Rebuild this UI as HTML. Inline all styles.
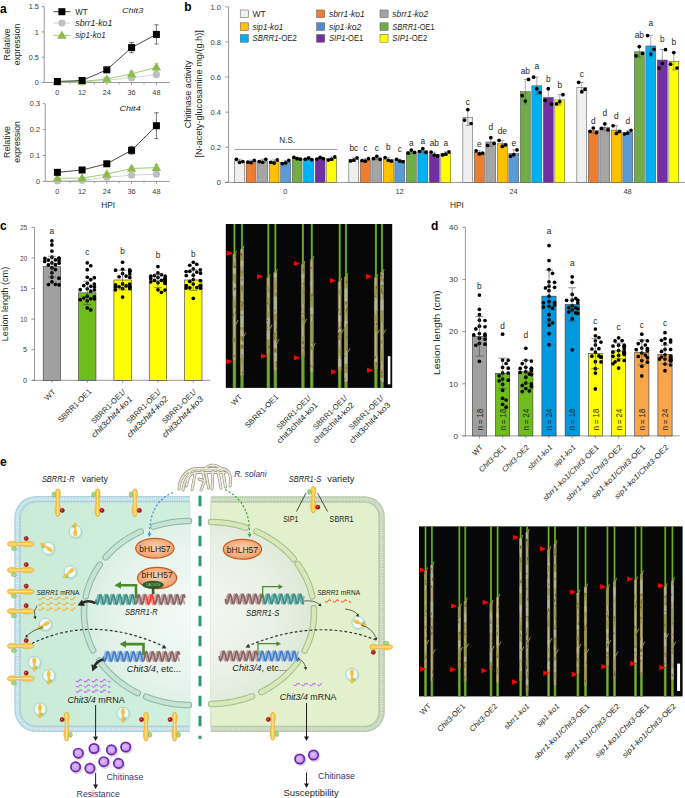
<!DOCTYPE html>
<html><head><meta charset="utf-8"><title>Figure</title>
<style>html,body{margin:0;padding:0;background:#fff;width:685px;height:798px;overflow:hidden;font-family:"Liberation Sans",sans-serif;}svg{display:block;}</style>
</head><body>
<svg width="685" height="798" viewBox="0 0 685 798" font-family='"Liberation Sans", sans-serif'>
<rect x="0.00" y="0.00" width="685.00" height="798.00" fill="#ffffff" stroke="none" stroke-width="0.5"/>
<defs><linearGradient id="gculm" x1="0" y1="0" x2="1" y2="0"><stop offset="0" stop-color="#3e7512"/><stop offset="0.45" stop-color="#79b536"/><stop offset="1" stop-color="#44801a"/></linearGradient><linearGradient id="gsheath" x1="0" y1="0" x2="1" y2="0"><stop offset="0" stop-color="#686230"/><stop offset="0.45" stop-color="#c2bc96"/><stop offset="1" stop-color="#6e6632"/></linearGradient><linearGradient id="gsheathg" x1="0" y1="0" x2="1" y2="0"><stop offset="0" stop-color="#44761a"/><stop offset="0.45" stop-color="#86b23e"/><stop offset="1" stop-color="#4c7e1c"/></linearGradient></defs>
<text x="0.00" y="12.50" font-size="12" text-anchor="start" fill="#000" font-weight="bold">a</text>
<g>
<line x1="44.20" y1="6.60" x2="44.20" y2="82.50" stroke="#6e6e6e" stroke-width="0.7"/>
<line x1="41.70" y1="82.50" x2="44.20" y2="82.50" stroke="#6e6e6e" stroke-width="0.7"/>
<text x="38.90" y="85.10" font-size="7.3" text-anchor="end" fill="#3a3a3a">0</text>
<line x1="41.70" y1="57.20" x2="44.20" y2="57.20" stroke="#6e6e6e" stroke-width="0.7"/>
<text x="38.90" y="59.80" font-size="7.3" text-anchor="end" fill="#3a3a3a">0.5</text>
<line x1="41.70" y1="31.90" x2="44.20" y2="31.90" stroke="#6e6e6e" stroke-width="0.7"/>
<text x="38.90" y="34.50" font-size="7.3" text-anchor="end" fill="#3a3a3a">1</text>
<line x1="41.70" y1="6.60" x2="44.20" y2="6.60" stroke="#6e6e6e" stroke-width="0.7"/>
<text x="38.90" y="9.20" font-size="7.3" text-anchor="end" fill="#3a3a3a">1.5</text>
<line x1="44.20" y1="82.50" x2="169.60" y2="82.50" stroke="#6e6e6e" stroke-width="0.7"/>
<line x1="57.40" y1="82.50" x2="57.40" y2="85.00" stroke="#6e6e6e" stroke-width="0.7"/>
<text x="57.40" y="95.10" font-size="7.3" text-anchor="middle" fill="#3a3a3a">0</text>
<line x1="82.10" y1="82.50" x2="82.10" y2="85.00" stroke="#6e6e6e" stroke-width="0.7"/>
<text x="82.10" y="95.10" font-size="7.3" text-anchor="middle" fill="#3a3a3a">12</text>
<line x1="106.80" y1="82.50" x2="106.80" y2="85.00" stroke="#6e6e6e" stroke-width="0.7"/>
<text x="106.80" y="95.10" font-size="7.3" text-anchor="middle" fill="#3a3a3a">24</text>
<line x1="131.60" y1="82.50" x2="131.60" y2="85.00" stroke="#6e6e6e" stroke-width="0.7"/>
<text x="131.60" y="95.10" font-size="7.3" text-anchor="middle" fill="#3a3a3a">36</text>
<line x1="156.40" y1="82.50" x2="156.40" y2="85.00" stroke="#6e6e6e" stroke-width="0.7"/>
<text x="156.40" y="95.10" font-size="7.3" text-anchor="middle" fill="#3a3a3a">48</text>
<line x1="69.80" y1="82.50" x2="69.80" y2="84.30" stroke="#6e6e6e" stroke-width="0.6"/>
<line x1="94.40" y1="82.50" x2="94.40" y2="84.30" stroke="#6e6e6e" stroke-width="0.6"/>
<line x1="119.20" y1="82.50" x2="119.20" y2="84.30" stroke="#6e6e6e" stroke-width="0.6"/>
<line x1="144.00" y1="82.50" x2="144.00" y2="84.30" stroke="#6e6e6e" stroke-width="0.6"/>
<text x="122.00" y="12.80" font-size="8.0" text-anchor="start" fill="#231f20" textLength="21.2" lengthAdjust="spacingAndGlyphs" font-style="italic">Chit3</text>
<path d="M57.40 82.25 L82.10 81.99 L106.80 79.97 L131.60 77.95 L156.40 74.40" fill="none" stroke="#c8c8c8" stroke-width="0.8"/>
<line x1="106.80" y1="78.96" x2="106.80" y2="80.98" stroke="#c8c8c8" stroke-width="0.6"/>
<line x1="104.60" y1="78.96" x2="109.00" y2="78.96" stroke="#c8c8c8" stroke-width="0.6"/>
<line x1="104.60" y1="80.98" x2="109.00" y2="80.98" stroke="#c8c8c8" stroke-width="0.6"/>
<line x1="131.60" y1="76.43" x2="131.60" y2="79.46" stroke="#c8c8c8" stroke-width="0.6"/>
<line x1="129.40" y1="76.43" x2="133.80" y2="76.43" stroke="#c8c8c8" stroke-width="0.6"/>
<line x1="129.40" y1="79.46" x2="133.80" y2="79.46" stroke="#c8c8c8" stroke-width="0.6"/>
<line x1="156.40" y1="72.89" x2="156.40" y2="75.92" stroke="#c8c8c8" stroke-width="0.6"/>
<line x1="154.20" y1="72.89" x2="158.60" y2="72.89" stroke="#c8c8c8" stroke-width="0.6"/>
<line x1="154.20" y1="75.92" x2="158.60" y2="75.92" stroke="#c8c8c8" stroke-width="0.6"/>
<circle cx="57.40" cy="82.25" r="3.60" fill="#c0c0c0" stroke="none" stroke-width="0.5"/>
<circle cx="82.10" cy="81.99" r="3.60" fill="#c0c0c0" stroke="none" stroke-width="0.5"/>
<circle cx="106.80" cy="79.97" r="3.60" fill="#c0c0c0" stroke="none" stroke-width="0.5"/>
<circle cx="131.60" cy="77.95" r="3.60" fill="#c0c0c0" stroke="none" stroke-width="0.5"/>
<circle cx="156.40" cy="74.40" r="3.60" fill="#c0c0c0" stroke="none" stroke-width="0.5"/>
<path d="M57.40 81.99 L82.10 81.49 L106.80 78.96 L131.60 73.90 L156.40 67.32" fill="none" stroke="#8cbb4c" stroke-width="0.8"/>
<line x1="106.80" y1="77.95" x2="106.80" y2="79.97" stroke="#8cbb4c" stroke-width="0.6"/>
<line x1="104.60" y1="77.95" x2="109.00" y2="77.95" stroke="#8cbb4c" stroke-width="0.6"/>
<line x1="104.60" y1="79.97" x2="109.00" y2="79.97" stroke="#8cbb4c" stroke-width="0.6"/>
<line x1="131.60" y1="71.87" x2="131.60" y2="75.92" stroke="#8cbb4c" stroke-width="0.6"/>
<line x1="129.40" y1="71.87" x2="133.80" y2="71.87" stroke="#8cbb4c" stroke-width="0.6"/>
<line x1="129.40" y1="75.92" x2="133.80" y2="75.92" stroke="#8cbb4c" stroke-width="0.6"/>
<line x1="156.40" y1="63.78" x2="156.40" y2="70.86" stroke="#8cbb4c" stroke-width="0.6"/>
<line x1="154.20" y1="63.78" x2="158.60" y2="63.78" stroke="#8cbb4c" stroke-width="0.6"/>
<line x1="154.20" y1="70.86" x2="158.60" y2="70.86" stroke="#8cbb4c" stroke-width="0.6"/>
<path d="M57.40 77.19 L62.10 85.29 L52.70 85.29 Z" fill="#8cbb4c" stroke="none" stroke-width="0"/>
<path d="M82.10 76.69 L86.80 84.79 L77.40 84.79 Z" fill="#8cbb4c" stroke="none" stroke-width="0"/>
<path d="M106.80 74.16 L111.50 82.26 L102.10 82.26 Z" fill="#8cbb4c" stroke="none" stroke-width="0"/>
<path d="M131.60 69.10 L136.30 77.20 L126.90 77.20 Z" fill="#8cbb4c" stroke="none" stroke-width="0"/>
<path d="M156.40 62.52 L161.10 70.62 L151.70 70.62 Z" fill="#8cbb4c" stroke="none" stroke-width="0"/>
<path d="M57.40 81.49 L82.10 80.48 L106.80 69.85 L131.60 47.59 L156.40 34.43" fill="none" stroke="#1a1a1a" stroke-width="0.8"/>
<line x1="106.80" y1="68.84" x2="106.80" y2="70.86" stroke="#1a1a1a" stroke-width="0.6"/>
<line x1="104.60" y1="68.84" x2="109.00" y2="68.84" stroke="#1a1a1a" stroke-width="0.6"/>
<line x1="104.60" y1="70.86" x2="109.00" y2="70.86" stroke="#1a1a1a" stroke-width="0.6"/>
<line x1="131.60" y1="42.53" x2="131.60" y2="52.65" stroke="#1a1a1a" stroke-width="0.6"/>
<line x1="129.40" y1="42.53" x2="133.80" y2="42.53" stroke="#1a1a1a" stroke-width="0.6"/>
<line x1="129.40" y1="52.65" x2="133.80" y2="52.65" stroke="#1a1a1a" stroke-width="0.6"/>
<line x1="156.40" y1="24.82" x2="156.40" y2="44.04" stroke="#1a1a1a" stroke-width="0.6"/>
<line x1="154.20" y1="24.82" x2="158.60" y2="24.82" stroke="#1a1a1a" stroke-width="0.6"/>
<line x1="154.20" y1="44.04" x2="158.60" y2="44.04" stroke="#1a1a1a" stroke-width="0.6"/>
<rect x="53.90" y="77.99" width="7.00" height="7.00" fill="#000" stroke="none" stroke-width="0.5"/>
<rect x="78.60" y="76.98" width="7.00" height="7.00" fill="#000" stroke="none" stroke-width="0.5"/>
<rect x="103.30" y="66.35" width="7.00" height="7.00" fill="#000" stroke="none" stroke-width="0.5"/>
<rect x="128.10" y="44.09" width="7.00" height="7.00" fill="#000" stroke="none" stroke-width="0.5"/>
<rect x="152.90" y="30.93" width="7.00" height="7.00" fill="#000" stroke="none" stroke-width="0.5"/>
<line x1="45.30" y1="103.70" x2="45.30" y2="181.40" stroke="#6e6e6e" stroke-width="0.7"/>
<line x1="42.80" y1="181.40" x2="45.30" y2="181.40" stroke="#6e6e6e" stroke-width="0.7"/>
<text x="40.00" y="184.00" font-size="7.3" text-anchor="end" fill="#3a3a3a">0</text>
<line x1="42.80" y1="155.50" x2="45.30" y2="155.50" stroke="#6e6e6e" stroke-width="0.7"/>
<text x="40.00" y="158.10" font-size="7.3" text-anchor="end" fill="#3a3a3a">0.1</text>
<line x1="42.80" y1="129.60" x2="45.30" y2="129.60" stroke="#6e6e6e" stroke-width="0.7"/>
<text x="40.00" y="132.20" font-size="7.3" text-anchor="end" fill="#3a3a3a">0.2</text>
<line x1="42.80" y1="103.70" x2="45.30" y2="103.70" stroke="#6e6e6e" stroke-width="0.7"/>
<text x="40.00" y="106.30" font-size="7.3" text-anchor="end" fill="#3a3a3a">0.3</text>
<line x1="45.30" y1="181.40" x2="169.60" y2="181.40" stroke="#6e6e6e" stroke-width="0.7"/>
<line x1="57.40" y1="181.40" x2="57.40" y2="183.90" stroke="#6e6e6e" stroke-width="0.7"/>
<text x="57.40" y="194.00" font-size="7.3" text-anchor="middle" fill="#3a3a3a">0</text>
<line x1="82.10" y1="181.40" x2="82.10" y2="183.90" stroke="#6e6e6e" stroke-width="0.7"/>
<text x="82.10" y="194.00" font-size="7.3" text-anchor="middle" fill="#3a3a3a">12</text>
<line x1="106.80" y1="181.40" x2="106.80" y2="183.90" stroke="#6e6e6e" stroke-width="0.7"/>
<text x="106.80" y="194.00" font-size="7.3" text-anchor="middle" fill="#3a3a3a">24</text>
<line x1="131.60" y1="181.40" x2="131.60" y2="183.90" stroke="#6e6e6e" stroke-width="0.7"/>
<text x="131.60" y="194.00" font-size="7.3" text-anchor="middle" fill="#3a3a3a">36</text>
<line x1="156.40" y1="181.40" x2="156.40" y2="183.90" stroke="#6e6e6e" stroke-width="0.7"/>
<text x="156.40" y="194.00" font-size="7.3" text-anchor="middle" fill="#3a3a3a">48</text>
<line x1="69.80" y1="181.40" x2="69.80" y2="183.20" stroke="#6e6e6e" stroke-width="0.6"/>
<line x1="94.40" y1="181.40" x2="94.40" y2="183.20" stroke="#6e6e6e" stroke-width="0.6"/>
<line x1="119.20" y1="181.40" x2="119.20" y2="183.20" stroke="#6e6e6e" stroke-width="0.6"/>
<line x1="144.00" y1="181.40" x2="144.00" y2="183.20" stroke="#6e6e6e" stroke-width="0.6"/>
<text x="119.50" y="111.20" font-size="8.0" text-anchor="start" fill="#231f20" textLength="21.2" lengthAdjust="spacingAndGlyphs" font-style="italic">Chit4</text>
<path d="M57.40 180.88 L82.10 180.36 L106.80 177.26 L131.60 175.18 L156.40 174.15" fill="none" stroke="#c8c8c8" stroke-width="0.8"/>
<line x1="106.80" y1="176.48" x2="106.80" y2="178.03" stroke="#c8c8c8" stroke-width="0.6"/>
<line x1="104.60" y1="176.48" x2="109.00" y2="176.48" stroke="#c8c8c8" stroke-width="0.6"/>
<line x1="104.60" y1="178.03" x2="109.00" y2="178.03" stroke="#c8c8c8" stroke-width="0.6"/>
<line x1="131.60" y1="174.15" x2="131.60" y2="176.22" stroke="#c8c8c8" stroke-width="0.6"/>
<line x1="129.40" y1="174.15" x2="133.80" y2="174.15" stroke="#c8c8c8" stroke-width="0.6"/>
<line x1="129.40" y1="176.22" x2="133.80" y2="176.22" stroke="#c8c8c8" stroke-width="0.6"/>
<line x1="156.40" y1="172.85" x2="156.40" y2="175.44" stroke="#c8c8c8" stroke-width="0.6"/>
<line x1="154.20" y1="172.85" x2="158.60" y2="172.85" stroke="#c8c8c8" stroke-width="0.6"/>
<line x1="154.20" y1="175.44" x2="158.60" y2="175.44" stroke="#c8c8c8" stroke-width="0.6"/>
<circle cx="57.40" cy="180.88" r="3.60" fill="#c0c0c0" stroke="none" stroke-width="0.5"/>
<circle cx="82.10" cy="180.36" r="3.60" fill="#c0c0c0" stroke="none" stroke-width="0.5"/>
<circle cx="106.80" cy="177.26" r="3.60" fill="#c0c0c0" stroke="none" stroke-width="0.5"/>
<circle cx="131.60" cy="175.18" r="3.60" fill="#c0c0c0" stroke="none" stroke-width="0.5"/>
<circle cx="156.40" cy="174.15" r="3.60" fill="#c0c0c0" stroke="none" stroke-width="0.5"/>
<path d="M57.40 178.29 L82.10 178.03 L106.80 174.15 L131.60 168.45 L156.40 167.67" fill="none" stroke="#8cbb4c" stroke-width="0.8"/>
<line x1="106.80" y1="173.11" x2="106.80" y2="175.18" stroke="#8cbb4c" stroke-width="0.6"/>
<line x1="104.60" y1="173.11" x2="109.00" y2="173.11" stroke="#8cbb4c" stroke-width="0.6"/>
<line x1="104.60" y1="175.18" x2="109.00" y2="175.18" stroke="#8cbb4c" stroke-width="0.6"/>
<line x1="131.60" y1="166.38" x2="131.60" y2="170.52" stroke="#8cbb4c" stroke-width="0.6"/>
<line x1="129.40" y1="166.38" x2="133.80" y2="166.38" stroke="#8cbb4c" stroke-width="0.6"/>
<line x1="129.40" y1="170.52" x2="133.80" y2="170.52" stroke="#8cbb4c" stroke-width="0.6"/>
<line x1="156.40" y1="164.56" x2="156.40" y2="170.78" stroke="#8cbb4c" stroke-width="0.6"/>
<line x1="154.20" y1="164.56" x2="158.60" y2="164.56" stroke="#8cbb4c" stroke-width="0.6"/>
<line x1="154.20" y1="170.78" x2="158.60" y2="170.78" stroke="#8cbb4c" stroke-width="0.6"/>
<path d="M57.40 173.49 L62.10 181.59 L52.70 181.59 Z" fill="#8cbb4c" stroke="none" stroke-width="0"/>
<path d="M82.10 173.23 L86.80 181.33 L77.40 181.33 Z" fill="#8cbb4c" stroke="none" stroke-width="0"/>
<path d="M106.80 169.35 L111.50 177.45 L102.10 177.45 Z" fill="#8cbb4c" stroke="none" stroke-width="0"/>
<path d="M131.60 163.65 L136.30 171.75 L126.90 171.75 Z" fill="#8cbb4c" stroke="none" stroke-width="0"/>
<path d="M156.40 162.87 L161.10 170.97 L151.70 170.97 Z" fill="#8cbb4c" stroke="none" stroke-width="0"/>
<path d="M57.40 172.34 L82.10 170.00 L106.80 163.79 L131.60 150.32 L156.40 125.72" fill="none" stroke="#1a1a1a" stroke-width="0.8"/>
<line x1="106.80" y1="162.75" x2="106.80" y2="164.82" stroke="#1a1a1a" stroke-width="0.6"/>
<line x1="104.60" y1="162.75" x2="109.00" y2="162.75" stroke="#1a1a1a" stroke-width="0.6"/>
<line x1="104.60" y1="164.82" x2="109.00" y2="164.82" stroke="#1a1a1a" stroke-width="0.6"/>
<line x1="131.60" y1="146.44" x2="131.60" y2="154.20" stroke="#1a1a1a" stroke-width="0.6"/>
<line x1="129.40" y1="146.44" x2="133.80" y2="146.44" stroke="#1a1a1a" stroke-width="0.6"/>
<line x1="129.40" y1="154.20" x2="133.80" y2="154.20" stroke="#1a1a1a" stroke-width="0.6"/>
<line x1="156.40" y1="112.77" x2="156.40" y2="138.66" stroke="#1a1a1a" stroke-width="0.6"/>
<line x1="154.20" y1="112.77" x2="158.60" y2="112.77" stroke="#1a1a1a" stroke-width="0.6"/>
<line x1="154.20" y1="138.66" x2="158.60" y2="138.66" stroke="#1a1a1a" stroke-width="0.6"/>
<rect x="53.90" y="168.84" width="7.00" height="7.00" fill="#000" stroke="none" stroke-width="0.5"/>
<rect x="78.60" y="166.50" width="7.00" height="7.00" fill="#000" stroke="none" stroke-width="0.5"/>
<rect x="103.30" y="160.29" width="7.00" height="7.00" fill="#000" stroke="none" stroke-width="0.5"/>
<rect x="128.10" y="146.82" width="7.00" height="7.00" fill="#000" stroke="none" stroke-width="0.5"/>
<rect x="152.90" y="122.22" width="7.00" height="7.00" fill="#000" stroke="none" stroke-width="0.5"/>
<text x="9.90" y="44.50" font-size="8.7" text-anchor="middle" fill="#231f20" textLength="32.1" lengthAdjust="spacingAndGlyphs" transform="rotate(-90 9.9 44.5)">Relative</text>
<text x="19.70" y="44.50" font-size="8.7" text-anchor="middle" fill="#231f20" textLength="41.6" lengthAdjust="spacingAndGlyphs" transform="rotate(-90 19.7 44.5)">expression</text>
<text x="9.90" y="142.00" font-size="8.7" text-anchor="middle" fill="#231f20" textLength="32.1" lengthAdjust="spacingAndGlyphs" transform="rotate(-90 9.9 142)">Relative</text>
<text x="19.70" y="142.00" font-size="8.7" text-anchor="middle" fill="#231f20" textLength="41.6" lengthAdjust="spacingAndGlyphs" transform="rotate(-90 19.7 142)">expression</text>
<text x="108.10" y="207.60" font-size="8.2" text-anchor="middle" fill="#231f20" textLength="13.8" lengthAdjust="spacingAndGlyphs">HPI</text>
<line x1="53.40" y1="11.70" x2="70.40" y2="11.70" stroke="#1a1a1a" stroke-width="0.8"/>
<rect x="58.40" y="8.20" width="7.00" height="7.00" fill="#000" stroke="none" stroke-width="0.5"/>
<text x="75.30" y="14.70" font-size="8.3" text-anchor="start" fill="#231f20" textLength="12.4" lengthAdjust="spacingAndGlyphs">WT</text>
<line x1="53.40" y1="23.00" x2="70.40" y2="23.00" stroke="#c8c8c8" stroke-width="0.8"/>
<circle cx="61.90" cy="23.00" r="3.60" fill="#c0c0c0" stroke="none" stroke-width="0.5"/>
<text x="75.30" y="26.00" font-size="8.3" text-anchor="start" fill="#231f20" textLength="37.1" lengthAdjust="spacingAndGlyphs" font-style="italic">sbrr1-ko1</text>
<line x1="53.40" y1="35.40" x2="70.40" y2="35.40" stroke="#8cbb4c" stroke-width="0.8"/>
<path d="M61.90 30.60 L66.60 38.70 L57.20 38.70 Z" fill="#8cbb4c" stroke="none" stroke-width="0"/>
<text x="75.30" y="38.40" font-size="8.3" text-anchor="start" fill="#231f20" textLength="30.4" lengthAdjust="spacingAndGlyphs" font-style="italic">sip1-ko1</text>
</g>
<text x="184.30" y="10.50" font-size="12" text-anchor="start" fill="#000" font-weight="bold">b</text>
<line x1="228.60" y1="6.80" x2="228.60" y2="182.40" stroke="#6e6e6e" stroke-width="0.7"/>
<line x1="225.30" y1="182.40" x2="228.60" y2="182.40" stroke="#6e6e6e" stroke-width="0.7"/>
<text x="221.00" y="185.10" font-size="7.5" text-anchor="end" fill="#3a3a3a">0</text>
<line x1="225.30" y1="147.28" x2="228.60" y2="147.28" stroke="#6e6e6e" stroke-width="0.7"/>
<text x="221.00" y="149.98" font-size="7.5" text-anchor="end" fill="#3a3a3a">0.2</text>
<line x1="225.30" y1="112.16" x2="228.60" y2="112.16" stroke="#6e6e6e" stroke-width="0.7"/>
<text x="221.00" y="114.86" font-size="7.5" text-anchor="end" fill="#3a3a3a">0.4</text>
<line x1="225.30" y1="77.04" x2="228.60" y2="77.04" stroke="#6e6e6e" stroke-width="0.7"/>
<text x="221.00" y="79.74" font-size="7.5" text-anchor="end" fill="#3a3a3a">0.6</text>
<line x1="225.30" y1="41.92" x2="228.60" y2="41.92" stroke="#6e6e6e" stroke-width="0.7"/>
<text x="221.00" y="44.62" font-size="7.5" text-anchor="end" fill="#3a3a3a">0.8</text>
<line x1="225.30" y1="6.80" x2="228.60" y2="6.80" stroke="#6e6e6e" stroke-width="0.7"/>
<text x="221.00" y="9.50" font-size="7.5" text-anchor="end" fill="#3a3a3a">1.0</text>
<line x1="225.30" y1="182.40" x2="685.00" y2="182.40" stroke="#6e6e6e" stroke-width="0.7"/>
<text x="191.20" y="94.40" font-size="8.8" text-anchor="middle" fill="#231f20" textLength="67.7" lengthAdjust="spacingAndGlyphs" transform="rotate(-90 191.2 94.4)">Chitinase activity</text>
<text x="201.90" y="93.90" font-size="8.8" text-anchor="middle" fill="#231f20" textLength="127.4" lengthAdjust="spacingAndGlyphs" transform="rotate(-90 201.9 93.9)">[N-acety-glucosamine mg/(g.h)]</text>
<rect x="234.65" y="160.98" width="9.90" height="21.42" fill="#efefef" stroke="#4a4a4a" stroke-width="0.5"/>
<line x1="239.60" y1="159.22" x2="239.60" y2="162.73" stroke="#555" stroke-width="0.5"/>
<line x1="237.60" y1="159.22" x2="241.60" y2="159.22" stroke="#555" stroke-width="0.5"/>
<line x1="237.60" y1="162.73" x2="241.60" y2="162.73" stroke="#555" stroke-width="0.5"/>
<circle cx="236.40" cy="159.24" r="1.85" fill="#000" stroke="none" stroke-width="0.5"/>
<circle cx="239.60" cy="162.33" r="1.85" fill="#000" stroke="none" stroke-width="0.5"/>
<circle cx="242.80" cy="161.56" r="1.85" fill="#000" stroke="none" stroke-width="0.5"/>
<rect x="246.15" y="161.68" width="9.90" height="20.72" fill="#ed7d31" stroke="#4a4a4a" stroke-width="0.5"/>
<line x1="251.10" y1="160.27" x2="251.10" y2="163.08" stroke="#555" stroke-width="0.5"/>
<line x1="249.10" y1="160.27" x2="253.10" y2="160.27" stroke="#555" stroke-width="0.5"/>
<line x1="249.10" y1="163.08" x2="253.10" y2="163.08" stroke="#555" stroke-width="0.5"/>
<circle cx="247.90" cy="162.14" r="1.85" fill="#000" stroke="none" stroke-width="0.5"/>
<circle cx="251.10" cy="162.76" r="1.85" fill="#000" stroke="none" stroke-width="0.5"/>
<circle cx="254.30" cy="160.29" r="1.85" fill="#000" stroke="none" stroke-width="0.5"/>
<rect x="257.65" y="160.98" width="9.90" height="21.42" fill="#a5a5a5" stroke="#4a4a4a" stroke-width="0.5"/>
<line x1="262.60" y1="159.22" x2="262.60" y2="162.73" stroke="#555" stroke-width="0.5"/>
<line x1="260.60" y1="159.22" x2="264.60" y2="159.22" stroke="#555" stroke-width="0.5"/>
<line x1="260.60" y1="162.73" x2="264.60" y2="162.73" stroke="#555" stroke-width="0.5"/>
<circle cx="259.40" cy="161.56" r="1.85" fill="#000" stroke="none" stroke-width="0.5"/>
<circle cx="262.60" cy="162.33" r="1.85" fill="#000" stroke="none" stroke-width="0.5"/>
<circle cx="265.80" cy="159.24" r="1.85" fill="#000" stroke="none" stroke-width="0.5"/>
<rect x="269.15" y="161.68" width="9.90" height="20.72" fill="#ffc000" stroke="#4a4a4a" stroke-width="0.5"/>
<line x1="274.10" y1="159.92" x2="274.10" y2="163.44" stroke="#555" stroke-width="0.5"/>
<line x1="272.10" y1="159.92" x2="276.10" y2="159.92" stroke="#555" stroke-width="0.5"/>
<line x1="272.10" y1="163.44" x2="276.10" y2="163.44" stroke="#555" stroke-width="0.5"/>
<circle cx="270.90" cy="162.26" r="1.85" fill="#000" stroke="none" stroke-width="0.5"/>
<circle cx="274.10" cy="163.03" r="1.85" fill="#000" stroke="none" stroke-width="0.5"/>
<circle cx="277.30" cy="159.94" r="1.85" fill="#000" stroke="none" stroke-width="0.5"/>
<rect x="280.65" y="162.21" width="9.90" height="20.19" fill="#5b9bd5" stroke="#4a4a4a" stroke-width="0.5"/>
<line x1="285.60" y1="160.45" x2="285.60" y2="163.96" stroke="#555" stroke-width="0.5"/>
<line x1="283.60" y1="160.45" x2="287.60" y2="160.45" stroke="#555" stroke-width="0.5"/>
<line x1="283.60" y1="163.96" x2="287.60" y2="163.96" stroke="#555" stroke-width="0.5"/>
<circle cx="282.40" cy="163.56" r="1.85" fill="#000" stroke="none" stroke-width="0.5"/>
<circle cx="285.60" cy="162.79" r="1.85" fill="#000" stroke="none" stroke-width="0.5"/>
<circle cx="288.80" cy="160.47" r="1.85" fill="#000" stroke="none" stroke-width="0.5"/>
<rect x="292.15" y="158.34" width="9.90" height="24.06" fill="#70ad47" stroke="#4a4a4a" stroke-width="0.5"/>
<line x1="297.10" y1="157.29" x2="297.10" y2="159.40" stroke="#555" stroke-width="0.5"/>
<line x1="295.10" y1="157.29" x2="299.10" y2="157.29" stroke="#555" stroke-width="0.5"/>
<line x1="295.10" y1="159.40" x2="299.10" y2="159.40" stroke="#555" stroke-width="0.5"/>
<circle cx="293.90" cy="157.30" r="1.85" fill="#000" stroke="none" stroke-width="0.5"/>
<circle cx="297.10" cy="158.69" r="1.85" fill="#000" stroke="none" stroke-width="0.5"/>
<circle cx="300.30" cy="159.15" r="1.85" fill="#000" stroke="none" stroke-width="0.5"/>
<rect x="303.65" y="158.87" width="9.90" height="23.53" fill="#00b0f0" stroke="#4a4a4a" stroke-width="0.5"/>
<line x1="308.60" y1="157.82" x2="308.60" y2="159.92" stroke="#555" stroke-width="0.5"/>
<line x1="306.60" y1="157.82" x2="310.60" y2="157.82" stroke="#555" stroke-width="0.5"/>
<line x1="306.60" y1="159.92" x2="310.60" y2="159.92" stroke="#555" stroke-width="0.5"/>
<circle cx="305.40" cy="159.22" r="1.85" fill="#000" stroke="none" stroke-width="0.5"/>
<circle cx="308.60" cy="157.83" r="1.85" fill="#000" stroke="none" stroke-width="0.5"/>
<circle cx="311.80" cy="159.68" r="1.85" fill="#000" stroke="none" stroke-width="0.5"/>
<rect x="315.15" y="158.34" width="9.90" height="24.06" fill="#7030a0" stroke="#4a4a4a" stroke-width="0.5"/>
<line x1="320.10" y1="157.46" x2="320.10" y2="159.22" stroke="#555" stroke-width="0.5"/>
<line x1="318.10" y1="157.46" x2="322.10" y2="157.46" stroke="#555" stroke-width="0.5"/>
<line x1="318.10" y1="159.22" x2="322.10" y2="159.22" stroke="#555" stroke-width="0.5"/>
<circle cx="316.90" cy="159.02" r="1.85" fill="#000" stroke="none" stroke-width="0.5"/>
<circle cx="320.10" cy="157.47" r="1.85" fill="#000" stroke="none" stroke-width="0.5"/>
<circle cx="323.30" cy="158.63" r="1.85" fill="#000" stroke="none" stroke-width="0.5"/>
<rect x="326.65" y="158.69" width="9.90" height="23.71" fill="#ffff00" stroke="#4a4a4a" stroke-width="0.5"/>
<line x1="331.60" y1="156.94" x2="331.60" y2="160.45" stroke="#555" stroke-width="0.5"/>
<line x1="329.60" y1="156.94" x2="333.60" y2="156.94" stroke="#555" stroke-width="0.5"/>
<line x1="329.60" y1="160.45" x2="333.60" y2="160.45" stroke="#555" stroke-width="0.5"/>
<circle cx="328.40" cy="160.05" r="1.85" fill="#000" stroke="none" stroke-width="0.5"/>
<circle cx="331.60" cy="159.27" r="1.85" fill="#000" stroke="none" stroke-width="0.5"/>
<circle cx="334.80" cy="156.96" r="1.85" fill="#000" stroke="none" stroke-width="0.5"/>
<text x="285.40" y="194.40" font-size="7.5" text-anchor="middle" fill="#3a3a3a">0</text>
<rect x="348.85" y="159.57" width="9.90" height="22.83" fill="#efefef" stroke="#4a4a4a" stroke-width="0.5"/>
<line x1="353.80" y1="157.82" x2="353.80" y2="161.33" stroke="#555" stroke-width="0.5"/>
<line x1="351.80" y1="157.82" x2="355.80" y2="157.82" stroke="#555" stroke-width="0.5"/>
<line x1="351.80" y1="161.33" x2="355.80" y2="161.33" stroke="#555" stroke-width="0.5"/>
<circle cx="350.60" cy="160.92" r="1.85" fill="#000" stroke="none" stroke-width="0.5"/>
<circle cx="353.80" cy="160.15" r="1.85" fill="#000" stroke="none" stroke-width="0.5"/>
<circle cx="357.00" cy="157.83" r="1.85" fill="#000" stroke="none" stroke-width="0.5"/>
<text x="353.80" y="151.20" font-size="8.3" text-anchor="middle" fill="#231f20">bc</text>
<rect x="360.35" y="160.10" width="9.90" height="22.30" fill="#ed7d31" stroke="#4a4a4a" stroke-width="0.5"/>
<line x1="365.30" y1="158.69" x2="365.30" y2="161.50" stroke="#555" stroke-width="0.5"/>
<line x1="363.30" y1="158.69" x2="367.30" y2="158.69" stroke="#555" stroke-width="0.5"/>
<line x1="363.30" y1="161.50" x2="367.30" y2="161.50" stroke="#555" stroke-width="0.5"/>
<circle cx="362.10" cy="160.56" r="1.85" fill="#000" stroke="none" stroke-width="0.5"/>
<circle cx="365.30" cy="161.18" r="1.85" fill="#000" stroke="none" stroke-width="0.5"/>
<circle cx="368.50" cy="158.71" r="1.85" fill="#000" stroke="none" stroke-width="0.5"/>
<text x="365.30" y="151.20" font-size="8.3" text-anchor="middle" fill="#231f20">c</text>
<rect x="371.85" y="157.99" width="9.90" height="24.41" fill="#a5a5a5" stroke="#4a4a4a" stroke-width="0.5"/>
<line x1="376.80" y1="156.24" x2="376.80" y2="159.75" stroke="#555" stroke-width="0.5"/>
<line x1="374.80" y1="156.24" x2="378.80" y2="156.24" stroke="#555" stroke-width="0.5"/>
<line x1="374.80" y1="159.75" x2="378.80" y2="159.75" stroke="#555" stroke-width="0.5"/>
<circle cx="373.60" cy="158.57" r="1.85" fill="#000" stroke="none" stroke-width="0.5"/>
<circle cx="376.80" cy="156.25" r="1.85" fill="#000" stroke="none" stroke-width="0.5"/>
<circle cx="380.00" cy="159.34" r="1.85" fill="#000" stroke="none" stroke-width="0.5"/>
<text x="376.80" y="151.20" font-size="8.3" text-anchor="middle" fill="#231f20">c</text>
<rect x="383.35" y="159.57" width="9.90" height="22.83" fill="#ffc000" stroke="#4a4a4a" stroke-width="0.5"/>
<line x1="388.30" y1="157.46" x2="388.30" y2="161.68" stroke="#555" stroke-width="0.5"/>
<line x1="386.30" y1="157.46" x2="390.30" y2="157.46" stroke="#555" stroke-width="0.5"/>
<line x1="386.30" y1="161.68" x2="390.30" y2="161.68" stroke="#555" stroke-width="0.5"/>
<circle cx="385.10" cy="157.49" r="1.85" fill="#000" stroke="none" stroke-width="0.5"/>
<circle cx="388.30" cy="160.27" r="1.85" fill="#000" stroke="none" stroke-width="0.5"/>
<circle cx="391.50" cy="161.19" r="1.85" fill="#000" stroke="none" stroke-width="0.5"/>
<text x="388.30" y="149.50" font-size="8.3" text-anchor="middle" fill="#231f20">b</text>
<rect x="394.85" y="160.63" width="9.90" height="21.77" fill="#5b9bd5" stroke="#4a4a4a" stroke-width="0.5"/>
<line x1="399.80" y1="159.22" x2="399.80" y2="162.03" stroke="#555" stroke-width="0.5"/>
<line x1="397.80" y1="159.22" x2="401.80" y2="159.22" stroke="#555" stroke-width="0.5"/>
<line x1="397.80" y1="162.03" x2="401.80" y2="162.03" stroke="#555" stroke-width="0.5"/>
<circle cx="396.60" cy="159.23" r="1.85" fill="#000" stroke="none" stroke-width="0.5"/>
<circle cx="399.80" cy="161.09" r="1.85" fill="#000" stroke="none" stroke-width="0.5"/>
<circle cx="403.00" cy="161.71" r="1.85" fill="#000" stroke="none" stroke-width="0.5"/>
<text x="399.80" y="152.00" font-size="8.3" text-anchor="middle" fill="#231f20">c</text>
<rect x="406.35" y="151.85" width="9.90" height="30.55" fill="#70ad47" stroke="#4a4a4a" stroke-width="0.5"/>
<line x1="411.30" y1="150.09" x2="411.30" y2="153.60" stroke="#555" stroke-width="0.5"/>
<line x1="409.30" y1="150.09" x2="413.30" y2="150.09" stroke="#555" stroke-width="0.5"/>
<line x1="409.30" y1="153.60" x2="413.30" y2="153.60" stroke="#555" stroke-width="0.5"/>
<circle cx="408.10" cy="153.20" r="1.85" fill="#000" stroke="none" stroke-width="0.5"/>
<circle cx="411.30" cy="150.11" r="1.85" fill="#000" stroke="none" stroke-width="0.5"/>
<circle cx="414.50" cy="152.43" r="1.85" fill="#000" stroke="none" stroke-width="0.5"/>
<text x="411.30" y="146.00" font-size="8.3" text-anchor="middle" fill="#231f20">a</text>
<rect x="417.85" y="150.79" width="9.90" height="31.61" fill="#00b0f0" stroke="#4a4a4a" stroke-width="0.5"/>
<line x1="422.80" y1="148.68" x2="422.80" y2="152.90" stroke="#555" stroke-width="0.5"/>
<line x1="420.80" y1="148.68" x2="424.80" y2="148.68" stroke="#555" stroke-width="0.5"/>
<line x1="420.80" y1="152.90" x2="424.80" y2="152.90" stroke="#555" stroke-width="0.5"/>
<circle cx="419.60" cy="151.49" r="1.85" fill="#000" stroke="none" stroke-width="0.5"/>
<circle cx="422.80" cy="148.71" r="1.85" fill="#000" stroke="none" stroke-width="0.5"/>
<circle cx="426.00" cy="152.41" r="1.85" fill="#000" stroke="none" stroke-width="0.5"/>
<text x="422.80" y="143.50" font-size="8.3" text-anchor="middle" fill="#231f20">a</text>
<rect x="429.35" y="154.30" width="9.90" height="28.10" fill="#7030a0" stroke="#4a4a4a" stroke-width="0.5"/>
<line x1="434.30" y1="152.20" x2="434.30" y2="156.41" stroke="#555" stroke-width="0.5"/>
<line x1="432.30" y1="152.20" x2="436.30" y2="152.20" stroke="#555" stroke-width="0.5"/>
<line x1="432.30" y1="156.41" x2="436.30" y2="156.41" stroke="#555" stroke-width="0.5"/>
<circle cx="431.10" cy="152.22" r="1.85" fill="#000" stroke="none" stroke-width="0.5"/>
<circle cx="434.30" cy="155.00" r="1.85" fill="#000" stroke="none" stroke-width="0.5"/>
<circle cx="437.50" cy="155.93" r="1.85" fill="#000" stroke="none" stroke-width="0.5"/>
<text x="434.30" y="146.00" font-size="8.3" text-anchor="middle" fill="#231f20">ab</text>
<rect x="440.85" y="153.60" width="9.90" height="28.80" fill="#ffff00" stroke="#4a4a4a" stroke-width="0.5"/>
<line x1="445.80" y1="151.85" x2="445.80" y2="155.36" stroke="#555" stroke-width="0.5"/>
<line x1="443.80" y1="151.85" x2="447.80" y2="151.85" stroke="#555" stroke-width="0.5"/>
<line x1="443.80" y1="155.36" x2="447.80" y2="155.36" stroke="#555" stroke-width="0.5"/>
<circle cx="442.60" cy="154.95" r="1.85" fill="#000" stroke="none" stroke-width="0.5"/>
<circle cx="445.80" cy="154.18" r="1.85" fill="#000" stroke="none" stroke-width="0.5"/>
<circle cx="449.00" cy="151.86" r="1.85" fill="#000" stroke="none" stroke-width="0.5"/>
<text x="445.80" y="146.00" font-size="8.3" text-anchor="middle" fill="#231f20">a</text>
<text x="399.60" y="194.40" font-size="7.5" text-anchor="middle" fill="#3a3a3a">12</text>
<rect x="462.85" y="117.43" width="9.90" height="64.97" fill="#efefef" stroke="#4a4a4a" stroke-width="0.5"/>
<line x1="467.80" y1="109.53" x2="467.80" y2="125.33" stroke="#555" stroke-width="0.5"/>
<line x1="465.80" y1="109.53" x2="469.80" y2="109.53" stroke="#555" stroke-width="0.5"/>
<line x1="465.80" y1="125.33" x2="469.80" y2="125.33" stroke="#555" stroke-width="0.5"/>
<circle cx="464.60" cy="120.04" r="1.85" fill="#000" stroke="none" stroke-width="0.5"/>
<circle cx="467.80" cy="109.61" r="1.85" fill="#000" stroke="none" stroke-width="0.5"/>
<circle cx="471.00" cy="123.51" r="1.85" fill="#000" stroke="none" stroke-width="0.5"/>
<text x="467.80" y="104.70" font-size="8.3" text-anchor="middle" fill="#231f20">c</text>
<rect x="474.35" y="152.55" width="9.90" height="29.85" fill="#ed7d31" stroke="#4a4a4a" stroke-width="0.5"/>
<line x1="479.30" y1="150.79" x2="479.30" y2="154.30" stroke="#555" stroke-width="0.5"/>
<line x1="477.30" y1="150.79" x2="481.30" y2="150.79" stroke="#555" stroke-width="0.5"/>
<line x1="477.30" y1="154.30" x2="481.30" y2="154.30" stroke="#555" stroke-width="0.5"/>
<circle cx="476.10" cy="150.81" r="1.85" fill="#000" stroke="none" stroke-width="0.5"/>
<circle cx="479.30" cy="153.90" r="1.85" fill="#000" stroke="none" stroke-width="0.5"/>
<circle cx="482.50" cy="153.13" r="1.85" fill="#000" stroke="none" stroke-width="0.5"/>
<text x="479.30" y="146.60" font-size="8.3" text-anchor="middle" fill="#231f20">e</text>
<rect x="485.85" y="142.01" width="9.90" height="40.39" fill="#a5a5a5" stroke="#4a4a4a" stroke-width="0.5"/>
<line x1="490.80" y1="137.62" x2="490.80" y2="146.40" stroke="#555" stroke-width="0.5"/>
<line x1="488.80" y1="137.62" x2="492.80" y2="137.62" stroke="#555" stroke-width="0.5"/>
<line x1="488.80" y1="146.40" x2="492.80" y2="146.40" stroke="#555" stroke-width="0.5"/>
<circle cx="487.60" cy="145.39" r="1.85" fill="#000" stroke="none" stroke-width="0.5"/>
<circle cx="490.80" cy="137.67" r="1.85" fill="#000" stroke="none" stroke-width="0.5"/>
<circle cx="494.00" cy="143.46" r="1.85" fill="#000" stroke="none" stroke-width="0.5"/>
<text x="490.80" y="129.70" font-size="8.3" text-anchor="middle" fill="#231f20">d</text>
<rect x="497.35" y="143.77" width="9.90" height="38.63" fill="#ffc000" stroke="#4a4a4a" stroke-width="0.5"/>
<line x1="502.30" y1="140.26" x2="502.30" y2="147.28" stroke="#555" stroke-width="0.5"/>
<line x1="500.30" y1="140.26" x2="504.30" y2="140.26" stroke="#555" stroke-width="0.5"/>
<line x1="500.30" y1="147.28" x2="504.30" y2="147.28" stroke="#555" stroke-width="0.5"/>
<circle cx="499.10" cy="140.29" r="1.85" fill="#000" stroke="none" stroke-width="0.5"/>
<circle cx="502.30" cy="146.47" r="1.85" fill="#000" stroke="none" stroke-width="0.5"/>
<circle cx="505.50" cy="144.93" r="1.85" fill="#000" stroke="none" stroke-width="0.5"/>
<text x="502.30" y="133.50" font-size="8.3" text-anchor="middle" fill="#231f20">de</text>
<rect x="508.85" y="153.43" width="9.90" height="28.97" fill="#5b9bd5" stroke="#4a4a4a" stroke-width="0.5"/>
<line x1="513.80" y1="149.91" x2="513.80" y2="156.94" stroke="#555" stroke-width="0.5"/>
<line x1="511.80" y1="149.91" x2="515.80" y2="149.91" stroke="#555" stroke-width="0.5"/>
<line x1="511.80" y1="156.94" x2="515.80" y2="156.94" stroke="#555" stroke-width="0.5"/>
<circle cx="510.60" cy="156.13" r="1.85" fill="#000" stroke="none" stroke-width="0.5"/>
<circle cx="513.80" cy="154.58" r="1.85" fill="#000" stroke="none" stroke-width="0.5"/>
<circle cx="517.00" cy="149.95" r="1.85" fill="#000" stroke="none" stroke-width="0.5"/>
<text x="513.80" y="145.50" font-size="8.3" text-anchor="middle" fill="#231f20">e</text>
<rect x="520.35" y="91.61" width="9.90" height="90.79" fill="#70ad47" stroke="#4a4a4a" stroke-width="0.5"/>
<line x1="525.30" y1="79.32" x2="525.30" y2="103.91" stroke="#555" stroke-width="0.5"/>
<line x1="523.30" y1="79.32" x2="527.30" y2="79.32" stroke="#555" stroke-width="0.5"/>
<line x1="523.30" y1="103.91" x2="527.30" y2="103.91" stroke="#555" stroke-width="0.5"/>
<circle cx="522.10" cy="95.67" r="1.85" fill="#000" stroke="none" stroke-width="0.5"/>
<circle cx="525.30" cy="101.08" r="1.85" fill="#000" stroke="none" stroke-width="0.5"/>
<circle cx="528.50" cy="79.45" r="1.85" fill="#000" stroke="none" stroke-width="0.5"/>
<text x="525.30" y="74.40" font-size="8.3" text-anchor="middle" fill="#231f20">ab</text>
<rect x="531.85" y="85.82" width="9.90" height="96.58" fill="#00b0f0" stroke="#4a4a4a" stroke-width="0.5"/>
<line x1="536.80" y1="77.04" x2="536.80" y2="94.60" stroke="#555" stroke-width="0.5"/>
<line x1="534.80" y1="77.04" x2="538.80" y2="77.04" stroke="#555" stroke-width="0.5"/>
<line x1="534.80" y1="94.60" x2="538.80" y2="94.60" stroke="#555" stroke-width="0.5"/>
<circle cx="533.60" cy="77.13" r="1.85" fill="#000" stroke="none" stroke-width="0.5"/>
<circle cx="536.80" cy="88.72" r="1.85" fill="#000" stroke="none" stroke-width="0.5"/>
<circle cx="540.00" cy="92.58" r="1.85" fill="#000" stroke="none" stroke-width="0.5"/>
<text x="536.80" y="69.20" font-size="8.3" text-anchor="middle" fill="#231f20">a</text>
<rect x="543.35" y="97.41" width="9.90" height="84.99" fill="#7030a0" stroke="#4a4a4a" stroke-width="0.5"/>
<line x1="548.30" y1="88.63" x2="548.30" y2="106.19" stroke="#555" stroke-width="0.5"/>
<line x1="546.30" y1="88.63" x2="550.30" y2="88.63" stroke="#555" stroke-width="0.5"/>
<line x1="546.30" y1="106.19" x2="550.30" y2="106.19" stroke="#555" stroke-width="0.5"/>
<circle cx="545.10" cy="100.31" r="1.85" fill="#000" stroke="none" stroke-width="0.5"/>
<circle cx="548.30" cy="88.72" r="1.85" fill="#000" stroke="none" stroke-width="0.5"/>
<circle cx="551.50" cy="104.17" r="1.85" fill="#000" stroke="none" stroke-width="0.5"/>
<text x="548.30" y="82.00" font-size="8.3" text-anchor="middle" fill="#231f20">b</text>
<rect x="554.85" y="99.87" width="9.90" height="82.53" fill="#ffff00" stroke="#4a4a4a" stroke-width="0.5"/>
<line x1="559.80" y1="94.60" x2="559.80" y2="105.14" stroke="#555" stroke-width="0.5"/>
<line x1="557.80" y1="94.60" x2="561.80" y2="94.60" stroke="#555" stroke-width="0.5"/>
<line x1="557.80" y1="105.14" x2="561.80" y2="105.14" stroke="#555" stroke-width="0.5"/>
<circle cx="556.60" cy="103.92" r="1.85" fill="#000" stroke="none" stroke-width="0.5"/>
<circle cx="559.80" cy="101.61" r="1.85" fill="#000" stroke="none" stroke-width="0.5"/>
<circle cx="563.00" cy="94.65" r="1.85" fill="#000" stroke="none" stroke-width="0.5"/>
<text x="559.80" y="88.40" font-size="8.3" text-anchor="middle" fill="#231f20">b</text>
<text x="513.60" y="194.40" font-size="7.5" text-anchor="middle" fill="#3a3a3a">24</text>
<rect x="576.85" y="87.58" width="9.90" height="94.82" fill="#efefef" stroke="#4a4a4a" stroke-width="0.5"/>
<line x1="581.80" y1="82.31" x2="581.80" y2="92.84" stroke="#555" stroke-width="0.5"/>
<line x1="579.80" y1="82.31" x2="583.80" y2="82.31" stroke="#555" stroke-width="0.5"/>
<line x1="579.80" y1="92.84" x2="583.80" y2="92.84" stroke="#555" stroke-width="0.5"/>
<circle cx="578.60" cy="82.36" r="1.85" fill="#000" stroke="none" stroke-width="0.5"/>
<circle cx="581.80" cy="91.63" r="1.85" fill="#000" stroke="none" stroke-width="0.5"/>
<circle cx="585.00" cy="89.31" r="1.85" fill="#000" stroke="none" stroke-width="0.5"/>
<text x="581.80" y="76.80" font-size="8.3" text-anchor="middle" fill="#231f20">c</text>
<rect x="588.35" y="130.60" width="9.90" height="51.80" fill="#ed7d31" stroke="#4a4a4a" stroke-width="0.5"/>
<line x1="593.30" y1="127.96" x2="593.30" y2="133.23" stroke="#555" stroke-width="0.5"/>
<line x1="591.30" y1="127.96" x2="595.30" y2="127.96" stroke="#555" stroke-width="0.5"/>
<line x1="591.30" y1="133.23" x2="595.30" y2="133.23" stroke="#555" stroke-width="0.5"/>
<circle cx="590.10" cy="131.47" r="1.85" fill="#000" stroke="none" stroke-width="0.5"/>
<circle cx="593.30" cy="127.99" r="1.85" fill="#000" stroke="none" stroke-width="0.5"/>
<circle cx="596.50" cy="132.63" r="1.85" fill="#000" stroke="none" stroke-width="0.5"/>
<text x="593.30" y="123.70" font-size="8.3" text-anchor="middle" fill="#231f20">d</text>
<rect x="599.85" y="127.26" width="9.90" height="55.14" fill="#a5a5a5" stroke="#4a4a4a" stroke-width="0.5"/>
<line x1="604.80" y1="123.75" x2="604.80" y2="130.77" stroke="#555" stroke-width="0.5"/>
<line x1="602.80" y1="123.75" x2="606.80" y2="123.75" stroke="#555" stroke-width="0.5"/>
<line x1="602.80" y1="130.77" x2="606.80" y2="130.77" stroke="#555" stroke-width="0.5"/>
<circle cx="601.60" cy="128.42" r="1.85" fill="#000" stroke="none" stroke-width="0.5"/>
<circle cx="604.80" cy="123.78" r="1.85" fill="#000" stroke="none" stroke-width="0.5"/>
<circle cx="608.00" cy="129.97" r="1.85" fill="#000" stroke="none" stroke-width="0.5"/>
<text x="604.80" y="115.90" font-size="8.3" text-anchor="middle" fill="#231f20">d</text>
<rect x="611.35" y="130.07" width="9.90" height="52.33" fill="#ffc000" stroke="#4a4a4a" stroke-width="0.5"/>
<line x1="616.30" y1="125.68" x2="616.30" y2="134.46" stroke="#555" stroke-width="0.5"/>
<line x1="614.30" y1="125.68" x2="618.30" y2="125.68" stroke="#555" stroke-width="0.5"/>
<line x1="614.30" y1="134.46" x2="618.30" y2="134.46" stroke="#555" stroke-width="0.5"/>
<circle cx="613.10" cy="125.73" r="1.85" fill="#000" stroke="none" stroke-width="0.5"/>
<circle cx="616.30" cy="133.45" r="1.85" fill="#000" stroke="none" stroke-width="0.5"/>
<circle cx="619.50" cy="131.52" r="1.85" fill="#000" stroke="none" stroke-width="0.5"/>
<text x="616.30" y="119.00" font-size="8.3" text-anchor="middle" fill="#231f20">d</text>
<rect x="622.85" y="132.35" width="9.90" height="50.05" fill="#5b9bd5" stroke="#4a4a4a" stroke-width="0.5"/>
<line x1="627.80" y1="130.25" x2="627.80" y2="134.46" stroke="#555" stroke-width="0.5"/>
<line x1="625.80" y1="130.25" x2="629.80" y2="130.25" stroke="#555" stroke-width="0.5"/>
<line x1="625.80" y1="134.46" x2="629.80" y2="134.46" stroke="#555" stroke-width="0.5"/>
<circle cx="624.60" cy="133.98" r="1.85" fill="#000" stroke="none" stroke-width="0.5"/>
<circle cx="627.80" cy="133.05" r="1.85" fill="#000" stroke="none" stroke-width="0.5"/>
<circle cx="631.00" cy="130.27" r="1.85" fill="#000" stroke="none" stroke-width="0.5"/>
<text x="627.80" y="123.70" font-size="8.3" text-anchor="middle" fill="#231f20">d</text>
<rect x="634.35" y="51.75" width="9.90" height="130.65" fill="#70ad47" stroke="#4a4a4a" stroke-width="0.5"/>
<line x1="639.30" y1="46.49" x2="639.30" y2="57.02" stroke="#555" stroke-width="0.5"/>
<line x1="637.30" y1="46.49" x2="641.30" y2="46.49" stroke="#555" stroke-width="0.5"/>
<line x1="637.30" y1="57.02" x2="641.30" y2="57.02" stroke="#555" stroke-width="0.5"/>
<circle cx="636.10" cy="55.81" r="1.85" fill="#000" stroke="none" stroke-width="0.5"/>
<circle cx="639.30" cy="46.54" r="1.85" fill="#000" stroke="none" stroke-width="0.5"/>
<circle cx="642.50" cy="53.49" r="1.85" fill="#000" stroke="none" stroke-width="0.5"/>
<text x="639.30" y="37.50" font-size="8.3" text-anchor="middle" fill="#231f20">ab</text>
<rect x="645.85" y="45.96" width="9.90" height="136.44" fill="#00b0f0" stroke="#4a4a4a" stroke-width="0.5"/>
<line x1="650.80" y1="35.42" x2="650.80" y2="56.49" stroke="#555" stroke-width="0.5"/>
<line x1="648.80" y1="35.42" x2="652.80" y2="35.42" stroke="#555" stroke-width="0.5"/>
<line x1="648.80" y1="56.49" x2="652.80" y2="56.49" stroke="#555" stroke-width="0.5"/>
<circle cx="647.60" cy="35.53" r="1.85" fill="#000" stroke="none" stroke-width="0.5"/>
<circle cx="650.80" cy="54.07" r="1.85" fill="#000" stroke="none" stroke-width="0.5"/>
<circle cx="654.00" cy="49.44" r="1.85" fill="#000" stroke="none" stroke-width="0.5"/>
<text x="650.80" y="26.10" font-size="8.3" text-anchor="middle" fill="#231f20">a</text>
<rect x="657.35" y="60.01" width="9.90" height="122.39" fill="#7030a0" stroke="#4a4a4a" stroke-width="0.5"/>
<line x1="662.30" y1="49.47" x2="662.30" y2="70.54" stroke="#555" stroke-width="0.5"/>
<line x1="660.30" y1="49.47" x2="664.30" y2="49.47" stroke="#555" stroke-width="0.5"/>
<line x1="660.30" y1="70.54" x2="664.30" y2="70.54" stroke="#555" stroke-width="0.5"/>
<circle cx="659.10" cy="68.12" r="1.85" fill="#000" stroke="none" stroke-width="0.5"/>
<circle cx="662.30" cy="63.48" r="1.85" fill="#000" stroke="none" stroke-width="0.5"/>
<circle cx="665.50" cy="49.58" r="1.85" fill="#000" stroke="none" stroke-width="0.5"/>
<text x="662.30" y="41.60" font-size="8.3" text-anchor="middle" fill="#231f20">b</text>
<rect x="668.85" y="61.24" width="9.90" height="121.16" fill="#ffff00" stroke="#4a4a4a" stroke-width="0.5"/>
<line x1="673.80" y1="52.46" x2="673.80" y2="70.02" stroke="#555" stroke-width="0.5"/>
<line x1="671.80" y1="52.46" x2="675.80" y2="52.46" stroke="#555" stroke-width="0.5"/>
<line x1="671.80" y1="70.02" x2="675.80" y2="70.02" stroke="#555" stroke-width="0.5"/>
<circle cx="670.60" cy="64.13" r="1.85" fill="#000" stroke="none" stroke-width="0.5"/>
<circle cx="673.80" cy="52.54" r="1.85" fill="#000" stroke="none" stroke-width="0.5"/>
<circle cx="677.00" cy="68.00" r="1.85" fill="#000" stroke="none" stroke-width="0.5"/>
<text x="673.80" y="44.70" font-size="8.3" text-anchor="middle" fill="#231f20">b</text>
<text x="627.60" y="194.40" font-size="7.5" text-anchor="middle" fill="#3a3a3a">48</text>
<text x="457.00" y="207.60" font-size="8.2" text-anchor="middle" fill="#231f20" textLength="13.8" lengthAdjust="spacingAndGlyphs">HPI</text>
<line x1="234.40" y1="149.40" x2="337.40" y2="149.40" stroke="#555" stroke-width="0.6"/>
<text x="287.20" y="142.60" font-size="8.2" text-anchor="middle" fill="#231f20" textLength="15.7" lengthAdjust="spacingAndGlyphs">N.S.</text>
<rect x="240.20" y="10.00" width="8.10" height="7.60" fill="#efefef" stroke="#555" stroke-width="0.5"/>
<text x="252.50" y="16.70" font-size="8.3" text-anchor="start" fill="#231f20" textLength="13.2" lengthAdjust="spacingAndGlyphs">WT</text>
<rect x="240.20" y="22.80" width="8.10" height="7.60" fill="#ffc000" stroke="#555" stroke-width="0.5"/>
<text x="252.50" y="29.50" font-size="8.3" text-anchor="start" fill="#231f20" textLength="30.7" lengthAdjust="spacingAndGlyphs" font-style="italic">sip1-ko1</text>
<rect x="240.20" y="34.60" width="8.10" height="7.60" fill="#00b0f0" stroke="#555" stroke-width="0.5"/>
<text x="252.50" y="41.30" font-size="8.3" fill="#231f20" textLength="44.4" lengthAdjust="spacingAndGlyphs"><tspan font-style="italic">SBRR1</tspan>-OE2</text>
<rect x="316.60" y="10.00" width="8.10" height="7.60" fill="#ed7d31" stroke="#555" stroke-width="0.5"/>
<text x="328.90" y="16.70" font-size="8.3" text-anchor="start" fill="#231f20" textLength="35.9" lengthAdjust="spacingAndGlyphs" font-style="italic">sbrr1-ko1</text>
<rect x="316.60" y="22.80" width="8.10" height="7.60" fill="#5088d0" stroke="#555" stroke-width="0.5"/>
<text x="328.90" y="29.50" font-size="8.3" text-anchor="start" fill="#231f20" textLength="32.4" lengthAdjust="spacingAndGlyphs" font-style="italic">sip1-ko2</text>
<rect x="316.60" y="34.60" width="8.10" height="7.60" fill="#7030a0" stroke="#555" stroke-width="0.5"/>
<text x="328.90" y="41.30" font-size="8.3" fill="#231f20" textLength="34.5" lengthAdjust="spacingAndGlyphs"><tspan font-style="italic">SIP1</tspan>-OE1</text>
<rect x="380.00" y="10.00" width="8.10" height="7.60" fill="#a5a5a5" stroke="#555" stroke-width="0.5"/>
<text x="392.30" y="16.70" font-size="8.3" text-anchor="start" fill="#231f20" textLength="35.9" lengthAdjust="spacingAndGlyphs" font-style="italic">sbrr1-ko2</text>
<rect x="380.00" y="22.80" width="8.10" height="7.60" fill="#70ad47" stroke="#555" stroke-width="0.5"/>
<text x="392.30" y="29.50" font-size="8.3" fill="#231f20" textLength="42.3" lengthAdjust="spacingAndGlyphs"><tspan font-style="italic">SBRR1</tspan>-OE1</text>
<rect x="380.00" y="34.60" width="8.10" height="7.60" fill="#ffff00" stroke="#555" stroke-width="0.5"/>
<text x="392.30" y="41.30" font-size="8.3" fill="#231f20" textLength="35.0" lengthAdjust="spacingAndGlyphs"><tspan font-style="italic">SIP1</tspan>-OE2</text>
<text x="0.00" y="229.80" font-size="12" text-anchor="start" fill="#000" font-weight="bold">c</text>
<line x1="34.50" y1="227.40" x2="34.50" y2="380.30" stroke="#6e6e6e" stroke-width="0.7"/>
<line x1="31.50" y1="380.30" x2="34.50" y2="380.30" stroke="#6e6e6e" stroke-width="0.7"/>
<text x="27.10" y="382.90" font-size="7.2" text-anchor="end" fill="#3a3a3a">0</text>
<line x1="31.50" y1="349.72" x2="34.50" y2="349.72" stroke="#6e6e6e" stroke-width="0.7"/>
<text x="27.10" y="352.32" font-size="7.2" text-anchor="end" fill="#3a3a3a">5</text>
<line x1="31.50" y1="319.14" x2="34.50" y2="319.14" stroke="#6e6e6e" stroke-width="0.7"/>
<text x="27.10" y="321.74" font-size="7.2" text-anchor="end" fill="#3a3a3a" textLength="6.8" lengthAdjust="spacingAndGlyphs">10</text>
<line x1="31.50" y1="288.56" x2="34.50" y2="288.56" stroke="#6e6e6e" stroke-width="0.7"/>
<text x="27.10" y="291.16" font-size="7.2" text-anchor="end" fill="#3a3a3a" textLength="6.8" lengthAdjust="spacingAndGlyphs">15</text>
<line x1="31.50" y1="257.98" x2="34.50" y2="257.98" stroke="#6e6e6e" stroke-width="0.7"/>
<text x="27.10" y="260.58" font-size="7.2" text-anchor="end" fill="#3a3a3a" textLength="6.8" lengthAdjust="spacingAndGlyphs">20</text>
<line x1="31.50" y1="227.40" x2="34.50" y2="227.40" stroke="#6e6e6e" stroke-width="0.7"/>
<text x="27.10" y="230.00" font-size="7.2" text-anchor="end" fill="#3a3a3a" textLength="6.8" lengthAdjust="spacingAndGlyphs">25</text>
<line x1="31.50" y1="380.30" x2="210.30" y2="380.30" stroke="#6e6e6e" stroke-width="0.7"/>
<text x="7.90" y="304.00" font-size="8.6" text-anchor="middle" fill="#231f20" textLength="74.3" lengthAdjust="spacingAndGlyphs" transform="rotate(-90 7.9 304.0)">Lesion length (cm)</text>
<rect x="43.20" y="266.66" width="17.40" height="113.64" fill="#a0a0a0" stroke="#3a3a3a" stroke-width="0.6"/>
<line x1="51.90" y1="380.30" x2="51.90" y2="382.80" stroke="#6e6e6e" stroke-width="0.7"/>
<circle cx="51.90" cy="240.86" r="1.85" fill="#000" stroke="none" stroke-width="0.5"/>
<circle cx="51.90" cy="244.94" r="1.85" fill="#000" stroke="none" stroke-width="0.5"/>
<circle cx="51.90" cy="251.09" r="1.85" fill="#000" stroke="none" stroke-width="0.5"/>
<circle cx="51.90" cy="257.21" r="1.85" fill="#000" stroke="none" stroke-width="0.5"/>
<circle cx="58.92" cy="258.12" r="1.85" fill="#000" stroke="none" stroke-width="0.5"/>
<circle cx="44.88" cy="258.29" r="1.85" fill="#000" stroke="none" stroke-width="0.5"/>
<circle cx="59.10" cy="258.30" r="1.85" fill="#000" stroke="none" stroke-width="0.5"/>
<circle cx="55.41" cy="259.92" r="1.85" fill="#000" stroke="none" stroke-width="0.5"/>
<circle cx="48.39" cy="260.09" r="1.85" fill="#000" stroke="none" stroke-width="0.5"/>
<circle cx="59.10" cy="260.78" r="1.85" fill="#000" stroke="none" stroke-width="0.5"/>
<circle cx="44.70" cy="261.45" r="1.85" fill="#000" stroke="none" stroke-width="0.5"/>
<circle cx="51.90" cy="262.93" r="1.85" fill="#000" stroke="none" stroke-width="0.5"/>
<circle cx="59.10" cy="263.26" r="1.85" fill="#000" stroke="none" stroke-width="0.5"/>
<circle cx="55.41" cy="264.67" r="1.85" fill="#000" stroke="none" stroke-width="0.5"/>
<circle cx="48.39" cy="264.91" r="1.85" fill="#000" stroke="none" stroke-width="0.5"/>
<circle cx="51.90" cy="267.84" r="1.85" fill="#000" stroke="none" stroke-width="0.5"/>
<circle cx="55.41" cy="269.55" r="1.85" fill="#000" stroke="none" stroke-width="0.5"/>
<circle cx="51.90" cy="272.76" r="1.85" fill="#000" stroke="none" stroke-width="0.5"/>
<circle cx="51.90" cy="277.03" r="1.85" fill="#000" stroke="none" stroke-width="0.5"/>
<circle cx="58.92" cy="278.15" r="1.85" fill="#000" stroke="none" stroke-width="0.5"/>
<circle cx="51.90" cy="281.84" r="1.85" fill="#000" stroke="none" stroke-width="0.5"/>
<circle cx="55.41" cy="284.31" r="1.85" fill="#000" stroke="none" stroke-width="0.5"/>
<circle cx="48.39" cy="284.60" r="1.85" fill="#000" stroke="none" stroke-width="0.5"/>
<circle cx="59.10" cy="284.89" r="1.85" fill="#000" stroke="none" stroke-width="0.5"/>
<line x1="51.90" y1="256.27" x2="51.90" y2="277.06" stroke="#444" stroke-width="0.6"/>
<line x1="47.90" y1="256.27" x2="55.90" y2="256.27" stroke="#444" stroke-width="0.6"/>
<line x1="47.90" y1="277.06" x2="55.90" y2="277.06" stroke="#444" stroke-width="0.6"/>
<text x="51.90" y="233.50" font-size="8.2" text-anchor="middle" fill="#231f20">a</text>
<rect x="78.55" y="292.84" width="17.40" height="87.46" fill="#6fbd1d" stroke="#3a3a3a" stroke-width="0.6"/>
<line x1="87.25" y1="380.30" x2="87.25" y2="382.80" stroke="#6e6e6e" stroke-width="0.7"/>
<circle cx="87.25" cy="262.87" r="1.85" fill="#000" stroke="none" stroke-width="0.5"/>
<circle cx="90.76" cy="265.75" r="1.85" fill="#000" stroke="none" stroke-width="0.5"/>
<circle cx="87.25" cy="269.65" r="1.85" fill="#000" stroke="none" stroke-width="0.5"/>
<circle cx="87.25" cy="277.24" r="1.85" fill="#000" stroke="none" stroke-width="0.5"/>
<circle cx="94.27" cy="277.63" r="1.85" fill="#000" stroke="none" stroke-width="0.5"/>
<circle cx="90.76" cy="279.60" r="1.85" fill="#000" stroke="none" stroke-width="0.5"/>
<circle cx="87.25" cy="283.34" r="1.85" fill="#000" stroke="none" stroke-width="0.5"/>
<circle cx="94.27" cy="284.05" r="1.85" fill="#000" stroke="none" stroke-width="0.5"/>
<circle cx="83.74" cy="285.62" r="1.85" fill="#000" stroke="none" stroke-width="0.5"/>
<circle cx="90.76" cy="286.32" r="1.85" fill="#000" stroke="none" stroke-width="0.5"/>
<circle cx="94.45" cy="286.64" r="1.85" fill="#000" stroke="none" stroke-width="0.5"/>
<circle cx="87.25" cy="288.78" r="1.85" fill="#000" stroke="none" stroke-width="0.5"/>
<circle cx="80.23" cy="289.67" r="1.85" fill="#000" stroke="none" stroke-width="0.5"/>
<circle cx="94.45" cy="289.91" r="1.85" fill="#000" stroke="none" stroke-width="0.5"/>
<circle cx="90.76" cy="291.20" r="1.85" fill="#000" stroke="none" stroke-width="0.5"/>
<circle cx="87.25" cy="296.20" r="1.85" fill="#000" stroke="none" stroke-width="0.5"/>
<circle cx="94.27" cy="296.69" r="1.85" fill="#000" stroke="none" stroke-width="0.5"/>
<circle cx="83.74" cy="297.99" r="1.85" fill="#000" stroke="none" stroke-width="0.5"/>
<circle cx="90.76" cy="298.73" r="1.85" fill="#000" stroke="none" stroke-width="0.5"/>
<circle cx="94.45" cy="298.85" r="1.85" fill="#000" stroke="none" stroke-width="0.5"/>
<circle cx="80.23" cy="299.69" r="1.85" fill="#000" stroke="none" stroke-width="0.5"/>
<circle cx="87.25" cy="300.74" r="1.85" fill="#000" stroke="none" stroke-width="0.5"/>
<circle cx="87.25" cy="307.96" r="1.85" fill="#000" stroke="none" stroke-width="0.5"/>
<circle cx="90.76" cy="309.97" r="1.85" fill="#000" stroke="none" stroke-width="0.5"/>
<line x1="87.25" y1="281.22" x2="87.25" y2="304.46" stroke="#444" stroke-width="0.6"/>
<line x1="83.25" y1="281.22" x2="91.25" y2="281.22" stroke="#444" stroke-width="0.6"/>
<line x1="83.25" y1="304.46" x2="91.25" y2="304.46" stroke="#444" stroke-width="0.6"/>
<text x="87.25" y="254.50" font-size="8.2" text-anchor="middle" fill="#231f20">c</text>
<rect x="113.90" y="280.00" width="17.40" height="100.30" fill="#ffff00" stroke="#3a3a3a" stroke-width="0.6"/>
<line x1="122.60" y1="380.30" x2="122.60" y2="382.80" stroke="#6e6e6e" stroke-width="0.7"/>
<circle cx="122.60" cy="262.26" r="1.85" fill="#000" stroke="none" stroke-width="0.5"/>
<circle cx="122.60" cy="269.29" r="1.85" fill="#000" stroke="none" stroke-width="0.5"/>
<circle cx="129.62" cy="269.82" r="1.85" fill="#000" stroke="none" stroke-width="0.5"/>
<circle cx="115.58" cy="270.20" r="1.85" fill="#000" stroke="none" stroke-width="0.5"/>
<circle cx="129.80" cy="270.82" r="1.85" fill="#000" stroke="none" stroke-width="0.5"/>
<circle cx="129.80" cy="270.83" r="1.85" fill="#000" stroke="none" stroke-width="0.5"/>
<circle cx="129.80" cy="271.40" r="1.85" fill="#000" stroke="none" stroke-width="0.5"/>
<circle cx="122.60" cy="273.60" r="1.85" fill="#000" stroke="none" stroke-width="0.5"/>
<circle cx="129.80" cy="274.08" r="1.85" fill="#000" stroke="none" stroke-width="0.5"/>
<circle cx="126.11" cy="276.12" r="1.85" fill="#000" stroke="none" stroke-width="0.5"/>
<circle cx="119.09" cy="276.73" r="1.85" fill="#000" stroke="none" stroke-width="0.5"/>
<circle cx="129.80" cy="277.44" r="1.85" fill="#000" stroke="none" stroke-width="0.5"/>
<circle cx="122.60" cy="283.92" r="1.85" fill="#000" stroke="none" stroke-width="0.5"/>
<circle cx="129.62" cy="283.98" r="1.85" fill="#000" stroke="none" stroke-width="0.5"/>
<circle cx="115.58" cy="284.78" r="1.85" fill="#000" stroke="none" stroke-width="0.5"/>
<circle cx="126.11" cy="285.94" r="1.85" fill="#000" stroke="none" stroke-width="0.5"/>
<circle cx="129.80" cy="286.40" r="1.85" fill="#000" stroke="none" stroke-width="0.5"/>
<circle cx="119.09" cy="286.74" r="1.85" fill="#000" stroke="none" stroke-width="0.5"/>
<circle cx="115.40" cy="286.85" r="1.85" fill="#000" stroke="none" stroke-width="0.5"/>
<circle cx="129.80" cy="287.40" r="1.85" fill="#000" stroke="none" stroke-width="0.5"/>
<circle cx="122.60" cy="288.53" r="1.85" fill="#000" stroke="none" stroke-width="0.5"/>
<circle cx="129.80" cy="288.68" r="1.85" fill="#000" stroke="none" stroke-width="0.5"/>
<circle cx="115.40" cy="289.87" r="1.85" fill="#000" stroke="none" stroke-width="0.5"/>
<circle cx="122.60" cy="297.12" r="1.85" fill="#000" stroke="none" stroke-width="0.5"/>
<line x1="122.60" y1="270.21" x2="122.60" y2="289.78" stroke="#444" stroke-width="0.6"/>
<line x1="118.60" y1="270.21" x2="126.60" y2="270.21" stroke="#444" stroke-width="0.6"/>
<line x1="118.60" y1="289.78" x2="126.60" y2="289.78" stroke="#444" stroke-width="0.6"/>
<text x="122.60" y="253.70" font-size="8.2" text-anchor="middle" fill="#231f20">b</text>
<rect x="149.25" y="280.98" width="17.40" height="99.32" fill="#ffff00" stroke="#3a3a3a" stroke-width="0.6"/>
<line x1="157.95" y1="380.30" x2="157.95" y2="382.80" stroke="#6e6e6e" stroke-width="0.7"/>
<circle cx="157.95" cy="266.54" r="1.85" fill="#000" stroke="none" stroke-width="0.5"/>
<circle cx="157.95" cy="272.89" r="1.85" fill="#000" stroke="none" stroke-width="0.5"/>
<circle cx="161.46" cy="274.73" r="1.85" fill="#000" stroke="none" stroke-width="0.5"/>
<circle cx="154.44" cy="275.62" r="1.85" fill="#000" stroke="none" stroke-width="0.5"/>
<circle cx="165.15" cy="275.98" r="1.85" fill="#000" stroke="none" stroke-width="0.5"/>
<circle cx="150.75" cy="276.14" r="1.85" fill="#000" stroke="none" stroke-width="0.5"/>
<circle cx="157.95" cy="277.46" r="1.85" fill="#000" stroke="none" stroke-width="0.5"/>
<circle cx="165.15" cy="278.29" r="1.85" fill="#000" stroke="none" stroke-width="0.5"/>
<circle cx="150.75" cy="278.60" r="1.85" fill="#000" stroke="none" stroke-width="0.5"/>
<circle cx="165.15" cy="278.73" r="1.85" fill="#000" stroke="none" stroke-width="0.5"/>
<circle cx="165.15" cy="278.98" r="1.85" fill="#000" stroke="none" stroke-width="0.5"/>
<circle cx="165.15" cy="278.98" r="1.85" fill="#000" stroke="none" stroke-width="0.5"/>
<circle cx="161.46" cy="280.37" r="1.85" fill="#000" stroke="none" stroke-width="0.5"/>
<circle cx="154.44" cy="280.47" r="1.85" fill="#000" stroke="none" stroke-width="0.5"/>
<circle cx="165.15" cy="280.55" r="1.85" fill="#000" stroke="none" stroke-width="0.5"/>
<circle cx="150.75" cy="281.80" r="1.85" fill="#000" stroke="none" stroke-width="0.5"/>
<circle cx="165.15" cy="282.10" r="1.85" fill="#000" stroke="none" stroke-width="0.5"/>
<circle cx="157.95" cy="282.73" r="1.85" fill="#000" stroke="none" stroke-width="0.5"/>
<circle cx="165.15" cy="282.79" r="1.85" fill="#000" stroke="none" stroke-width="0.5"/>
<circle cx="165.15" cy="283.04" r="1.85" fill="#000" stroke="none" stroke-width="0.5"/>
<circle cx="165.15" cy="283.30" r="1.85" fill="#000" stroke="none" stroke-width="0.5"/>
<circle cx="157.95" cy="289.83" r="1.85" fill="#000" stroke="none" stroke-width="0.5"/>
<circle cx="164.97" cy="290.10" r="1.85" fill="#000" stroke="none" stroke-width="0.5"/>
<circle cx="161.46" cy="292.23" r="1.85" fill="#000" stroke="none" stroke-width="0.5"/>
<line x1="157.95" y1="274.25" x2="157.95" y2="287.70" stroke="#444" stroke-width="0.6"/>
<line x1="153.95" y1="274.25" x2="161.95" y2="274.25" stroke="#444" stroke-width="0.6"/>
<line x1="153.95" y1="287.70" x2="161.95" y2="287.70" stroke="#444" stroke-width="0.6"/>
<text x="157.95" y="257.70" font-size="8.2" text-anchor="middle" fill="#231f20">b</text>
<rect x="184.60" y="280.00" width="17.40" height="100.30" fill="#ffff00" stroke="#3a3a3a" stroke-width="0.6"/>
<line x1="193.30" y1="380.30" x2="193.30" y2="382.80" stroke="#6e6e6e" stroke-width="0.7"/>
<circle cx="193.30" cy="262.26" r="1.85" fill="#000" stroke="none" stroke-width="0.5"/>
<circle cx="196.81" cy="264.25" r="1.85" fill="#000" stroke="none" stroke-width="0.5"/>
<circle cx="189.79" cy="265.24" r="1.85" fill="#000" stroke="none" stroke-width="0.5"/>
<circle cx="193.30" cy="268.91" r="1.85" fill="#000" stroke="none" stroke-width="0.5"/>
<circle cx="200.32" cy="269.87" r="1.85" fill="#000" stroke="none" stroke-width="0.5"/>
<circle cx="189.79" cy="271.37" r="1.85" fill="#000" stroke="none" stroke-width="0.5"/>
<circle cx="186.10" cy="271.48" r="1.85" fill="#000" stroke="none" stroke-width="0.5"/>
<circle cx="196.81" cy="272.09" r="1.85" fill="#000" stroke="none" stroke-width="0.5"/>
<circle cx="200.50" cy="273.14" r="1.85" fill="#000" stroke="none" stroke-width="0.5"/>
<circle cx="193.30" cy="275.16" r="1.85" fill="#000" stroke="none" stroke-width="0.5"/>
<circle cx="186.28" cy="275.53" r="1.85" fill="#000" stroke="none" stroke-width="0.5"/>
<circle cx="193.30" cy="279.48" r="1.85" fill="#000" stroke="none" stroke-width="0.5"/>
<circle cx="200.32" cy="280.65" r="1.85" fill="#000" stroke="none" stroke-width="0.5"/>
<circle cx="189.79" cy="281.38" r="1.85" fill="#000" stroke="none" stroke-width="0.5"/>
<circle cx="193.30" cy="284.04" r="1.85" fill="#000" stroke="none" stroke-width="0.5"/>
<circle cx="200.32" cy="285.48" r="1.85" fill="#000" stroke="none" stroke-width="0.5"/>
<circle cx="186.28" cy="285.54" r="1.85" fill="#000" stroke="none" stroke-width="0.5"/>
<circle cx="200.50" cy="285.72" r="1.85" fill="#000" stroke="none" stroke-width="0.5"/>
<circle cx="200.50" cy="286.15" r="1.85" fill="#000" stroke="none" stroke-width="0.5"/>
<circle cx="196.81" cy="287.57" r="1.85" fill="#000" stroke="none" stroke-width="0.5"/>
<circle cx="189.79" cy="287.79" r="1.85" fill="#000" stroke="none" stroke-width="0.5"/>
<circle cx="186.10" cy="288.06" r="1.85" fill="#000" stroke="none" stroke-width="0.5"/>
<circle cx="200.50" cy="288.15" r="1.85" fill="#000" stroke="none" stroke-width="0.5"/>
<circle cx="193.30" cy="298.35" r="1.85" fill="#000" stroke="none" stroke-width="0.5"/>
<line x1="193.30" y1="269.60" x2="193.30" y2="290.39" stroke="#444" stroke-width="0.6"/>
<line x1="189.30" y1="269.60" x2="197.30" y2="269.60" stroke="#444" stroke-width="0.6"/>
<line x1="189.30" y1="290.39" x2="197.30" y2="290.39" stroke="#444" stroke-width="0.6"/>
<text x="193.30" y="256.50" font-size="8.2" text-anchor="middle" fill="#231f20">b</text>
<g transform="translate(56.00 392.50) rotate(-45)">
<text x="0" y="0.00" font-size="7.7" text-anchor="end" fill="#231f20">WT</text>
</g>
<g transform="translate(92.00 392.00) rotate(-45)">
<text x="0" y="0.00" font-size="7.7" text-anchor="end" fill="#231f20" textLength="44.0" lengthAdjust="spacingAndGlyphs">SBRR1-OE1</text>
</g>
<g transform="translate(126.00 392.50) rotate(-45)">
<text x="0" y="0.00" font-size="7.7" text-anchor="end" fill="#231f20" textLength="45.0" lengthAdjust="spacingAndGlyphs">SBRR1-OE1/</text>
<text x="0" y="10.00" font-size="8.1" text-anchor="end" fill="#231f20" textLength="54.5" lengthAdjust="spacingAndGlyphs"><tspan font-style="italic">chit3chit4-ko1</tspan></text>
</g>
<g transform="translate(161.35 392.50) rotate(-45)">
<text x="0" y="0.00" font-size="7.7" text-anchor="end" fill="#231f20" textLength="45.0" lengthAdjust="spacingAndGlyphs">SBRR1-OE1/</text>
<text x="0" y="10.00" font-size="8.1" text-anchor="end" fill="#231f20" textLength="54.5" lengthAdjust="spacingAndGlyphs"><tspan font-style="italic">chit3chit4-ko2</tspan></text>
</g>
<g transform="translate(196.70 392.50) rotate(-45)">
<text x="0" y="0.00" font-size="7.7" text-anchor="end" fill="#231f20" textLength="45.0" lengthAdjust="spacingAndGlyphs">SBRR1-OE1/</text>
<text x="0" y="10.00" font-size="8.1" text-anchor="end" fill="#231f20" textLength="54.5" lengthAdjust="spacingAndGlyphs"><tspan font-style="italic">chit3chit4-ko3</tspan></text>
</g>
<rect x="225.80" y="224.00" width="166.40" height="163.90" fill="#070707" stroke="none" stroke-width="0.5"/>
<rect x="233.30" y="224.00" width="2.20" height="163.90" fill="url(#gculm)" stroke="none" stroke-width="0.5"/>
<rect x="232.65" y="360.60" width="3.50" height="27.30" fill="url(#gsheathg)" stroke="none" stroke-width="0.5"/>
<rect x="232.45" y="254.20" width="3.90" height="106.40" fill="url(#gsheath)" stroke="none" stroke-width="0.5"/>
<rect x="232.75" y="262.27" width="3.30" height="5.52" fill="#8a9242" stroke="none" stroke-width="0.5" opacity="0.7"/>
<rect x="232.75" y="267.79" width="3.30" height="6.07" fill="#b6bca6" stroke="none" stroke-width="0.5" opacity="0.65"/>
<rect x="232.75" y="273.86" width="3.30" height="7.70" fill="#8a9242" stroke="none" stroke-width="0.5" opacity="0.7"/>
<rect x="232.75" y="281.56" width="3.30" height="5.86" fill="#b6bca6" stroke="none" stroke-width="0.5" opacity="0.65"/>
<rect x="232.75" y="287.42" width="3.30" height="8.45" fill="#b6bca6" stroke="none" stroke-width="0.5" opacity="0.65"/>
<rect x="232.75" y="300.56" width="3.30" height="6.71" fill="#8a9242" stroke="none" stroke-width="0.5" opacity="0.7"/>
<rect x="232.75" y="336.84" width="3.30" height="5.83" fill="#8a9242" stroke="none" stroke-width="0.5" opacity="0.7"/>
<rect x="234.78" y="281.40" width="1.00" height="2.19" fill="#6b5426" stroke="none" stroke-width="0.5" opacity="0.8"/>
<rect x="234.54" y="255.67" width="1.00" height="1.92" fill="#6b5426" stroke="none" stroke-width="0.5" opacity="0.8"/>
<rect x="234.39" y="340.31" width="1.00" height="1.20" fill="#6b5426" stroke="none" stroke-width="0.5" opacity="0.8"/>
<rect x="234.97" y="305.73" width="1.00" height="1.64" fill="#6b5426" stroke="none" stroke-width="0.5" opacity="0.8"/>
<rect x="234.97" y="288.15" width="1.00" height="1.54" fill="#6b5426" stroke="none" stroke-width="0.5" opacity="0.8"/>
<rect x="233.14" y="313.45" width="1.00" height="2.94" fill="#6b5426" stroke="none" stroke-width="0.5" opacity="0.8"/>
<rect x="233.75" y="338.05" width="1.00" height="1.34" fill="#6b5426" stroke="none" stroke-width="0.5" opacity="0.8"/>
<rect x="233.92" y="287.61" width="1.00" height="2.88" fill="#6b5426" stroke="none" stroke-width="0.5" opacity="0.8"/>
<rect x="234.05" y="265.59" width="1.00" height="2.47" fill="#6b5426" stroke="none" stroke-width="0.5" opacity="0.8"/>
<rect x="234.81" y="311.35" width="1.00" height="2.17" fill="#6b5426" stroke="none" stroke-width="0.5" opacity="0.8"/>
<rect x="234.20" y="354.82" width="1.00" height="2.26" fill="#6b5426" stroke="none" stroke-width="0.5" opacity="0.8"/>
<path d="M235.00 255.70 L236.40 250.70" fill="none" stroke="#8f9a48" stroke-width="1.0"/>
<path d="M235.85 324.56 L238.15 320.06" fill="none" stroke="#a39a5e" stroke-width="0.9"/>
<rect x="240.90" y="224.00" width="2.20" height="163.90" fill="url(#gculm)" stroke="none" stroke-width="0.5"/>
<rect x="240.25" y="375.60" width="3.50" height="12.30" fill="url(#gsheathg)" stroke="none" stroke-width="0.5"/>
<rect x="240.05" y="249.20" width="3.90" height="126.40" fill="url(#gsheath)" stroke="none" stroke-width="0.5"/>
<rect x="240.35" y="253.01" width="3.30" height="7.58" fill="#8a9242" stroke="none" stroke-width="0.5" opacity="0.7"/>
<rect x="240.35" y="260.59" width="3.30" height="5.97" fill="#b6bca6" stroke="none" stroke-width="0.5" opacity="0.65"/>
<rect x="240.35" y="273.47" width="3.30" height="3.56" fill="#8a9242" stroke="none" stroke-width="0.5" opacity="0.7"/>
<rect x="240.35" y="277.03" width="3.30" height="8.01" fill="#b6bca6" stroke="none" stroke-width="0.5" opacity="0.65"/>
<rect x="240.35" y="285.05" width="3.30" height="7.57" fill="#8a9242" stroke="none" stroke-width="0.5" opacity="0.7"/>
<rect x="240.35" y="302.67" width="3.30" height="8.41" fill="#8a9242" stroke="none" stroke-width="0.5" opacity="0.7"/>
<rect x="240.35" y="311.08" width="3.30" height="3.15" fill="#b6bca6" stroke="none" stroke-width="0.5" opacity="0.65"/>
<rect x="240.35" y="314.23" width="3.30" height="8.63" fill="#b6bca6" stroke="none" stroke-width="0.5" opacity="0.65"/>
<rect x="240.35" y="322.86" width="3.30" height="4.30" fill="#b6bca6" stroke="none" stroke-width="0.5" opacity="0.65"/>
<rect x="240.35" y="327.16" width="3.30" height="3.17" fill="#8a9242" stroke="none" stroke-width="0.5" opacity="0.7"/>
<rect x="240.35" y="330.34" width="3.30" height="5.63" fill="#b6bca6" stroke="none" stroke-width="0.5" opacity="0.65"/>
<rect x="240.35" y="335.96" width="3.30" height="4.40" fill="#8a9242" stroke="none" stroke-width="0.5" opacity="0.7"/>
<rect x="240.35" y="340.36" width="3.30" height="4.31" fill="#b6bca6" stroke="none" stroke-width="0.5" opacity="0.65"/>
<rect x="240.35" y="344.68" width="3.30" height="4.74" fill="#8a9242" stroke="none" stroke-width="0.5" opacity="0.7"/>
<rect x="240.35" y="349.41" width="3.30" height="8.03" fill="#b6bca6" stroke="none" stroke-width="0.5" opacity="0.65"/>
<rect x="240.35" y="357.44" width="3.30" height="6.85" fill="#8a9242" stroke="none" stroke-width="0.5" opacity="0.7"/>
<rect x="240.35" y="373.25" width="3.30" height="2.35" fill="#8a9242" stroke="none" stroke-width="0.5" opacity="0.7"/>
<rect x="242.11" y="338.95" width="1.00" height="2.89" fill="#6b5426" stroke="none" stroke-width="0.5" opacity="0.8"/>
<rect x="242.46" y="301.71" width="1.00" height="2.41" fill="#6b5426" stroke="none" stroke-width="0.5" opacity="0.8"/>
<rect x="241.75" y="286.94" width="1.00" height="2.79" fill="#6b5426" stroke="none" stroke-width="0.5" opacity="0.8"/>
<rect x="241.52" y="354.47" width="1.00" height="2.26" fill="#6b5426" stroke="none" stroke-width="0.5" opacity="0.8"/>
<rect x="240.75" y="253.50" width="1.00" height="2.64" fill="#6b5426" stroke="none" stroke-width="0.5" opacity="0.8"/>
<rect x="240.55" y="300.74" width="1.00" height="2.19" fill="#6b5426" stroke="none" stroke-width="0.5" opacity="0.8"/>
<rect x="242.01" y="336.66" width="1.00" height="1.87" fill="#6b5426" stroke="none" stroke-width="0.5" opacity="0.8"/>
<rect x="241.52" y="303.81" width="1.00" height="2.60" fill="#6b5426" stroke="none" stroke-width="0.5" opacity="0.8"/>
<rect x="241.19" y="314.00" width="1.00" height="2.08" fill="#6b5426" stroke="none" stroke-width="0.5" opacity="0.8"/>
<rect x="240.18" y="252.88" width="1.00" height="2.47" fill="#6b5426" stroke="none" stroke-width="0.5" opacity="0.8"/>
<rect x="241.77" y="371.51" width="1.00" height="1.91" fill="#6b5426" stroke="none" stroke-width="0.5" opacity="0.8"/>
<rect x="241.51" y="270.39" width="1.00" height="2.97" fill="#6b5426" stroke="none" stroke-width="0.5" opacity="0.8"/>
<rect x="241.61" y="345.05" width="1.00" height="2.75" fill="#6b5426" stroke="none" stroke-width="0.5" opacity="0.8"/>
<rect x="241.54" y="278.08" width="1.00" height="2.91" fill="#6b5426" stroke="none" stroke-width="0.5" opacity="0.8"/>
<path d="M242.60 250.70 L244.00 245.70" fill="none" stroke="#8f9a48" stroke-width="1.0"/>
<path d="M243.45 336.98 L245.75 332.48" fill="none" stroke="#a39a5e" stroke-width="0.9"/>
<path d="M226.70 250.60 L233.00 253.20 L226.70 255.80 Z" fill="#ff0000" stroke="none" stroke-width="0"/>
<path d="M226.30 359.00 L232.60 361.60 L226.30 364.20 Z" fill="#ff0000" stroke="none" stroke-width="0"/>
<rect x="267.20" y="224.00" width="2.20" height="163.90" fill="url(#gculm)" stroke="none" stroke-width="0.5"/>
<rect x="266.55" y="355.20" width="3.50" height="32.70" fill="url(#gsheathg)" stroke="none" stroke-width="0.5"/>
<rect x="266.35" y="277.60" width="3.90" height="77.60" fill="url(#gsheath)" stroke="none" stroke-width="0.5"/>
<rect x="266.65" y="286.34" width="3.30" height="3.34" fill="#8a9242" stroke="none" stroke-width="0.5" opacity="0.7"/>
<rect x="266.65" y="297.69" width="3.30" height="7.02" fill="#8a9242" stroke="none" stroke-width="0.5" opacity="0.7"/>
<rect x="266.65" y="311.34" width="3.30" height="6.49" fill="#8a9242" stroke="none" stroke-width="0.5" opacity="0.7"/>
<rect x="266.65" y="317.83" width="3.30" height="5.58" fill="#b6bca6" stroke="none" stroke-width="0.5" opacity="0.65"/>
<rect x="266.65" y="330.75" width="3.30" height="8.70" fill="#b6bca6" stroke="none" stroke-width="0.5" opacity="0.65"/>
<rect x="266.65" y="339.45" width="3.30" height="5.67" fill="#8a9242" stroke="none" stroke-width="0.5" opacity="0.7"/>
<rect x="266.65" y="345.12" width="3.30" height="3.22" fill="#8a9242" stroke="none" stroke-width="0.5" opacity="0.7"/>
<rect x="266.65" y="348.33" width="3.30" height="5.79" fill="#8a9242" stroke="none" stroke-width="0.5" opacity="0.7"/>
<rect x="268.94" y="306.33" width="1.00" height="2.15" fill="#6b5426" stroke="none" stroke-width="0.5" opacity="0.8"/>
<rect x="267.03" y="319.97" width="1.00" height="1.24" fill="#6b5426" stroke="none" stroke-width="0.5" opacity="0.8"/>
<rect x="266.75" y="302.18" width="1.00" height="2.12" fill="#6b5426" stroke="none" stroke-width="0.5" opacity="0.8"/>
<rect x="268.31" y="353.10" width="1.00" height="1.53" fill="#6b5426" stroke="none" stroke-width="0.5" opacity="0.8"/>
<rect x="268.66" y="345.15" width="1.00" height="2.52" fill="#6b5426" stroke="none" stroke-width="0.5" opacity="0.8"/>
<rect x="268.56" y="346.14" width="1.00" height="2.62" fill="#6b5426" stroke="none" stroke-width="0.5" opacity="0.8"/>
<rect x="269.19" y="304.35" width="1.00" height="2.93" fill="#6b5426" stroke="none" stroke-width="0.5" opacity="0.8"/>
<rect x="268.54" y="289.79" width="1.00" height="2.49" fill="#6b5426" stroke="none" stroke-width="0.5" opacity="0.8"/>
<path d="M268.90 279.10 L270.30 274.10" fill="none" stroke="#8f9a48" stroke-width="1.0"/>
<path d="M269.75 329.23 L272.05 324.73" fill="none" stroke="#a39a5e" stroke-width="0.9"/>
<rect x="274.20" y="224.00" width="2.20" height="163.90" fill="url(#gculm)" stroke="none" stroke-width="0.5"/>
<rect x="273.55" y="370.20" width="3.50" height="17.70" fill="url(#gsheathg)" stroke="none" stroke-width="0.5"/>
<rect x="273.35" y="272.60" width="3.90" height="97.60" fill="url(#gsheath)" stroke="none" stroke-width="0.5"/>
<rect x="273.65" y="272.60" width="3.30" height="4.43" fill="#b6bca6" stroke="none" stroke-width="0.5" opacity="0.65"/>
<rect x="273.65" y="282.25" width="3.30" height="6.75" fill="#8a9242" stroke="none" stroke-width="0.5" opacity="0.7"/>
<rect x="273.65" y="292.08" width="3.30" height="4.56" fill="#8a9242" stroke="none" stroke-width="0.5" opacity="0.7"/>
<rect x="273.65" y="296.64" width="3.30" height="8.97" fill="#b6bca6" stroke="none" stroke-width="0.5" opacity="0.65"/>
<rect x="273.65" y="305.61" width="3.30" height="8.02" fill="#b6bca6" stroke="none" stroke-width="0.5" opacity="0.65"/>
<rect x="273.65" y="313.63" width="3.30" height="6.83" fill="#8a9242" stroke="none" stroke-width="0.5" opacity="0.7"/>
<rect x="273.65" y="333.41" width="3.30" height="7.03" fill="#8a9242" stroke="none" stroke-width="0.5" opacity="0.7"/>
<rect x="273.65" y="340.44" width="3.30" height="7.55" fill="#b6bca6" stroke="none" stroke-width="0.5" opacity="0.65"/>
<rect x="273.65" y="347.99" width="3.30" height="4.81" fill="#8a9242" stroke="none" stroke-width="0.5" opacity="0.7"/>
<rect x="273.65" y="352.80" width="3.30" height="8.19" fill="#b6bca6" stroke="none" stroke-width="0.5" opacity="0.65"/>
<rect x="276.02" y="340.87" width="1.00" height="1.91" fill="#6b5426" stroke="none" stroke-width="0.5" opacity="0.8"/>
<rect x="274.64" y="349.17" width="1.00" height="2.88" fill="#6b5426" stroke="none" stroke-width="0.5" opacity="0.8"/>
<rect x="273.63" y="356.62" width="1.00" height="1.44" fill="#6b5426" stroke="none" stroke-width="0.5" opacity="0.8"/>
<rect x="276.15" y="293.34" width="1.00" height="1.99" fill="#6b5426" stroke="none" stroke-width="0.5" opacity="0.8"/>
<rect x="274.22" y="332.51" width="1.00" height="2.11" fill="#6b5426" stroke="none" stroke-width="0.5" opacity="0.8"/>
<rect x="274.37" y="309.49" width="1.00" height="2.25" fill="#6b5426" stroke="none" stroke-width="0.5" opacity="0.8"/>
<rect x="275.97" y="328.45" width="1.00" height="2.43" fill="#6b5426" stroke="none" stroke-width="0.5" opacity="0.8"/>
<rect x="275.83" y="361.41" width="1.00" height="2.98" fill="#6b5426" stroke="none" stroke-width="0.5" opacity="0.8"/>
<rect x="273.82" y="336.77" width="1.00" height="2.75" fill="#6b5426" stroke="none" stroke-width="0.5" opacity="0.8"/>
<rect x="275.97" y="364.82" width="1.00" height="2.22" fill="#6b5426" stroke="none" stroke-width="0.5" opacity="0.8"/>
<path d="M275.90 274.10 L277.30 269.10" fill="none" stroke="#8f9a48" stroke-width="1.0"/>
<path d="M276.75 343.70 L279.05 339.20" fill="none" stroke="#a39a5e" stroke-width="0.9"/>
<path d="M257.00 274.00 L263.30 276.60 L257.00 279.20 Z" fill="#ff0000" stroke="none" stroke-width="0"/>
<path d="M261.00 353.60 L267.30 356.20 L261.00 358.80 Z" fill="#ff0000" stroke="none" stroke-width="0"/>
<rect x="301.80" y="224.00" width="2.20" height="163.90" fill="url(#gculm)" stroke="none" stroke-width="0.5"/>
<rect x="301.15" y="356.80" width="3.50" height="31.10" fill="url(#gsheathg)" stroke="none" stroke-width="0.5"/>
<rect x="300.95" y="264.50" width="3.90" height="92.30" fill="url(#gsheath)" stroke="none" stroke-width="0.5"/>
<rect x="301.25" y="264.50" width="3.30" height="4.42" fill="#8a9242" stroke="none" stroke-width="0.5" opacity="0.7"/>
<rect x="301.25" y="268.92" width="3.30" height="5.38" fill="#8a9242" stroke="none" stroke-width="0.5" opacity="0.7"/>
<rect x="301.25" y="274.29" width="3.30" height="3.40" fill="#b6bca6" stroke="none" stroke-width="0.5" opacity="0.65"/>
<rect x="301.25" y="286.20" width="3.30" height="7.59" fill="#8a9242" stroke="none" stroke-width="0.5" opacity="0.7"/>
<rect x="301.25" y="293.79" width="3.30" height="6.22" fill="#8a9242" stroke="none" stroke-width="0.5" opacity="0.7"/>
<rect x="301.25" y="300.01" width="3.30" height="4.04" fill="#8a9242" stroke="none" stroke-width="0.5" opacity="0.7"/>
<rect x="301.25" y="316.31" width="3.30" height="7.80" fill="#8a9242" stroke="none" stroke-width="0.5" opacity="0.7"/>
<rect x="301.25" y="336.36" width="3.30" height="8.28" fill="#8a9242" stroke="none" stroke-width="0.5" opacity="0.7"/>
<rect x="301.25" y="351.27" width="3.30" height="5.53" fill="#8a9242" stroke="none" stroke-width="0.5" opacity="0.7"/>
<rect x="301.21" y="307.26" width="1.00" height="2.88" fill="#6b5426" stroke="none" stroke-width="0.5" opacity="0.8"/>
<rect x="302.54" y="342.65" width="1.00" height="1.74" fill="#6b5426" stroke="none" stroke-width="0.5" opacity="0.8"/>
<rect x="302.61" y="346.57" width="1.00" height="2.79" fill="#6b5426" stroke="none" stroke-width="0.5" opacity="0.8"/>
<rect x="302.42" y="341.08" width="1.00" height="1.95" fill="#6b5426" stroke="none" stroke-width="0.5" opacity="0.8"/>
<rect x="302.20" y="318.58" width="1.00" height="1.49" fill="#6b5426" stroke="none" stroke-width="0.5" opacity="0.8"/>
<rect x="303.31" y="292.05" width="1.00" height="1.28" fill="#6b5426" stroke="none" stroke-width="0.5" opacity="0.8"/>
<rect x="302.77" y="268.68" width="1.00" height="1.70" fill="#6b5426" stroke="none" stroke-width="0.5" opacity="0.8"/>
<rect x="302.32" y="312.78" width="1.00" height="1.82" fill="#6b5426" stroke="none" stroke-width="0.5" opacity="0.8"/>
<rect x="301.52" y="354.55" width="1.00" height="1.94" fill="#6b5426" stroke="none" stroke-width="0.5" opacity="0.8"/>
<rect x="302.78" y="282.80" width="1.00" height="1.70" fill="#6b5426" stroke="none" stroke-width="0.5" opacity="0.8"/>
<path d="M303.50 266.00 L304.90 261.00" fill="none" stroke="#8f9a48" stroke-width="1.0"/>
<path d="M304.35 323.48 L306.65 318.98" fill="none" stroke="#a39a5e" stroke-width="0.9"/>
<rect x="310.70" y="224.00" width="2.20" height="163.90" fill="url(#gculm)" stroke="none" stroke-width="0.5"/>
<rect x="310.05" y="371.80" width="3.50" height="16.10" fill="url(#gsheathg)" stroke="none" stroke-width="0.5"/>
<rect x="309.85" y="259.50" width="3.90" height="112.30" fill="url(#gsheath)" stroke="none" stroke-width="0.5"/>
<rect x="310.15" y="281.45" width="3.30" height="3.17" fill="#b6bca6" stroke="none" stroke-width="0.5" opacity="0.65"/>
<rect x="310.15" y="293.28" width="3.30" height="8.41" fill="#8a9242" stroke="none" stroke-width="0.5" opacity="0.7"/>
<rect x="310.15" y="301.69" width="3.30" height="5.81" fill="#8a9242" stroke="none" stroke-width="0.5" opacity="0.7"/>
<rect x="310.15" y="307.50" width="3.30" height="6.26" fill="#b6bca6" stroke="none" stroke-width="0.5" opacity="0.65"/>
<rect x="310.15" y="313.76" width="3.30" height="3.08" fill="#8a9242" stroke="none" stroke-width="0.5" opacity="0.7"/>
<rect x="310.15" y="321.52" width="3.30" height="7.59" fill="#8a9242" stroke="none" stroke-width="0.5" opacity="0.7"/>
<rect x="310.15" y="329.11" width="3.30" height="7.78" fill="#8a9242" stroke="none" stroke-width="0.5" opacity="0.7"/>
<rect x="310.15" y="336.90" width="3.30" height="6.70" fill="#8a9242" stroke="none" stroke-width="0.5" opacity="0.7"/>
<rect x="310.15" y="346.61" width="3.30" height="4.26" fill="#8a9242" stroke="none" stroke-width="0.5" opacity="0.7"/>
<rect x="312.58" y="282.09" width="1.00" height="2.44" fill="#6b5426" stroke="none" stroke-width="0.5" opacity="0.8"/>
<rect x="312.44" y="366.11" width="1.00" height="1.74" fill="#6b5426" stroke="none" stroke-width="0.5" opacity="0.8"/>
<rect x="310.33" y="299.34" width="1.00" height="1.46" fill="#6b5426" stroke="none" stroke-width="0.5" opacity="0.8"/>
<rect x="310.72" y="266.68" width="1.00" height="2.29" fill="#6b5426" stroke="none" stroke-width="0.5" opacity="0.8"/>
<rect x="311.82" y="259.87" width="1.00" height="1.81" fill="#6b5426" stroke="none" stroke-width="0.5" opacity="0.8"/>
<rect x="312.22" y="293.69" width="1.00" height="2.07" fill="#6b5426" stroke="none" stroke-width="0.5" opacity="0.8"/>
<rect x="311.25" y="294.33" width="1.00" height="2.47" fill="#6b5426" stroke="none" stroke-width="0.5" opacity="0.8"/>
<rect x="312.68" y="265.79" width="1.00" height="1.24" fill="#6b5426" stroke="none" stroke-width="0.5" opacity="0.8"/>
<rect x="312.30" y="342.20" width="1.00" height="1.23" fill="#6b5426" stroke="none" stroke-width="0.5" opacity="0.8"/>
<rect x="310.91" y="346.39" width="1.00" height="2.24" fill="#6b5426" stroke="none" stroke-width="0.5" opacity="0.8"/>
<rect x="309.99" y="260.50" width="1.00" height="1.53" fill="#6b5426" stroke="none" stroke-width="0.5" opacity="0.8"/>
<rect x="310.42" y="364.86" width="1.00" height="2.56" fill="#6b5426" stroke="none" stroke-width="0.5" opacity="0.8"/>
<path d="M312.40 261.00 L313.80 256.00" fill="none" stroke="#8f9a48" stroke-width="1.0"/>
<path d="M313.25 347.37 L315.55 342.87" fill="none" stroke="#a39a5e" stroke-width="0.9"/>
<path d="M293.80 260.90 L300.10 263.50 L293.80 266.10 Z" fill="#ff0000" stroke="none" stroke-width="0"/>
<path d="M293.90 355.20 L300.20 357.80 L293.90 360.40 Z" fill="#ff0000" stroke="none" stroke-width="0"/>
<rect x="338.60" y="224.00" width="2.20" height="163.90" fill="url(#gculm)" stroke="none" stroke-width="0.5"/>
<rect x="337.95" y="370.80" width="3.50" height="17.10" fill="url(#gsheathg)" stroke="none" stroke-width="0.5"/>
<rect x="337.75" y="281.70" width="3.90" height="89.10" fill="url(#gsheath)" stroke="none" stroke-width="0.5"/>
<rect x="338.05" y="289.46" width="3.30" height="5.91" fill="#8a9242" stroke="none" stroke-width="0.5" opacity="0.7"/>
<rect x="338.05" y="314.07" width="3.30" height="7.38" fill="#b6bca6" stroke="none" stroke-width="0.5" opacity="0.65"/>
<rect x="338.05" y="327.68" width="3.30" height="4.16" fill="#b6bca6" stroke="none" stroke-width="0.5" opacity="0.65"/>
<rect x="338.05" y="331.84" width="3.30" height="7.83" fill="#8a9242" stroke="none" stroke-width="0.5" opacity="0.7"/>
<rect x="338.05" y="347.49" width="3.30" height="8.07" fill="#8a9242" stroke="none" stroke-width="0.5" opacity="0.7"/>
<rect x="338.05" y="359.11" width="3.30" height="7.83" fill="#b6bca6" stroke="none" stroke-width="0.5" opacity="0.65"/>
<rect x="338.05" y="366.94" width="3.30" height="3.56" fill="#8a9242" stroke="none" stroke-width="0.5" opacity="0.7"/>
<rect x="338.59" y="337.00" width="1.00" height="2.91" fill="#6b5426" stroke="none" stroke-width="0.5" opacity="0.8"/>
<rect x="338.33" y="332.96" width="1.00" height="2.38" fill="#6b5426" stroke="none" stroke-width="0.5" opacity="0.8"/>
<rect x="340.45" y="313.09" width="1.00" height="2.84" fill="#6b5426" stroke="none" stroke-width="0.5" opacity="0.8"/>
<rect x="339.62" y="326.53" width="1.00" height="2.46" fill="#6b5426" stroke="none" stroke-width="0.5" opacity="0.8"/>
<rect x="340.58" y="351.86" width="1.00" height="1.25" fill="#6b5426" stroke="none" stroke-width="0.5" opacity="0.8"/>
<rect x="339.50" y="313.18" width="1.00" height="1.75" fill="#6b5426" stroke="none" stroke-width="0.5" opacity="0.8"/>
<rect x="338.01" y="333.02" width="1.00" height="2.78" fill="#6b5426" stroke="none" stroke-width="0.5" opacity="0.8"/>
<rect x="338.09" y="327.45" width="1.00" height="2.39" fill="#6b5426" stroke="none" stroke-width="0.5" opacity="0.8"/>
<rect x="338.32" y="308.90" width="1.00" height="2.07" fill="#6b5426" stroke="none" stroke-width="0.5" opacity="0.8"/>
<path d="M340.30 283.20 L341.70 278.20" fill="none" stroke="#8f9a48" stroke-width="1.0"/>
<path d="M341.15 333.78 L343.45 329.28" fill="none" stroke="#a39a5e" stroke-width="0.9"/>
<rect x="344.90" y="224.00" width="2.20" height="163.90" fill="url(#gculm)" stroke="none" stroke-width="0.5"/>
<rect x="344.25" y="381.90" width="3.50" height="6.00" fill="url(#gsheathg)" stroke="none" stroke-width="0.5"/>
<rect x="344.05" y="276.70" width="3.90" height="105.20" fill="url(#gsheath)" stroke="none" stroke-width="0.5"/>
<rect x="344.35" y="276.70" width="3.30" height="4.94" fill="#8a9242" stroke="none" stroke-width="0.5" opacity="0.7"/>
<rect x="344.35" y="281.64" width="3.30" height="6.91" fill="#8a9242" stroke="none" stroke-width="0.5" opacity="0.7"/>
<rect x="344.35" y="288.55" width="3.30" height="6.22" fill="#b6bca6" stroke="none" stroke-width="0.5" opacity="0.65"/>
<rect x="344.35" y="294.76" width="3.30" height="3.35" fill="#b6bca6" stroke="none" stroke-width="0.5" opacity="0.65"/>
<rect x="344.35" y="298.11" width="3.30" height="3.22" fill="#b6bca6" stroke="none" stroke-width="0.5" opacity="0.65"/>
<rect x="344.35" y="301.34" width="3.30" height="3.42" fill="#8a9242" stroke="none" stroke-width="0.5" opacity="0.7"/>
<rect x="344.35" y="310.30" width="3.30" height="3.74" fill="#8a9242" stroke="none" stroke-width="0.5" opacity="0.7"/>
<rect x="344.35" y="320.81" width="3.30" height="6.46" fill="#b6bca6" stroke="none" stroke-width="0.5" opacity="0.65"/>
<rect x="344.35" y="327.27" width="3.30" height="8.86" fill="#8a9242" stroke="none" stroke-width="0.5" opacity="0.7"/>
<rect x="344.35" y="336.13" width="3.30" height="8.15" fill="#8a9242" stroke="none" stroke-width="0.5" opacity="0.7"/>
<rect x="344.35" y="344.28" width="3.30" height="3.87" fill="#8a9242" stroke="none" stroke-width="0.5" opacity="0.7"/>
<rect x="344.35" y="353.00" width="3.30" height="4.08" fill="#b6bca6" stroke="none" stroke-width="0.5" opacity="0.65"/>
<rect x="344.35" y="357.08" width="3.30" height="6.83" fill="#b6bca6" stroke="none" stroke-width="0.5" opacity="0.65"/>
<rect x="344.35" y="363.92" width="3.30" height="6.29" fill="#8a9242" stroke="none" stroke-width="0.5" opacity="0.7"/>
<rect x="344.35" y="370.20" width="3.30" height="3.36" fill="#8a9242" stroke="none" stroke-width="0.5" opacity="0.7"/>
<rect x="344.35" y="373.56" width="3.30" height="7.08" fill="#b6bca6" stroke="none" stroke-width="0.5" opacity="0.65"/>
<rect x="345.75" y="309.12" width="1.00" height="2.02" fill="#6b5426" stroke="none" stroke-width="0.5" opacity="0.8"/>
<rect x="346.35" y="307.64" width="1.00" height="2.46" fill="#6b5426" stroke="none" stroke-width="0.5" opacity="0.8"/>
<rect x="345.72" y="301.89" width="1.00" height="2.15" fill="#6b5426" stroke="none" stroke-width="0.5" opacity="0.8"/>
<rect x="346.17" y="367.01" width="1.00" height="1.72" fill="#6b5426" stroke="none" stroke-width="0.5" opacity="0.8"/>
<rect x="344.39" y="377.85" width="1.00" height="1.95" fill="#6b5426" stroke="none" stroke-width="0.5" opacity="0.8"/>
<rect x="344.49" y="354.84" width="1.00" height="2.08" fill="#6b5426" stroke="none" stroke-width="0.5" opacity="0.8"/>
<rect x="345.99" y="280.75" width="1.00" height="2.58" fill="#6b5426" stroke="none" stroke-width="0.5" opacity="0.8"/>
<rect x="346.59" y="335.84" width="1.00" height="1.76" fill="#6b5426" stroke="none" stroke-width="0.5" opacity="0.8"/>
<rect x="345.77" y="348.45" width="1.00" height="2.24" fill="#6b5426" stroke="none" stroke-width="0.5" opacity="0.8"/>
<rect x="346.49" y="323.78" width="1.00" height="2.90" fill="#6b5426" stroke="none" stroke-width="0.5" opacity="0.8"/>
<rect x="345.98" y="325.63" width="1.00" height="1.31" fill="#6b5426" stroke="none" stroke-width="0.5" opacity="0.8"/>
<path d="M346.60 278.20 L348.00 273.20" fill="none" stroke="#8f9a48" stroke-width="1.0"/>
<path d="M347.45 353.01 L349.75 348.51" fill="none" stroke="#a39a5e" stroke-width="0.9"/>
<path d="M330.00 278.10 L336.30 280.70 L330.00 283.30 Z" fill="#ff0000" stroke="none" stroke-width="0"/>
<path d="M331.00 369.20 L337.30 371.80 L331.00 374.40 Z" fill="#ff0000" stroke="none" stroke-width="0"/>
<rect x="374.80" y="224.00" width="2.20" height="163.90" fill="url(#gculm)" stroke="none" stroke-width="0.5"/>
<rect x="374.15" y="369.20" width="3.50" height="18.70" fill="url(#gsheathg)" stroke="none" stroke-width="0.5"/>
<rect x="373.95" y="277.60" width="3.90" height="91.60" fill="url(#gsheath)" stroke="none" stroke-width="0.5"/>
<rect x="374.25" y="285.72" width="3.30" height="3.51" fill="#8a9242" stroke="none" stroke-width="0.5" opacity="0.7"/>
<rect x="374.25" y="289.23" width="3.30" height="8.99" fill="#8a9242" stroke="none" stroke-width="0.5" opacity="0.7"/>
<rect x="374.25" y="298.22" width="3.30" height="6.85" fill="#b6bca6" stroke="none" stroke-width="0.5" opacity="0.65"/>
<rect x="374.25" y="305.08" width="3.30" height="5.72" fill="#b6bca6" stroke="none" stroke-width="0.5" opacity="0.65"/>
<rect x="374.25" y="314.95" width="3.30" height="3.54" fill="#8a9242" stroke="none" stroke-width="0.5" opacity="0.7"/>
<rect x="374.25" y="318.48" width="3.30" height="3.12" fill="#8a9242" stroke="none" stroke-width="0.5" opacity="0.7"/>
<rect x="374.25" y="327.05" width="3.30" height="5.27" fill="#8a9242" stroke="none" stroke-width="0.5" opacity="0.7"/>
<rect x="374.25" y="356.53" width="3.30" height="8.41" fill="#b6bca6" stroke="none" stroke-width="0.5" opacity="0.65"/>
<rect x="374.25" y="364.94" width="3.30" height="3.85" fill="#8a9242" stroke="none" stroke-width="0.5" opacity="0.7"/>
<rect x="375.37" y="362.37" width="1.00" height="1.55" fill="#6b5426" stroke="none" stroke-width="0.5" opacity="0.8"/>
<rect x="375.63" y="362.37" width="1.00" height="2.51" fill="#6b5426" stroke="none" stroke-width="0.5" opacity="0.8"/>
<rect x="374.78" y="356.53" width="1.00" height="1.84" fill="#6b5426" stroke="none" stroke-width="0.5" opacity="0.8"/>
<rect x="374.34" y="356.28" width="1.00" height="2.58" fill="#6b5426" stroke="none" stroke-width="0.5" opacity="0.8"/>
<rect x="375.95" y="286.35" width="1.00" height="2.46" fill="#6b5426" stroke="none" stroke-width="0.5" opacity="0.8"/>
<rect x="376.40" y="362.72" width="1.00" height="2.11" fill="#6b5426" stroke="none" stroke-width="0.5" opacity="0.8"/>
<rect x="374.39" y="295.31" width="1.00" height="2.15" fill="#6b5426" stroke="none" stroke-width="0.5" opacity="0.8"/>
<rect x="374.16" y="323.28" width="1.00" height="2.83" fill="#6b5426" stroke="none" stroke-width="0.5" opacity="0.8"/>
<rect x="375.98" y="323.06" width="1.00" height="1.60" fill="#6b5426" stroke="none" stroke-width="0.5" opacity="0.8"/>
<rect x="373.98" y="299.45" width="1.00" height="1.82" fill="#6b5426" stroke="none" stroke-width="0.5" opacity="0.8"/>
<path d="M376.50 279.10 L377.90 274.10" fill="none" stroke="#8f9a48" stroke-width="1.0"/>
<path d="M377.35 334.09 L379.65 329.59" fill="none" stroke="#a39a5e" stroke-width="0.9"/>
<rect x="380.90" y="224.00" width="2.20" height="163.90" fill="url(#gculm)" stroke="none" stroke-width="0.5"/>
<rect x="380.25" y="381.90" width="3.50" height="6.00" fill="url(#gsheathg)" stroke="none" stroke-width="0.5"/>
<rect x="380.05" y="272.60" width="3.90" height="109.30" fill="url(#gsheath)" stroke="none" stroke-width="0.5"/>
<rect x="380.35" y="272.60" width="3.30" height="5.78" fill="#b6bca6" stroke="none" stroke-width="0.5" opacity="0.65"/>
<rect x="380.35" y="282.21" width="3.30" height="3.04" fill="#b6bca6" stroke="none" stroke-width="0.5" opacity="0.65"/>
<rect x="380.35" y="285.25" width="3.30" height="8.39" fill="#8a9242" stroke="none" stroke-width="0.5" opacity="0.7"/>
<rect x="380.35" y="299.96" width="3.30" height="3.25" fill="#b6bca6" stroke="none" stroke-width="0.5" opacity="0.65"/>
<rect x="380.35" y="303.21" width="3.30" height="7.22" fill="#b6bca6" stroke="none" stroke-width="0.5" opacity="0.65"/>
<rect x="380.35" y="310.43" width="3.30" height="7.35" fill="#8a9242" stroke="none" stroke-width="0.5" opacity="0.7"/>
<rect x="380.35" y="317.78" width="3.30" height="4.43" fill="#8a9242" stroke="none" stroke-width="0.5" opacity="0.7"/>
<rect x="380.35" y="340.09" width="3.30" height="3.61" fill="#8a9242" stroke="none" stroke-width="0.5" opacity="0.7"/>
<rect x="380.35" y="350.75" width="3.30" height="5.53" fill="#8a9242" stroke="none" stroke-width="0.5" opacity="0.7"/>
<rect x="380.35" y="356.28" width="3.30" height="4.60" fill="#8a9242" stroke="none" stroke-width="0.5" opacity="0.7"/>
<rect x="380.35" y="369.76" width="3.30" height="8.28" fill="#8a9242" stroke="none" stroke-width="0.5" opacity="0.7"/>
<rect x="380.35" y="378.04" width="3.30" height="3.86" fill="#b6bca6" stroke="none" stroke-width="0.5" opacity="0.65"/>
<rect x="381.28" y="275.12" width="1.00" height="2.83" fill="#6b5426" stroke="none" stroke-width="0.5" opacity="0.8"/>
<rect x="381.78" y="284.62" width="1.00" height="1.42" fill="#6b5426" stroke="none" stroke-width="0.5" opacity="0.8"/>
<rect x="382.65" y="334.69" width="1.00" height="1.57" fill="#6b5426" stroke="none" stroke-width="0.5" opacity="0.8"/>
<rect x="380.29" y="273.49" width="1.00" height="2.17" fill="#6b5426" stroke="none" stroke-width="0.5" opacity="0.8"/>
<rect x="380.30" y="274.47" width="1.00" height="2.09" fill="#6b5426" stroke="none" stroke-width="0.5" opacity="0.8"/>
<rect x="381.27" y="371.42" width="1.00" height="1.92" fill="#6b5426" stroke="none" stroke-width="0.5" opacity="0.8"/>
<rect x="380.32" y="341.13" width="1.00" height="2.24" fill="#6b5426" stroke="none" stroke-width="0.5" opacity="0.8"/>
<rect x="381.82" y="291.12" width="1.00" height="2.92" fill="#6b5426" stroke="none" stroke-width="0.5" opacity="0.8"/>
<rect x="381.66" y="278.41" width="1.00" height="2.29" fill="#6b5426" stroke="none" stroke-width="0.5" opacity="0.8"/>
<rect x="380.83" y="288.62" width="1.00" height="2.99" fill="#6b5426" stroke="none" stroke-width="0.5" opacity="0.8"/>
<rect x="380.40" y="379.68" width="1.00" height="2.47" fill="#6b5426" stroke="none" stroke-width="0.5" opacity="0.8"/>
<rect x="380.74" y="374.63" width="1.00" height="2.30" fill="#6b5426" stroke="none" stroke-width="0.5" opacity="0.8"/>
<path d="M382.60 274.10 L384.00 269.10" fill="none" stroke="#8f9a48" stroke-width="1.0"/>
<path d="M383.45 333.89 L385.75 329.39" fill="none" stroke="#a39a5e" stroke-width="0.9"/>
<path d="M366.00 274.00 L372.30 276.60 L366.00 279.20 Z" fill="#ff0000" stroke="none" stroke-width="0"/>
<path d="M367.00 367.60 L373.30 370.20 L367.00 372.80 Z" fill="#ff0000" stroke="none" stroke-width="0"/>
<rect x="387.80" y="356.20" width="2.60" height="28.10" fill="#ffffff" stroke="none" stroke-width="0.5"/>
<g transform="translate(242.60 397.50) rotate(-45)">
<text x="0" y="0.00" font-size="7.7" text-anchor="end" fill="#231f20">WT</text>
</g>
<g transform="translate(279.00 397.50) rotate(-45)">
<text x="0" y="0.00" font-size="7.7" text-anchor="end" fill="#231f20" textLength="44.0" lengthAdjust="spacingAndGlyphs">SBRR1-OE1</text>
</g>
<g transform="translate(311.50 398.50) rotate(-45)">
<text x="0" y="0.00" font-size="7.7" text-anchor="end" fill="#231f20" textLength="45.0" lengthAdjust="spacingAndGlyphs">SBRR1-OE1/</text>
<text x="0" y="10.00" font-size="8.1" text-anchor="end" fill="#231f20" textLength="54.5" lengthAdjust="spacingAndGlyphs">chit3chit4-ko1</text>
</g>
<g transform="translate(347.70 398.50) rotate(-45)">
<text x="0" y="0.00" font-size="7.7" text-anchor="end" fill="#231f20" textLength="45.0" lengthAdjust="spacingAndGlyphs">SBRR1-OE1/</text>
<text x="0" y="10.00" font-size="8.1" text-anchor="end" fill="#231f20" textLength="54.5" lengthAdjust="spacingAndGlyphs">chit3chit4-ko2</text>
</g>
<g transform="translate(383.90 398.50) rotate(-45)">
<text x="0" y="0.00" font-size="7.7" text-anchor="end" fill="#231f20" textLength="45.0" lengthAdjust="spacingAndGlyphs">SBRR1-OE1/</text>
<text x="0" y="10.00" font-size="8.1" text-anchor="end" fill="#231f20" textLength="54.5" lengthAdjust="spacingAndGlyphs">chit3chit4-ko3</text>
</g>
<text x="431.00" y="229.50" font-size="12" text-anchor="start" fill="#000" font-weight="bold">d</text>
<line x1="465.40" y1="227.30" x2="465.40" y2="435.90" stroke="#6e6e6e" stroke-width="0.7"/>
<line x1="462.40" y1="435.90" x2="465.40" y2="435.90" stroke="#6e6e6e" stroke-width="0.7"/>
<text x="458.00" y="438.70" font-size="8.0" text-anchor="end" fill="#3a3a3a">0</text>
<line x1="462.40" y1="383.75" x2="465.40" y2="383.75" stroke="#6e6e6e" stroke-width="0.7"/>
<text x="458.00" y="386.55" font-size="8.0" text-anchor="end" fill="#3a3a3a">10</text>
<line x1="462.40" y1="331.60" x2="465.40" y2="331.60" stroke="#6e6e6e" stroke-width="0.7"/>
<text x="458.00" y="334.40" font-size="8.0" text-anchor="end" fill="#3a3a3a">20</text>
<line x1="462.40" y1="279.45" x2="465.40" y2="279.45" stroke="#6e6e6e" stroke-width="0.7"/>
<text x="458.00" y="282.25" font-size="8.0" text-anchor="end" fill="#3a3a3a">30</text>
<line x1="462.40" y1="227.30" x2="465.40" y2="227.30" stroke="#6e6e6e" stroke-width="0.7"/>
<text x="458.00" y="230.10" font-size="8.0" text-anchor="end" fill="#3a3a3a">40</text>
<line x1="462.40" y1="435.90" x2="679.60" y2="435.90" stroke="#6e6e6e" stroke-width="0.7"/>
<text x="440.00" y="332.60" font-size="9.2" text-anchor="middle" fill="#231f20" textLength="84.7" lengthAdjust="spacingAndGlyphs" transform="rotate(-90 440.0 332.6)">Lesion length (cm)</text>
<rect x="472.30" y="336.29" width="14.20" height="99.61" fill="#a0a0a0" stroke="#3a3a3a" stroke-width="0.6"/>
<line x1="479.40" y1="435.90" x2="479.40" y2="438.40" stroke="#6e6e6e" stroke-width="0.7"/>
<circle cx="479.40" cy="295.09" r="1.85" fill="#000" stroke="none" stroke-width="0.5"/>
<circle cx="479.40" cy="309.32" r="1.85" fill="#000" stroke="none" stroke-width="0.5"/>
<circle cx="479.40" cy="314.55" r="1.85" fill="#000" stroke="none" stroke-width="0.5"/>
<circle cx="479.40" cy="320.21" r="1.85" fill="#000" stroke="none" stroke-width="0.5"/>
<circle cx="485.00" cy="320.49" r="1.85" fill="#000" stroke="none" stroke-width="0.5"/>
<circle cx="479.40" cy="326.17" r="1.85" fill="#000" stroke="none" stroke-width="0.5"/>
<circle cx="485.00" cy="326.77" r="1.85" fill="#000" stroke="none" stroke-width="0.5"/>
<circle cx="475.89" cy="328.90" r="1.85" fill="#000" stroke="none" stroke-width="0.5"/>
<circle cx="479.40" cy="333.49" r="1.85" fill="#000" stroke="none" stroke-width="0.5"/>
<circle cx="485.00" cy="333.98" r="1.85" fill="#000" stroke="none" stroke-width="0.5"/>
<circle cx="473.80" cy="334.97" r="1.85" fill="#000" stroke="none" stroke-width="0.5"/>
<circle cx="485.00" cy="335.15" r="1.85" fill="#000" stroke="none" stroke-width="0.5"/>
<circle cx="479.40" cy="338.37" r="1.85" fill="#000" stroke="none" stroke-width="0.5"/>
<circle cx="485.00" cy="339.17" r="1.85" fill="#000" stroke="none" stroke-width="0.5"/>
<circle cx="479.40" cy="343.36" r="1.85" fill="#000" stroke="none" stroke-width="0.5"/>
<circle cx="485.00" cy="344.20" r="1.85" fill="#000" stroke="none" stroke-width="0.5"/>
<circle cx="475.89" cy="345.23" r="1.85" fill="#000" stroke="none" stroke-width="0.5"/>
<circle cx="479.40" cy="361.33" r="1.85" fill="#000" stroke="none" stroke-width="0.5"/>
<line x1="479.40" y1="316.48" x2="479.40" y2="356.11" stroke="#444" stroke-width="0.6"/>
<line x1="475.40" y1="316.48" x2="483.40" y2="316.48" stroke="#444" stroke-width="0.6"/>
<line x1="475.40" y1="356.11" x2="483.40" y2="356.11" stroke="#444" stroke-width="0.6"/>
<text x="479.40" y="289.00" font-size="8.3" text-anchor="middle" fill="#231f20">b</text>
<text x="482.70" y="419.60" font-size="9.0" text-anchor="middle" fill="#231f20" textLength="21.5" lengthAdjust="spacingAndGlyphs" transform="rotate(-90 482.70000000000005 419.6)">n = 18</text>
<rect x="495.50" y="373.32" width="14.20" height="62.58" fill="#6fbd1d" stroke="#3a3a3a" stroke-width="0.6"/>
<line x1="502.60" y1="435.90" x2="502.60" y2="438.40" stroke="#6e6e6e" stroke-width="0.7"/>
<circle cx="502.60" cy="334.21" r="1.85" fill="#000" stroke="none" stroke-width="0.5"/>
<circle cx="502.60" cy="360.09" r="1.85" fill="#000" stroke="none" stroke-width="0.5"/>
<circle cx="508.20" cy="360.18" r="1.85" fill="#000" stroke="none" stroke-width="0.5"/>
<circle cx="506.11" cy="363.49" r="1.85" fill="#000" stroke="none" stroke-width="0.5"/>
<circle cx="502.60" cy="367.43" r="1.85" fill="#000" stroke="none" stroke-width="0.5"/>
<circle cx="508.20" cy="368.21" r="1.85" fill="#000" stroke="none" stroke-width="0.5"/>
<circle cx="502.60" cy="372.90" r="1.85" fill="#000" stroke="none" stroke-width="0.5"/>
<circle cx="508.20" cy="373.01" r="1.85" fill="#000" stroke="none" stroke-width="0.5"/>
<circle cx="499.09" cy="375.84" r="1.85" fill="#000" stroke="none" stroke-width="0.5"/>
<circle cx="502.60" cy="378.99" r="1.85" fill="#000" stroke="none" stroke-width="0.5"/>
<circle cx="508.20" cy="380.18" r="1.85" fill="#000" stroke="none" stroke-width="0.5"/>
<circle cx="499.09" cy="380.84" r="1.85" fill="#000" stroke="none" stroke-width="0.5"/>
<circle cx="502.60" cy="384.33" r="1.85" fill="#000" stroke="none" stroke-width="0.5"/>
<circle cx="502.60" cy="390.19" r="1.85" fill="#000" stroke="none" stroke-width="0.5"/>
<circle cx="502.60" cy="398.28" r="1.85" fill="#000" stroke="none" stroke-width="0.5"/>
<circle cx="506.11" cy="399.99" r="1.85" fill="#000" stroke="none" stroke-width="0.5"/>
<circle cx="502.60" cy="404.24" r="1.85" fill="#000" stroke="none" stroke-width="0.5"/>
<circle cx="506.11" cy="407.22" r="1.85" fill="#000" stroke="none" stroke-width="0.5"/>
<line x1="502.60" y1="358.20" x2="502.60" y2="388.44" stroke="#444" stroke-width="0.6"/>
<line x1="498.60" y1="358.20" x2="506.60" y2="358.20" stroke="#444" stroke-width="0.6"/>
<line x1="498.60" y1="388.44" x2="506.60" y2="388.44" stroke="#444" stroke-width="0.6"/>
<text x="502.60" y="329.40" font-size="8.3" text-anchor="middle" fill="#231f20">d</text>
<text x="505.90" y="419.60" font-size="9.0" text-anchor="middle" fill="#231f20" textLength="21.5" lengthAdjust="spacingAndGlyphs" transform="rotate(-90 505.90000000000003 419.6)">n = 18</text>
<rect x="518.70" y="371.76" width="14.20" height="64.14" fill="#6fbd1d" stroke="#3a3a3a" stroke-width="0.6"/>
<line x1="525.80" y1="435.90" x2="525.80" y2="438.40" stroke="#6e6e6e" stroke-width="0.7"/>
<circle cx="525.80" cy="348.29" r="1.85" fill="#000" stroke="none" stroke-width="0.5"/>
<circle cx="525.80" cy="360.27" r="1.85" fill="#000" stroke="none" stroke-width="0.5"/>
<circle cx="531.40" cy="361.04" r="1.85" fill="#000" stroke="none" stroke-width="0.5"/>
<circle cx="522.29" cy="363.53" r="1.85" fill="#000" stroke="none" stroke-width="0.5"/>
<circle cx="525.80" cy="367.29" r="1.85" fill="#000" stroke="none" stroke-width="0.5"/>
<circle cx="531.40" cy="368.31" r="1.85" fill="#000" stroke="none" stroke-width="0.5"/>
<circle cx="520.20" cy="368.39" r="1.85" fill="#000" stroke="none" stroke-width="0.5"/>
<circle cx="531.40" cy="368.42" r="1.85" fill="#000" stroke="none" stroke-width="0.5"/>
<circle cx="531.40" cy="369.11" r="1.85" fill="#000" stroke="none" stroke-width="0.5"/>
<circle cx="531.40" cy="370.55" r="1.85" fill="#000" stroke="none" stroke-width="0.5"/>
<circle cx="525.80" cy="371.69" r="1.85" fill="#000" stroke="none" stroke-width="0.5"/>
<circle cx="520.20" cy="372.44" r="1.85" fill="#000" stroke="none" stroke-width="0.5"/>
<circle cx="529.31" cy="374.10" r="1.85" fill="#000" stroke="none" stroke-width="0.5"/>
<circle cx="531.40" cy="374.30" r="1.85" fill="#000" stroke="none" stroke-width="0.5"/>
<circle cx="531.40" cy="374.54" r="1.85" fill="#000" stroke="none" stroke-width="0.5"/>
<circle cx="525.80" cy="377.14" r="1.85" fill="#000" stroke="none" stroke-width="0.5"/>
<circle cx="525.80" cy="383.04" r="1.85" fill="#000" stroke="none" stroke-width="0.5"/>
<circle cx="531.40" cy="383.94" r="1.85" fill="#000" stroke="none" stroke-width="0.5"/>
<circle cx="522.29" cy="385.54" r="1.85" fill="#000" stroke="none" stroke-width="0.5"/>
<circle cx="531.40" cy="386.25" r="1.85" fill="#000" stroke="none" stroke-width="0.5"/>
<circle cx="531.40" cy="386.63" r="1.85" fill="#000" stroke="none" stroke-width="0.5"/>
<circle cx="525.80" cy="388.62" r="1.85" fill="#000" stroke="none" stroke-width="0.5"/>
<circle cx="529.31" cy="390.94" r="1.85" fill="#000" stroke="none" stroke-width="0.5"/>
<circle cx="522.29" cy="391.57" r="1.85" fill="#000" stroke="none" stroke-width="0.5"/>
<line x1="525.80" y1="360.28" x2="525.80" y2="383.23" stroke="#444" stroke-width="0.6"/>
<line x1="521.80" y1="360.28" x2="529.80" y2="360.28" stroke="#444" stroke-width="0.6"/>
<line x1="521.80" y1="383.23" x2="529.80" y2="383.23" stroke="#444" stroke-width="0.6"/>
<text x="525.80" y="338.20" font-size="8.3" text-anchor="middle" fill="#231f20">d</text>
<text x="529.10" y="419.60" font-size="9.0" text-anchor="middle" fill="#231f20" textLength="21.5" lengthAdjust="spacingAndGlyphs" transform="rotate(-90 529.1 419.6)">n = 24</text>
<rect x="541.90" y="296.14" width="14.20" height="139.76" fill="#0099e0" stroke="#3a3a3a" stroke-width="0.6"/>
<line x1="549.00" y1="435.90" x2="549.00" y2="438.40" stroke="#6e6e6e" stroke-width="0.7"/>
<circle cx="549.00" cy="245.55" r="1.85" fill="#000" stroke="none" stroke-width="0.5"/>
<circle cx="549.00" cy="260.53" r="1.85" fill="#000" stroke="none" stroke-width="0.5"/>
<circle cx="549.00" cy="269.59" r="1.85" fill="#000" stroke="none" stroke-width="0.5"/>
<circle cx="552.51" cy="273.30" r="1.85" fill="#000" stroke="none" stroke-width="0.5"/>
<circle cx="549.00" cy="281.87" r="1.85" fill="#000" stroke="none" stroke-width="0.5"/>
<circle cx="554.60" cy="282.30" r="1.85" fill="#000" stroke="none" stroke-width="0.5"/>
<circle cx="549.00" cy="286.17" r="1.85" fill="#000" stroke="none" stroke-width="0.5"/>
<circle cx="554.60" cy="287.32" r="1.85" fill="#000" stroke="none" stroke-width="0.5"/>
<circle cx="545.49" cy="287.93" r="1.85" fill="#000" stroke="none" stroke-width="0.5"/>
<circle cx="549.00" cy="290.65" r="1.85" fill="#000" stroke="none" stroke-width="0.5"/>
<circle cx="549.00" cy="296.15" r="1.85" fill="#000" stroke="none" stroke-width="0.5"/>
<circle cx="549.00" cy="301.65" r="1.85" fill="#000" stroke="none" stroke-width="0.5"/>
<circle cx="554.60" cy="302.50" r="1.85" fill="#000" stroke="none" stroke-width="0.5"/>
<circle cx="543.40" cy="302.73" r="1.85" fill="#000" stroke="none" stroke-width="0.5"/>
<circle cx="554.60" cy="305.12" r="1.85" fill="#000" stroke="none" stroke-width="0.5"/>
<circle cx="549.00" cy="306.26" r="1.85" fill="#000" stroke="none" stroke-width="0.5"/>
<circle cx="543.40" cy="307.08" r="1.85" fill="#000" stroke="none" stroke-width="0.5"/>
<circle cx="552.51" cy="308.43" r="1.85" fill="#000" stroke="none" stroke-width="0.5"/>
<circle cx="549.00" cy="314.66" r="1.85" fill="#000" stroke="none" stroke-width="0.5"/>
<circle cx="549.00" cy="319.84" r="1.85" fill="#000" stroke="none" stroke-width="0.5"/>
<circle cx="552.51" cy="322.86" r="1.85" fill="#000" stroke="none" stroke-width="0.5"/>
<circle cx="549.00" cy="325.21" r="1.85" fill="#000" stroke="none" stroke-width="0.5"/>
<circle cx="549.00" cy="333.64" r="1.85" fill="#000" stroke="none" stroke-width="0.5"/>
<circle cx="549.00" cy="344.64" r="1.85" fill="#000" stroke="none" stroke-width="0.5"/>
<line x1="549.00" y1="270.06" x2="549.00" y2="322.21" stroke="#444" stroke-width="0.6"/>
<line x1="545.00" y1="270.06" x2="553.00" y2="270.06" stroke="#444" stroke-width="0.6"/>
<line x1="545.00" y1="322.21" x2="553.00" y2="322.21" stroke="#444" stroke-width="0.6"/>
<text x="549.00" y="234.30" font-size="8.3" text-anchor="middle" fill="#231f20">a</text>
<text x="552.30" y="419.60" font-size="9.0" text-anchor="middle" fill="#231f20" textLength="21.5" lengthAdjust="spacingAndGlyphs" transform="rotate(-90 552.3 419.6)">n = 24</text>
<rect x="565.10" y="304.48" width="14.20" height="131.42" fill="#0099e0" stroke="#3a3a3a" stroke-width="0.6"/>
<line x1="572.20" y1="435.90" x2="572.20" y2="438.40" stroke="#6e6e6e" stroke-width="0.7"/>
<circle cx="572.20" cy="276.84" r="1.85" fill="#000" stroke="none" stroke-width="0.5"/>
<circle cx="572.20" cy="282.36" r="1.85" fill="#000" stroke="none" stroke-width="0.5"/>
<circle cx="572.20" cy="294.43" r="1.85" fill="#000" stroke="none" stroke-width="0.5"/>
<circle cx="575.71" cy="298.32" r="1.85" fill="#000" stroke="none" stroke-width="0.5"/>
<circle cx="572.20" cy="300.15" r="1.85" fill="#000" stroke="none" stroke-width="0.5"/>
<circle cx="577.80" cy="300.30" r="1.85" fill="#000" stroke="none" stroke-width="0.5"/>
<circle cx="566.60" cy="300.34" r="1.85" fill="#000" stroke="none" stroke-width="0.5"/>
<circle cx="577.80" cy="302.84" r="1.85" fill="#000" stroke="none" stroke-width="0.5"/>
<circle cx="572.20" cy="305.77" r="1.85" fill="#000" stroke="none" stroke-width="0.5"/>
<circle cx="575.71" cy="307.63" r="1.85" fill="#000" stroke="none" stroke-width="0.5"/>
<circle cx="568.69" cy="307.72" r="1.85" fill="#000" stroke="none" stroke-width="0.5"/>
<circle cx="577.80" cy="308.84" r="1.85" fill="#000" stroke="none" stroke-width="0.5"/>
<circle cx="572.20" cy="309.95" r="1.85" fill="#000" stroke="none" stroke-width="0.5"/>
<circle cx="568.69" cy="311.96" r="1.85" fill="#000" stroke="none" stroke-width="0.5"/>
<circle cx="575.71" cy="312.78" r="1.85" fill="#000" stroke="none" stroke-width="0.5"/>
<circle cx="577.80" cy="313.46" r="1.85" fill="#000" stroke="none" stroke-width="0.5"/>
<circle cx="572.20" cy="318.97" r="1.85" fill="#000" stroke="none" stroke-width="0.5"/>
<circle cx="572.20" cy="349.85" r="1.85" fill="#000" stroke="none" stroke-width="0.5"/>
<line x1="572.20" y1="287.79" x2="572.20" y2="321.17" stroke="#444" stroke-width="0.6"/>
<line x1="568.20" y1="287.79" x2="576.20" y2="287.79" stroke="#444" stroke-width="0.6"/>
<line x1="568.20" y1="321.17" x2="576.20" y2="321.17" stroke="#444" stroke-width="0.6"/>
<text x="572.20" y="265.60" font-size="8.3" text-anchor="middle" fill="#231f20">a</text>
<text x="575.50" y="419.60" font-size="9.0" text-anchor="middle" fill="#231f20" textLength="21.5" lengthAdjust="spacingAndGlyphs" transform="rotate(-90 575.5 419.6)">n = 18</text>
<rect x="588.30" y="353.50" width="14.20" height="82.40" fill="#ffff00" stroke="#3a3a3a" stroke-width="0.6"/>
<line x1="595.40" y1="435.90" x2="595.40" y2="438.40" stroke="#6e6e6e" stroke-width="0.7"/>
<circle cx="595.40" cy="328.99" r="1.85" fill="#000" stroke="none" stroke-width="0.5"/>
<circle cx="595.40" cy="335.76" r="1.85" fill="#000" stroke="none" stroke-width="0.5"/>
<circle cx="598.91" cy="337.59" r="1.85" fill="#000" stroke="none" stroke-width="0.5"/>
<circle cx="595.40" cy="340.81" r="1.85" fill="#000" stroke="none" stroke-width="0.5"/>
<circle cx="601.00" cy="342.07" r="1.85" fill="#000" stroke="none" stroke-width="0.5"/>
<circle cx="595.40" cy="344.93" r="1.85" fill="#000" stroke="none" stroke-width="0.5"/>
<circle cx="598.91" cy="348.65" r="1.85" fill="#000" stroke="none" stroke-width="0.5"/>
<circle cx="591.89" cy="348.99" r="1.85" fill="#000" stroke="none" stroke-width="0.5"/>
<circle cx="595.40" cy="352.09" r="1.85" fill="#000" stroke="none" stroke-width="0.5"/>
<circle cx="598.91" cy="355.95" r="1.85" fill="#000" stroke="none" stroke-width="0.5"/>
<circle cx="591.89" cy="356.22" r="1.85" fill="#000" stroke="none" stroke-width="0.5"/>
<circle cx="601.00" cy="357.03" r="1.85" fill="#000" stroke="none" stroke-width="0.5"/>
<circle cx="601.00" cy="357.14" r="1.85" fill="#000" stroke="none" stroke-width="0.5"/>
<circle cx="595.40" cy="361.71" r="1.85" fill="#000" stroke="none" stroke-width="0.5"/>
<circle cx="601.00" cy="361.88" r="1.85" fill="#000" stroke="none" stroke-width="0.5"/>
<circle cx="595.40" cy="368.72" r="1.85" fill="#000" stroke="none" stroke-width="0.5"/>
<circle cx="595.40" cy="373.11" r="1.85" fill="#000" stroke="none" stroke-width="0.5"/>
<circle cx="595.40" cy="388.96" r="1.85" fill="#000" stroke="none" stroke-width="0.5"/>
<line x1="595.40" y1="338.38" x2="595.40" y2="368.63" stroke="#444" stroke-width="0.6"/>
<line x1="591.40" y1="338.38" x2="599.40" y2="338.38" stroke="#444" stroke-width="0.6"/>
<line x1="591.40" y1="368.63" x2="599.40" y2="368.63" stroke="#444" stroke-width="0.6"/>
<text x="595.40" y="323.70" font-size="8.3" text-anchor="middle" fill="#231f20">c</text>
<text x="598.70" y="419.60" font-size="9.0" text-anchor="middle" fill="#231f20" textLength="21.5" lengthAdjust="spacingAndGlyphs" transform="rotate(-90 598.6999999999999 419.6)">n = 18</text>
<rect x="611.50" y="350.90" width="14.20" height="85.00" fill="#ffff00" stroke="#3a3a3a" stroke-width="0.6"/>
<line x1="618.60" y1="435.90" x2="618.60" y2="438.40" stroke="#6e6e6e" stroke-width="0.7"/>
<circle cx="618.60" cy="337.86" r="1.85" fill="#000" stroke="none" stroke-width="0.5"/>
<circle cx="622.11" cy="340.54" r="1.85" fill="#000" stroke="none" stroke-width="0.5"/>
<circle cx="615.09" cy="340.88" r="1.85" fill="#000" stroke="none" stroke-width="0.5"/>
<circle cx="618.60" cy="345.17" r="1.85" fill="#000" stroke="none" stroke-width="0.5"/>
<circle cx="624.20" cy="345.17" r="1.85" fill="#000" stroke="none" stroke-width="0.5"/>
<circle cx="613.00" cy="346.11" r="1.85" fill="#000" stroke="none" stroke-width="0.5"/>
<circle cx="624.20" cy="346.24" r="1.85" fill="#000" stroke="none" stroke-width="0.5"/>
<circle cx="624.20" cy="347.02" r="1.85" fill="#000" stroke="none" stroke-width="0.5"/>
<circle cx="624.20" cy="348.82" r="1.85" fill="#000" stroke="none" stroke-width="0.5"/>
<circle cx="618.60" cy="350.58" r="1.85" fill="#000" stroke="none" stroke-width="0.5"/>
<circle cx="613.00" cy="352.03" r="1.85" fill="#000" stroke="none" stroke-width="0.5"/>
<circle cx="624.20" cy="352.16" r="1.85" fill="#000" stroke="none" stroke-width="0.5"/>
<circle cx="624.20" cy="352.44" r="1.85" fill="#000" stroke="none" stroke-width="0.5"/>
<circle cx="624.20" cy="352.54" r="1.85" fill="#000" stroke="none" stroke-width="0.5"/>
<circle cx="624.20" cy="352.76" r="1.85" fill="#000" stroke="none" stroke-width="0.5"/>
<circle cx="624.20" cy="353.24" r="1.85" fill="#000" stroke="none" stroke-width="0.5"/>
<circle cx="624.20" cy="354.43" r="1.85" fill="#000" stroke="none" stroke-width="0.5"/>
<circle cx="618.60" cy="355.41" r="1.85" fill="#000" stroke="none" stroke-width="0.5"/>
<circle cx="613.00" cy="356.29" r="1.85" fill="#000" stroke="none" stroke-width="0.5"/>
<circle cx="618.60" cy="359.98" r="1.85" fill="#000" stroke="none" stroke-width="0.5"/>
<circle cx="624.20" cy="360.50" r="1.85" fill="#000" stroke="none" stroke-width="0.5"/>
<circle cx="615.09" cy="361.85" r="1.85" fill="#000" stroke="none" stroke-width="0.5"/>
<circle cx="613.00" cy="363.76" r="1.85" fill="#000" stroke="none" stroke-width="0.5"/>
<circle cx="618.60" cy="368.10" r="1.85" fill="#000" stroke="none" stroke-width="0.5"/>
<line x1="618.60" y1="343.07" x2="618.60" y2="358.72" stroke="#444" stroke-width="0.6"/>
<line x1="614.60" y1="343.07" x2="622.60" y2="343.07" stroke="#444" stroke-width="0.6"/>
<line x1="614.60" y1="358.72" x2="622.60" y2="358.72" stroke="#444" stroke-width="0.6"/>
<text x="618.60" y="329.80" font-size="8.3" text-anchor="middle" fill="#231f20">c</text>
<text x="621.90" y="419.60" font-size="9.0" text-anchor="middle" fill="#231f20" textLength="21.5" lengthAdjust="spacingAndGlyphs" transform="rotate(-90 621.9 419.6)">n = 24</text>
<rect x="634.70" y="352.46" width="14.20" height="83.44" fill="#f9a54a" stroke="#3a3a3a" stroke-width="0.6"/>
<line x1="641.80" y1="435.90" x2="641.80" y2="438.40" stroke="#6e6e6e" stroke-width="0.7"/>
<circle cx="641.80" cy="334.21" r="1.85" fill="#000" stroke="none" stroke-width="0.5"/>
<circle cx="641.80" cy="340.73" r="1.85" fill="#000" stroke="none" stroke-width="0.5"/>
<circle cx="647.40" cy="340.75" r="1.85" fill="#000" stroke="none" stroke-width="0.5"/>
<circle cx="638.29" cy="343.59" r="1.85" fill="#000" stroke="none" stroke-width="0.5"/>
<circle cx="645.31" cy="345.02" r="1.85" fill="#000" stroke="none" stroke-width="0.5"/>
<circle cx="641.80" cy="348.12" r="1.85" fill="#000" stroke="none" stroke-width="0.5"/>
<circle cx="647.40" cy="348.49" r="1.85" fill="#000" stroke="none" stroke-width="0.5"/>
<circle cx="636.20" cy="349.71" r="1.85" fill="#000" stroke="none" stroke-width="0.5"/>
<circle cx="647.40" cy="350.54" r="1.85" fill="#000" stroke="none" stroke-width="0.5"/>
<circle cx="647.40" cy="350.58" r="1.85" fill="#000" stroke="none" stroke-width="0.5"/>
<circle cx="641.80" cy="352.98" r="1.85" fill="#000" stroke="none" stroke-width="0.5"/>
<circle cx="645.31" cy="355.10" r="1.85" fill="#000" stroke="none" stroke-width="0.5"/>
<circle cx="638.29" cy="356.39" r="1.85" fill="#000" stroke="none" stroke-width="0.5"/>
<circle cx="647.40" cy="357.69" r="1.85" fill="#000" stroke="none" stroke-width="0.5"/>
<circle cx="641.80" cy="360.61" r="1.85" fill="#000" stroke="none" stroke-width="0.5"/>
<circle cx="647.40" cy="362.15" r="1.85" fill="#000" stroke="none" stroke-width="0.5"/>
<circle cx="641.80" cy="366.24" r="1.85" fill="#000" stroke="none" stroke-width="0.5"/>
<circle cx="641.80" cy="375.93" r="1.85" fill="#000" stroke="none" stroke-width="0.5"/>
<line x1="641.80" y1="339.94" x2="641.80" y2="364.98" stroke="#444" stroke-width="0.6"/>
<line x1="637.80" y1="339.94" x2="645.80" y2="339.94" stroke="#444" stroke-width="0.6"/>
<line x1="637.80" y1="364.98" x2="645.80" y2="364.98" stroke="#444" stroke-width="0.6"/>
<text x="641.80" y="328.40" font-size="8.3" text-anchor="middle" fill="#231f20">c</text>
<text x="645.10" y="419.60" font-size="9.0" text-anchor="middle" fill="#231f20" textLength="21.5" lengthAdjust="spacingAndGlyphs" transform="rotate(-90 645.1 419.6)">n = 18</text>
<rect x="657.90" y="354.55" width="14.20" height="81.35" fill="#f9a54a" stroke="#3a3a3a" stroke-width="0.6"/>
<line x1="665.00" y1="435.90" x2="665.00" y2="438.40" stroke="#6e6e6e" stroke-width="0.7"/>
<circle cx="665.00" cy="332.64" r="1.85" fill="#000" stroke="none" stroke-width="0.5"/>
<circle cx="665.00" cy="338.59" r="1.85" fill="#000" stroke="none" stroke-width="0.5"/>
<circle cx="670.60" cy="340.06" r="1.85" fill="#000" stroke="none" stroke-width="0.5"/>
<circle cx="661.49" cy="340.35" r="1.85" fill="#000" stroke="none" stroke-width="0.5"/>
<circle cx="670.60" cy="341.95" r="1.85" fill="#000" stroke="none" stroke-width="0.5"/>
<circle cx="665.00" cy="343.63" r="1.85" fill="#000" stroke="none" stroke-width="0.5"/>
<circle cx="665.00" cy="349.35" r="1.85" fill="#000" stroke="none" stroke-width="0.5"/>
<circle cx="670.60" cy="349.41" r="1.85" fill="#000" stroke="none" stroke-width="0.5"/>
<circle cx="661.49" cy="351.45" r="1.85" fill="#000" stroke="none" stroke-width="0.5"/>
<circle cx="665.00" cy="354.85" r="1.85" fill="#000" stroke="none" stroke-width="0.5"/>
<circle cx="670.60" cy="356.15" r="1.85" fill="#000" stroke="none" stroke-width="0.5"/>
<circle cx="661.49" cy="356.98" r="1.85" fill="#000" stroke="none" stroke-width="0.5"/>
<circle cx="670.60" cy="357.22" r="1.85" fill="#000" stroke="none" stroke-width="0.5"/>
<circle cx="670.60" cy="358.54" r="1.85" fill="#000" stroke="none" stroke-width="0.5"/>
<circle cx="665.00" cy="359.08" r="1.85" fill="#000" stroke="none" stroke-width="0.5"/>
<circle cx="659.40" cy="359.11" r="1.85" fill="#000" stroke="none" stroke-width="0.5"/>
<circle cx="670.60" cy="359.74" r="1.85" fill="#000" stroke="none" stroke-width="0.5"/>
<circle cx="670.60" cy="359.78" r="1.85" fill="#000" stroke="none" stroke-width="0.5"/>
<circle cx="670.60" cy="360.28" r="1.85" fill="#000" stroke="none" stroke-width="0.5"/>
<circle cx="670.60" cy="360.30" r="1.85" fill="#000" stroke="none" stroke-width="0.5"/>
<circle cx="670.60" cy="360.99" r="1.85" fill="#000" stroke="none" stroke-width="0.5"/>
<circle cx="665.00" cy="364.02" r="1.85" fill="#000" stroke="none" stroke-width="0.5"/>
<circle cx="670.60" cy="364.98" r="1.85" fill="#000" stroke="none" stroke-width="0.5"/>
<circle cx="665.00" cy="370.71" r="1.85" fill="#000" stroke="none" stroke-width="0.5"/>
<line x1="665.00" y1="345.16" x2="665.00" y2="363.93" stroke="#444" stroke-width="0.6"/>
<line x1="661.00" y1="345.16" x2="669.00" y2="345.16" stroke="#444" stroke-width="0.6"/>
<line x1="661.00" y1="363.93" x2="669.00" y2="363.93" stroke="#444" stroke-width="0.6"/>
<text x="665.00" y="325.70" font-size="8.3" text-anchor="middle" fill="#231f20">c</text>
<text x="668.30" y="419.60" font-size="9.0" text-anchor="middle" fill="#231f20" textLength="21.5" lengthAdjust="spacingAndGlyphs" transform="rotate(-90 668.3 419.6)">n = 24</text>
<g transform="translate(483.40 447.80) rotate(-45)">
<text x="0" y="0.00" font-size="7.5" text-anchor="end" fill="#231f20">WT</text>
</g>
<g transform="translate(506.60 447.80) rotate(-45)">
<text x="0" y="0.00" font-size="7.5" text-anchor="end" fill="#231f20"><tspan font-style="italic">Chit3</tspan>-OE1</text>
</g>
<g transform="translate(529.80 447.80) rotate(-45)">
<text x="0" y="0.00" font-size="7.5" text-anchor="end" fill="#231f20"><tspan font-style="italic">Chit3</tspan>-OE2</text>
</g>
<g transform="translate(553.00 447.80) rotate(-45)">
<text x="0" y="0.00" font-size="7.5" text-anchor="end" fill="#231f20"><tspan font-style="italic">sbrr1-ko1</tspan></text>
</g>
<g transform="translate(576.20 447.80) rotate(-45)">
<text x="0" y="0.00" font-size="7.5" text-anchor="end" fill="#231f20"><tspan font-style="italic">sip1-ko1</tspan></text>
</g>
<g transform="translate(599.40 447.80) rotate(-45)">
<text x="0" y="0.00" font-size="7.5" text-anchor="end" fill="#231f20" textLength="76.0" lengthAdjust="spacingAndGlyphs"><tspan font-style="italic">sbrr1-ko1</tspan>/<tspan font-style="italic">Chit3</tspan>-OE1</text>
</g>
<g transform="translate(622.60 447.80) rotate(-45)">
<text x="0" y="0.00" font-size="7.5" text-anchor="end" fill="#231f20" textLength="76.0" lengthAdjust="spacingAndGlyphs"><tspan font-style="italic">sbrr1-ko1</tspan>/<tspan font-style="italic">Chit3</tspan>-OE2</text>
</g>
<g transform="translate(645.80 447.80) rotate(-45)">
<text x="0" y="0.00" font-size="7.5" text-anchor="end" fill="#231f20" textLength="73.0" lengthAdjust="spacingAndGlyphs"><tspan font-style="italic">sip1-ko1</tspan>/<tspan font-style="italic">Chit3</tspan>-OE1</text>
</g>
<g transform="translate(669.00 447.80) rotate(-45)">
<text x="0" y="0.00" font-size="7.5" text-anchor="end" fill="#231f20" textLength="73.0" lengthAdjust="spacingAndGlyphs"><tspan font-style="italic">sip1-ko1</tspan>/<tspan font-style="italic">Chit3</tspan>-OE2</text>
</g>
<text x="0.00" y="466.00" font-size="12" text-anchor="start" fill="#000" font-weight="bold">e</text>
<defs>
<radialGradient id="purp" cx="0.45" cy="0.45" r="0.6"><stop offset="0" stop-color="#dcc0fb"/><stop offset="1" stop-color="#b88ae8"/></radialGradient>
<radialGradient id="orng" cx="0.5" cy="0.45" r="0.6"><stop offset="0" stop-color="#fad2b2"/><stop offset="1" stop-color="#ee9a62"/></radialGradient>
<radialGradient id="nucL" cx="190" cy="613" r="106" gradientUnits="userSpaceOnUse"><stop offset="0" stop-color="#f4faf7"/><stop offset="0.6" stop-color="#e9f5ef"/><stop offset="1" stop-color="#d8eee3"/></radialGradient>
<radialGradient id="nucR" cx="210" cy="613" r="104" gradientUnits="userSpaceOnUse"><stop offset="0" stop-color="#f3f6f1"/><stop offset="0.6" stop-color="#e9f0e5"/><stop offset="1" stop-color="#dce9d5"/></radialGradient>
<linearGradient id="cytL" x1="0" y1="0" x2="1" y2="0"><stop offset="0" stop-color="#cbebd8"/><stop offset="1" stop-color="#d0efdc"/></linearGradient>
<clipPath id="clipL"><rect x="0" y="490" width="190" height="250"/></clipPath>
<clipPath id="clipR"><rect x="210.5" y="490" width="200" height="250"/></clipPath>
</defs>
<path d="M190.00 495.90 L190.00 732.10 L36.30 732.10 L36.30 732.10 A22 22 0 0 1 14.30 710.10 L14.30 517.90 A22 22 0 0 1 36.30 495.90 Z" fill="#aed3dc" stroke="none" stroke-width="0"/>
<path d="M190.00 499.00 L36.30 499.00 A18.9 18.9 0 0 0 17.40 517.90 L17.40 710.10 A18.9 18.9 0 0 0 36.30 729.00 L190.00 729.00" fill="none" stroke="#e8f4f6" stroke-width="3.4" stroke-dasharray="0.9 0.9"/>
<path d="M190.00 499.00 L36.30 499.00 A18.9 18.9 0 0 0 17.40 517.90 L17.40 710.10 A18.9 18.9 0 0 0 36.30 729.00 L190.00 729.00" fill="none" stroke="#cfe6ec" stroke-width="1.0"/>
<path d="M190.00 502.10 L190.00 725.90 L36.30 725.90 A15.8 15.8 0 0 1 20.50 710.10 L20.50 517.90 A15.8 15.8 0 0 1 36.30 502.10 Z" fill="url(#cytL)" stroke="#9cc6d0" stroke-width="0.4"/>
<path d="M210.70 496.30 L364.80 496.30 A20 20 0 0 1 384.80 516.30 L384.80 712.10 A20 20 0 0 1 364.80 732.10 L210.70 732.10 Z" fill="#b7cbab" stroke="none" stroke-width="0"/>
<path d="M210.70 499.40 L364.80 499.40 A16.9 16.9 0 0 1 381.70 516.30 L381.70 712.10 A16.9 16.9 0 0 1 364.80 729.00 L210.70 729.00" fill="none" stroke="#e6ede1" stroke-width="3.4" stroke-dasharray="0.9 0.9"/>
<path d="M210.70 499.40 L364.80 499.40 A16.9 16.9 0 0 1 381.70 516.30 L381.70 712.10 A16.9 16.9 0 0 1 364.80 729.00 L210.70 729.00" fill="none" stroke="#cfdcc6" stroke-width="1.0"/>
<path d="M210.70 502.50 L364.80 502.50 A13.8 13.8 0 0 1 378.60 516.30 L378.60 712.10 A13.8 13.8 0 0 1 364.80 725.90 L210.70 725.90 Z" fill="#e2f0cd" stroke="#b4c8a8" stroke-width="0.4"/>
<g clip-path="url(#clipL)"><ellipse cx="190" cy="613" rx="106" ry="92" fill="url(#nucL)"/></g>
<g clip-path="url(#clipR)"><ellipse cx="210" cy="613" rx="104" ry="91" fill="url(#nucR)"/></g>
<path d="M153.49 526.63 L154.91 526.19 L156.34 525.76 L157.77 525.35 L159.22 524.97 L160.67 524.59 L162.12 524.24 L163.58 523.90 L165.05 523.59 L166.52 523.29 L167.99 523.00 L169.47 522.74 L170.96 522.50 L172.45 522.27 L173.94 522.06 L175.43 521.87 L176.93 521.70 L178.43 521.55 L179.94 521.42 L181.44 521.30 L182.95 521.20 L184.46 521.13 L185.96 521.07 L187.47 521.03 L188.99 521.00" fill="none" stroke="#8db8a7" stroke-width="6.5" stroke-linecap="round"/>
<path d="M153.49 526.63 L154.91 526.19 L156.34 525.76 L157.77 525.35 L159.22 524.97 L160.67 524.59 L162.12 524.24 L163.58 523.90 L165.05 523.59 L166.52 523.29 L167.99 523.00 L169.47 522.74 L170.96 522.50 L172.45 522.27 L173.94 522.06 L175.43 521.87 L176.93 521.70 L178.43 521.55 L179.94 521.42 L181.44 521.30 L182.95 521.20 L184.46 521.13 L185.96 521.07 L187.47 521.03 L188.99 521.00" fill="none" stroke="#c6e3d6" stroke-width="4.4" stroke-linecap="round"/>
<path d="M105.58 557.36 L106.77 556.03 L107.98 554.72 L109.22 553.43 L110.48 552.16 L111.78 550.91 L113.09 549.69 L114.44 548.48 L115.81 547.29 L117.20 546.13 L118.62 544.99 L120.06 543.87 L121.53 542.77 L123.01 541.70 L124.53 540.65 L126.06 539.62 L127.61 538.62 L129.18 537.65 L130.78 536.70 L132.39 535.77 L134.03 534.87 L135.68 534.00 L137.35 533.15 L139.04 532.33 L140.74 531.54" fill="none" stroke="#8db8a7" stroke-width="6.5" stroke-linecap="round"/>
<path d="M105.58 557.36 L106.77 556.03 L107.98 554.72 L109.22 553.43 L110.48 552.16 L111.78 550.91 L113.09 549.69 L114.44 548.48 L115.81 547.29 L117.20 546.13 L118.62 544.99 L120.06 543.87 L121.53 542.77 L123.01 541.70 L124.53 540.65 L126.06 539.62 L127.61 538.62 L129.18 537.65 L130.78 536.70 L132.39 535.77 L134.03 534.87 L135.68 534.00 L137.35 533.15 L139.04 532.33 L140.74 531.54" fill="none" stroke="#c6e3d6" stroke-width="4.4" stroke-linecap="round"/>
<path d="M85.71 596.55 L86.02 595.15 L86.35 593.74 L86.71 592.35 L87.09 590.95 L87.50 589.56 L87.93 588.18 L88.39 586.80 L88.87 585.43 L89.38 584.07 L89.91 582.72 L90.46 581.37 L91.04 580.03 L91.65 578.69 L92.27 577.37 L92.92 576.05 L93.60 574.74 L94.30 573.44 L95.02 572.16 L95.76 570.88 L96.53 569.61 L97.32 568.35 L98.13 567.10 L98.97 565.87 L99.82 564.64" fill="none" stroke="#8db8a7" stroke-width="6.5" stroke-linecap="round"/>
<path d="M85.71 596.55 L86.02 595.15 L86.35 593.74 L86.71 592.35 L87.09 590.95 L87.50 589.56 L87.93 588.18 L88.39 586.80 L88.87 585.43 L89.38 584.07 L89.91 582.72 L90.46 581.37 L91.04 580.03 L91.65 578.69 L92.27 577.37 L92.92 576.05 L93.60 574.74 L94.30 573.44 L95.02 572.16 L95.76 570.88 L96.53 569.61 L97.32 568.35 L98.13 567.10 L98.97 565.87 L99.82 564.64" fill="none" stroke="#c6e3d6" stroke-width="4.4" stroke-linecap="round"/>
<path d="M84.38 605.19 L84.22 607.12 L84.10 609.05 L84.03 610.98 L84.00 612.91 L84.02 614.85 L84.09 616.78 L84.20 618.71 L84.37 620.64 L84.57 622.56 L84.83 624.48 L85.13 626.40 L85.48 628.30 L85.87 630.21 L86.31 632.10 L86.80 633.99 L87.33 635.86 L87.90 637.73 L88.52 639.59 L89.19 641.43 L89.90 643.26 L90.65 645.08 L91.45 646.89 L92.29 648.68 L93.18 650.45" fill="none" stroke="#8db8a7" stroke-width="6.5" stroke-linecap="round"/>
<path d="M84.38 605.19 L84.22 607.12 L84.10 609.05 L84.03 610.98 L84.00 612.91 L84.02 614.85 L84.09 616.78 L84.20 618.71 L84.37 620.64 L84.57 622.56 L84.83 624.48 L85.13 626.40 L85.48 628.30 L85.87 630.21 L86.31 632.10 L86.80 633.99 L87.33 635.86 L87.90 637.73 L88.52 639.59 L89.19 641.43 L89.90 643.26 L90.65 645.08 L91.45 646.89 L92.29 648.68 L93.18 650.45" fill="none" stroke="#c6e3d6" stroke-width="4.4" stroke-linecap="round"/>
<path d="M99.25 660.55 L100.45 662.22 L101.68 663.87 L102.95 665.50 L104.26 667.10 L105.61 668.68 L107.00 670.23 L108.43 671.76 L109.90 673.25 L111.40 674.73 L112.94 676.17 L114.51 677.59 L116.12 678.97 L117.76 680.33 L119.43 681.65 L121.14 682.94 L122.88 684.20 L124.65 685.43 L126.44 686.63 L128.27 687.79 L130.13 688.92 L132.01 690.01 L133.92 691.07 L135.85 692.09 L137.81 693.08" fill="none" stroke="#8db8a7" stroke-width="6.5" stroke-linecap="round"/>
<path d="M99.25 660.55 L100.45 662.22 L101.68 663.87 L102.95 665.50 L104.26 667.10 L105.61 668.68 L107.00 670.23 L108.43 671.76 L109.90 673.25 L111.40 674.73 L112.94 676.17 L114.51 677.59 L116.12 678.97 L117.76 680.33 L119.43 681.65 L121.14 682.94 L122.88 684.20 L124.65 685.43 L126.44 686.63 L128.27 687.79 L130.13 688.92 L132.01 690.01 L133.92 691.07 L135.85 692.09 L137.81 693.08" fill="none" stroke="#c6e3d6" stroke-width="4.4" stroke-linecap="round"/>
<path d="M146.03 696.71 L147.71 697.36 L149.41 697.99 L151.13 698.59 L152.85 699.17 L154.59 699.71 L156.33 700.24 L158.09 700.73 L159.86 701.20 L161.63 701.64 L163.42 702.06 L165.21 702.45 L167.01 702.81 L168.82 703.14 L170.63 703.45 L172.45 703.73 L174.27 703.98 L176.10 704.21 L177.94 704.40 L179.77 704.57 L181.61 704.71 L183.46 704.82 L185.30 704.91 L187.15 704.97 L189.00 705.00" fill="none" stroke="#8db8a7" stroke-width="6.5" stroke-linecap="round"/>
<path d="M146.03 696.71 L147.71 697.36 L149.41 697.99 L151.13 698.59 L152.85 699.17 L154.59 699.71 L156.33 700.24 L158.09 700.73 L159.86 701.20 L161.63 701.64 L163.42 702.06 L165.21 702.45 L167.01 702.81 L168.82 703.14 L170.63 703.45 L172.45 703.73 L174.27 703.98 L176.10 704.21 L177.94 704.40 L179.77 704.57 L181.61 704.71 L183.46 704.82 L185.30 704.91 L187.15 704.97 L189.00 705.00" fill="none" stroke="#c6e3d6" stroke-width="4.4" stroke-linecap="round"/>
<path d="M211.01 522.00 L212.50 522.03 L213.99 522.07 L215.48 522.13 L216.97 522.20 L218.46 522.30 L219.95 522.42 L221.43 522.55 L222.91 522.70 L224.39 522.88 L225.86 523.06 L227.34 523.27 L228.80 523.50 L230.27 523.75 L231.73 524.01 L233.19 524.29 L234.64 524.59 L236.08 524.91 L237.52 525.24 L238.96 525.60 L240.39 525.97 L241.81 526.36 L243.23 526.77 L244.64 527.20 L246.04 527.64" fill="none" stroke="#a3bf8a" stroke-width="6.5" stroke-linecap="round"/>
<path d="M211.01 522.00 L212.50 522.03 L213.99 522.07 L215.48 522.13 L216.97 522.20 L218.46 522.30 L219.95 522.42 L221.43 522.55 L222.91 522.70 L224.39 522.88 L225.86 523.06 L227.34 523.27 L228.80 523.50 L230.27 523.75 L231.73 524.01 L233.19 524.29 L234.64 524.59 L236.08 524.91 L237.52 525.24 L238.96 525.60 L240.39 525.97 L241.81 526.36 L243.23 526.77 L244.64 527.20 L246.04 527.64" fill="none" stroke="#d9e8ba" stroke-width="4.4" stroke-linecap="round"/>
<path d="M256.35 531.54 L258.18 532.35 L259.99 533.20 L261.78 534.08 L263.55 534.99 L265.30 535.93 L267.03 536.90 L268.73 537.90 L270.42 538.93 L272.08 539.99 L273.71 541.07 L275.32 542.19 L276.91 543.33 L278.47 544.50 L280.00 545.70 L281.50 546.92 L282.98 548.17 L284.43 549.44 L285.85 550.74 L287.24 552.06 L288.60 553.41 L289.93 554.78 L291.23 556.17 L292.49 557.58 L293.73 559.02" fill="none" stroke="#a3bf8a" stroke-width="6.5" stroke-linecap="round"/>
<path d="M256.35 531.54 L258.18 532.35 L259.99 533.20 L261.78 534.08 L263.55 534.99 L265.30 535.93 L267.03 536.90 L268.73 537.90 L270.42 538.93 L272.08 539.99 L273.71 541.07 L275.32 542.19 L276.91 543.33 L278.47 544.50 L280.00 545.70 L281.50 546.92 L282.98 548.17 L284.43 549.44 L285.85 550.74 L287.24 552.06 L288.60 553.41 L289.93 554.78 L291.23 556.17 L292.49 557.58 L293.73 559.02" fill="none" stroke="#d9e8ba" stroke-width="4.4" stroke-linecap="round"/>
<path d="M297.77 564.19 L298.65 565.42 L299.51 566.66 L300.34 567.92 L301.15 569.18 L301.94 570.46 L302.70 571.75 L303.44 573.05 L304.16 574.36 L304.85 575.68 L305.52 577.00 L306.16 578.34 L306.78 579.69 L307.37 581.04 L307.94 582.40 L308.49 583.77 L309.01 585.15 L309.50 586.54 L309.97 587.93 L310.42 589.32 L310.84 590.73 L311.23 592.14 L311.60 593.55 L311.94 594.97 L312.25 596.40" fill="none" stroke="#a3bf8a" stroke-width="6.5" stroke-linecap="round"/>
<path d="M297.77 564.19 L298.65 565.42 L299.51 566.66 L300.34 567.92 L301.15 569.18 L301.94 570.46 L302.70 571.75 L303.44 573.05 L304.16 574.36 L304.85 575.68 L305.52 577.00 L306.16 578.34 L306.78 579.69 L307.37 581.04 L307.94 582.40 L308.49 583.77 L309.01 585.15 L309.50 586.54 L309.97 587.93 L310.42 589.32 L310.84 590.73 L311.23 592.14 L311.60 593.55 L311.94 594.97 L312.25 596.40" fill="none" stroke="#d9e8ba" stroke-width="4.4" stroke-linecap="round"/>
<path d="M313.85 608.10 L313.94 609.91 L313.99 611.73 L314.00 613.55 L313.96 615.37 L313.89 617.18 L313.77 619.00 L313.62 620.81 L313.42 622.62 L313.18 624.42 L312.90 626.22 L312.57 628.02 L312.21 629.81 L311.81 631.59 L311.36 633.37 L310.88 635.13 L310.35 636.89 L309.79 638.64 L309.18 640.38 L308.54 642.11 L307.85 643.82 L307.13 645.53 L306.37 647.22 L305.57 648.90 L304.73 650.56" fill="none" stroke="#a3bf8a" stroke-width="6.5" stroke-linecap="round"/>
<path d="M313.85 608.10 L313.94 609.91 L313.99 611.73 L314.00 613.55 L313.96 615.37 L313.89 617.18 L313.77 619.00 L313.62 620.81 L313.42 622.62 L313.18 624.42 L312.90 626.22 L312.57 628.02 L312.21 629.81 L311.81 631.59 L311.36 633.37 L310.88 635.13 L310.35 636.89 L309.79 638.64 L309.18 640.38 L308.54 642.11 L307.85 643.82 L307.13 645.53 L306.37 647.22 L305.57 648.90 L304.73 650.56" fill="none" stroke="#d9e8ba" stroke-width="4.4" stroke-linecap="round"/>
<path d="M297.68 661.94 L296.53 663.49 L295.34 665.01 L294.11 666.52 L292.85 668.00 L291.56 669.46 L290.23 670.90 L288.87 672.31 L287.48 673.70 L286.06 675.06 L284.60 676.40 L283.12 677.71 L281.60 679.00 L280.05 680.26 L278.48 681.49 L276.88 682.69 L275.25 683.86 L273.59 685.01 L271.90 686.12 L270.20 687.21 L268.46 688.26 L266.70 689.28 L264.92 690.28 L263.12 691.24 L261.29 692.16" fill="none" stroke="#a3bf8a" stroke-width="6.5" stroke-linecap="round"/>
<path d="M297.68 661.94 L296.53 663.49 L295.34 665.01 L294.11 666.52 L292.85 668.00 L291.56 669.46 L290.23 670.90 L288.87 672.31 L287.48 673.70 L286.06 675.06 L284.60 676.40 L283.12 677.71 L281.60 679.00 L280.05 680.26 L278.48 681.49 L276.88 682.69 L275.25 683.86 L273.59 685.01 L271.90 686.12 L270.20 687.21 L268.46 688.26 L266.70 689.28 L264.92 690.28 L263.12 691.24 L261.29 692.16" fill="none" stroke="#d9e8ba" stroke-width="4.4" stroke-linecap="round"/>
<path d="M252.02 696.24 L250.41 696.85 L248.78 697.44 L247.14 698.00 L245.49 698.54 L243.83 699.05 L242.16 699.54 L240.48 700.00 L238.79 700.44 L237.10 700.86 L235.39 701.25 L233.68 701.61 L231.97 701.95 L230.24 702.26 L228.51 702.55 L226.78 702.81 L225.04 703.04 L223.30 703.25 L221.55 703.44 L219.80 703.60 L218.04 703.73 L216.29 703.83 L214.53 703.91 L212.77 703.97 L211.01 704.00" fill="none" stroke="#a3bf8a" stroke-width="6.5" stroke-linecap="round"/>
<path d="M252.02 696.24 L250.41 696.85 L248.78 697.44 L247.14 698.00 L245.49 698.54 L243.83 699.05 L242.16 699.54 L240.48 700.00 L238.79 700.44 L237.10 700.86 L235.39 701.25 L233.68 701.61 L231.97 701.95 L230.24 702.26 L228.51 702.55 L226.78 702.81 L225.04 703.04 L223.30 703.25 L221.55 703.44 L219.80 703.60 L218.04 703.73 L216.29 703.83 L214.53 703.91 L212.77 703.97 L211.01 704.00" fill="none" stroke="#d9e8ba" stroke-width="4.4" stroke-linecap="round"/>
<line x1="200.00" y1="495.80" x2="200.00" y2="739.00" stroke="#2b9b77" stroke-width="3.0" stroke-dasharray="10.5 9.5"/>
<g>
<path d="M57.80 489.00 C61.00 489.00 61.00 498.62 57.80 499.18" fill="#f7c64a" stroke="#e4a52e" stroke-width="0.4"/>
<rect x="56.20" y="489.00" width="3.20" height="27.50" fill="#f7c64a" stroke="#e4a52e" stroke-width="0.4" rx="1.6"/>
<ellipse cx="57.80" cy="493.95" rx="2.6" ry="4.95" fill="#f7c64a" stroke="#e4a52e" stroke-width="0.4"/>
<ellipse cx="57.80" cy="509.62" rx="2.8" ry="6.60" fill="#f7c64a" stroke="#e4a52e" stroke-width="0.4"/>
<rect x="57.30" y="490.00" width="1.00" height="25.50" fill="#fde8a0" stroke="none" stroke-width="0" rx="0.5"/>
<ellipse cx="53.80" cy="494.50" rx="1.8" ry="2.6" fill="#a7dd7e" stroke="#4f9d3a" stroke-width="0.4"/>
<circle cx="62.30" cy="510.45" r="2.10" fill="#c0141c" stroke="#6d080c" stroke-width="0.5"/>
<circle cx="61.80" cy="510.05" r="0.70" fill="#f08a8a" stroke="none" stroke-width="0.5"/>
</g>
<g>
<path d="M97.50 489.00 C100.70 489.00 100.70 498.62 97.50 499.18" fill="#f7c64a" stroke="#e4a52e" stroke-width="0.4"/>
<rect x="95.90" y="489.00" width="3.20" height="27.50" fill="#f7c64a" stroke="#e4a52e" stroke-width="0.4" rx="1.6"/>
<ellipse cx="97.50" cy="493.95" rx="2.6" ry="4.95" fill="#f7c64a" stroke="#e4a52e" stroke-width="0.4"/>
<ellipse cx="97.50" cy="509.62" rx="2.8" ry="6.60" fill="#f7c64a" stroke="#e4a52e" stroke-width="0.4"/>
<rect x="97.00" y="490.00" width="1.00" height="25.50" fill="#fde8a0" stroke="none" stroke-width="0" rx="0.5"/>
<ellipse cx="93.50" cy="494.50" rx="1.8" ry="2.6" fill="#a7dd7e" stroke="#4f9d3a" stroke-width="0.4"/>
<circle cx="102.00" cy="510.45" r="2.10" fill="#c0141c" stroke="#6d080c" stroke-width="0.5"/>
<circle cx="101.50" cy="510.05" r="0.70" fill="#f08a8a" stroke="none" stroke-width="0.5"/>
</g>
<g>
<path d="M134.90 489.00 C138.10 489.00 138.10 498.62 134.90 499.18" fill="#f7c64a" stroke="#e4a52e" stroke-width="0.4"/>
<rect x="133.30" y="489.00" width="3.20" height="27.50" fill="#f7c64a" stroke="#e4a52e" stroke-width="0.4" rx="1.6"/>
<ellipse cx="134.90" cy="493.95" rx="2.6" ry="4.95" fill="#f7c64a" stroke="#e4a52e" stroke-width="0.4"/>
<ellipse cx="134.90" cy="509.62" rx="2.8" ry="6.60" fill="#f7c64a" stroke="#e4a52e" stroke-width="0.4"/>
<rect x="134.40" y="490.00" width="1.00" height="25.50" fill="#fde8a0" stroke="none" stroke-width="0" rx="0.5"/>
<ellipse cx="130.90" cy="494.50" rx="1.8" ry="2.6" fill="#a7dd7e" stroke="#4f9d3a" stroke-width="0.4"/>
<circle cx="139.40" cy="510.45" r="2.10" fill="#c0141c" stroke="#6d080c" stroke-width="0.5"/>
<circle cx="138.90" cy="510.05" r="0.70" fill="#f08a8a" stroke="none" stroke-width="0.5"/>
</g>
<g>
<rect x="7.80" y="542.40" width="26.20" height="3.20" fill="#f7c64a" stroke="#e4a52e" stroke-width="0.4" rx="1.6"/>
<ellipse cx="11.99" cy="544.00" rx="4.45" ry="2.8" fill="#f7c64a" stroke="#e4a52e" stroke-width="0.4"/>
<ellipse cx="27.19" cy="544.00" rx="6.81" ry="3.0" fill="#f7c64a" stroke="#e4a52e" stroke-width="0.4"/>
<rect x="8.80" y="543.50" width="24.20" height="1.00" fill="#fde8a0" stroke="none" stroke-width="0"/>
<ellipse cx="13.90" cy="548.70" rx="2.6" ry="1.8" fill="#a7dd7e" stroke="#4f9d3a" stroke-width="0.4"/>
<circle cx="26.20" cy="538.50" r="2.10" fill="#c0141c" stroke="#6d080c" stroke-width="0.5"/>
<circle cx="25.70" cy="538.10" r="0.70" fill="#f08a8a" stroke="none" stroke-width="0.5"/>
</g>
<g>
<rect x="7.80" y="568.50" width="26.20" height="3.20" fill="#f7c64a" stroke="#e4a52e" stroke-width="0.4" rx="1.6"/>
<ellipse cx="11.99" cy="570.10" rx="4.45" ry="2.8" fill="#f7c64a" stroke="#e4a52e" stroke-width="0.4"/>
<ellipse cx="27.19" cy="570.10" rx="6.81" ry="3.0" fill="#f7c64a" stroke="#e4a52e" stroke-width="0.4"/>
<rect x="8.80" y="569.60" width="24.20" height="1.00" fill="#fde8a0" stroke="none" stroke-width="0"/>
<ellipse cx="13.90" cy="574.80" rx="2.6" ry="1.8" fill="#a7dd7e" stroke="#4f9d3a" stroke-width="0.4"/>
<circle cx="26.20" cy="564.60" r="2.10" fill="#c0141c" stroke="#6d080c" stroke-width="0.5"/>
<circle cx="25.70" cy="564.20" r="0.70" fill="#f08a8a" stroke="none" stroke-width="0.5"/>
</g>
<g>
<rect x="7.80" y="590.00" width="26.20" height="3.20" fill="#f7c64a" stroke="#e4a52e" stroke-width="0.4" rx="1.6"/>
<ellipse cx="11.99" cy="591.60" rx="4.45" ry="2.8" fill="#f7c64a" stroke="#e4a52e" stroke-width="0.4"/>
<ellipse cx="27.19" cy="591.60" rx="6.81" ry="3.0" fill="#f7c64a" stroke="#e4a52e" stroke-width="0.4"/>
<rect x="8.80" y="591.10" width="24.20" height="1.00" fill="#fde8a0" stroke="none" stroke-width="0"/>
<ellipse cx="13.90" cy="596.30" rx="2.6" ry="1.8" fill="#a7dd7e" stroke="#4f9d3a" stroke-width="0.4"/>
<circle cx="26.20" cy="586.10" r="2.10" fill="#c0141c" stroke="#6d080c" stroke-width="0.5"/>
<circle cx="25.70" cy="585.70" r="0.70" fill="#f08a8a" stroke="none" stroke-width="0.5"/>
</g>
<g>
<rect x="7.80" y="609.60" width="26.20" height="3.20" fill="#f7c64a" stroke="#e4a52e" stroke-width="0.4" rx="1.6"/>
<ellipse cx="11.99" cy="611.20" rx="4.45" ry="2.8" fill="#f7c64a" stroke="#e4a52e" stroke-width="0.4"/>
<ellipse cx="27.19" cy="611.20" rx="6.81" ry="3.0" fill="#f7c64a" stroke="#e4a52e" stroke-width="0.4"/>
<rect x="8.80" y="610.70" width="24.20" height="1.00" fill="#fde8a0" stroke="none" stroke-width="0"/>
<ellipse cx="13.90" cy="615.90" rx="2.6" ry="1.8" fill="#a7dd7e" stroke="#4f9d3a" stroke-width="0.4"/>
<circle cx="26.20" cy="605.70" r="2.10" fill="#c0141c" stroke="#6d080c" stroke-width="0.5"/>
<circle cx="25.70" cy="605.30" r="0.70" fill="#f08a8a" stroke="none" stroke-width="0.5"/>
</g>
<g>
<rect x="7.80" y="644.40" width="26.20" height="3.20" fill="#f7c64a" stroke="#e4a52e" stroke-width="0.4" rx="1.6"/>
<ellipse cx="11.99" cy="646.00" rx="4.45" ry="2.8" fill="#f7c64a" stroke="#e4a52e" stroke-width="0.4"/>
<ellipse cx="27.19" cy="646.00" rx="6.81" ry="3.0" fill="#f7c64a" stroke="#e4a52e" stroke-width="0.4"/>
<rect x="8.80" y="645.50" width="24.20" height="1.00" fill="#fde8a0" stroke="none" stroke-width="0"/>
<ellipse cx="13.90" cy="650.70" rx="2.6" ry="1.8" fill="#a7dd7e" stroke="#4f9d3a" stroke-width="0.4"/>
<circle cx="26.20" cy="640.50" r="2.10" fill="#c0141c" stroke="#6d080c" stroke-width="0.5"/>
<circle cx="25.70" cy="640.10" r="0.70" fill="#f08a8a" stroke="none" stroke-width="0.5"/>
</g>
<g>
<rect x="7.80" y="676.90" width="26.20" height="3.20" fill="#f7c64a" stroke="#e4a52e" stroke-width="0.4" rx="1.6"/>
<ellipse cx="11.99" cy="678.50" rx="4.45" ry="2.8" fill="#f7c64a" stroke="#e4a52e" stroke-width="0.4"/>
<ellipse cx="27.19" cy="678.50" rx="6.81" ry="3.0" fill="#f7c64a" stroke="#e4a52e" stroke-width="0.4"/>
<rect x="8.80" y="678.00" width="24.20" height="1.00" fill="#fde8a0" stroke="none" stroke-width="0"/>
<ellipse cx="13.90" cy="683.20" rx="2.6" ry="1.8" fill="#a7dd7e" stroke="#4f9d3a" stroke-width="0.4"/>
<circle cx="26.20" cy="673.00" r="2.10" fill="#c0141c" stroke="#6d080c" stroke-width="0.5"/>
<circle cx="25.70" cy="672.60" r="0.70" fill="#f08a8a" stroke="none" stroke-width="0.5"/>
</g>
<g>
<path d="M66.60 712.50 C69.80 712.50 69.80 722.48 66.60 723.04" fill="#f7c64a" stroke="#e4a52e" stroke-width="0.4"/>
<rect x="65.00" y="712.50" width="3.20" height="28.50" fill="#f7c64a" stroke="#e4a52e" stroke-width="0.4" rx="1.6"/>
<ellipse cx="66.60" cy="717.63" rx="2.6" ry="5.13" fill="#f7c64a" stroke="#e4a52e" stroke-width="0.4"/>
<ellipse cx="66.60" cy="733.88" rx="2.8" ry="6.84" fill="#f7c64a" stroke="#e4a52e" stroke-width="0.4"/>
<rect x="66.10" y="713.50" width="1.00" height="26.50" fill="#fde8a0" stroke="none" stroke-width="0" rx="0.5"/>
<ellipse cx="70.60" cy="734.73" rx="1.8" ry="2.6" fill="#a7dd7e" stroke="#4f9d3a" stroke-width="0.4"/>
<circle cx="62.10" cy="719.62" r="2.10" fill="#c0141c" stroke="#6d080c" stroke-width="0.5"/>
<circle cx="61.60" cy="719.23" r="0.70" fill="#f08a8a" stroke="none" stroke-width="0.5"/>
</g>
<g>
<path d="M146.00 712.50 C149.20 712.50 149.20 722.48 146.00 723.04" fill="#f7c64a" stroke="#e4a52e" stroke-width="0.4"/>
<rect x="144.40" y="712.50" width="3.20" height="28.50" fill="#f7c64a" stroke="#e4a52e" stroke-width="0.4" rx="1.6"/>
<ellipse cx="146.00" cy="717.63" rx="2.6" ry="5.13" fill="#f7c64a" stroke="#e4a52e" stroke-width="0.4"/>
<ellipse cx="146.00" cy="733.88" rx="2.8" ry="6.84" fill="#f7c64a" stroke="#e4a52e" stroke-width="0.4"/>
<rect x="145.50" y="713.50" width="1.00" height="26.50" fill="#fde8a0" stroke="none" stroke-width="0" rx="0.5"/>
<ellipse cx="150.00" cy="734.73" rx="1.8" ry="2.6" fill="#a7dd7e" stroke="#4f9d3a" stroke-width="0.4"/>
<circle cx="141.50" cy="719.62" r="2.10" fill="#c0141c" stroke="#6d080c" stroke-width="0.5"/>
<circle cx="141.00" cy="719.23" r="0.70" fill="#f08a8a" stroke="none" stroke-width="0.5"/>
</g>
<g>
<path d="M174.60 712.50 C177.80 712.50 177.80 722.48 174.60 723.04" fill="#f7c64a" stroke="#e4a52e" stroke-width="0.4"/>
<rect x="173.00" y="712.50" width="3.20" height="28.50" fill="#f7c64a" stroke="#e4a52e" stroke-width="0.4" rx="1.6"/>
<ellipse cx="174.60" cy="717.63" rx="2.6" ry="5.13" fill="#f7c64a" stroke="#e4a52e" stroke-width="0.4"/>
<ellipse cx="174.60" cy="733.88" rx="2.8" ry="6.84" fill="#f7c64a" stroke="#e4a52e" stroke-width="0.4"/>
<rect x="174.10" y="713.50" width="1.00" height="26.50" fill="#fde8a0" stroke="none" stroke-width="0" rx="0.5"/>
<ellipse cx="178.60" cy="734.73" rx="1.8" ry="2.6" fill="#a7dd7e" stroke="#4f9d3a" stroke-width="0.4"/>
<circle cx="170.10" cy="719.62" r="2.10" fill="#c0141c" stroke="#6d080c" stroke-width="0.5"/>
<circle cx="169.60" cy="719.23" r="0.70" fill="#f08a8a" stroke="none" stroke-width="0.5"/>
</g>
<g>
<path d="M313.30 486.60 C316.50 486.60 316.50 495.84 313.30 496.37" fill="#f7c64a" stroke="#e4a52e" stroke-width="0.4"/>
<rect x="311.70" y="486.60" width="3.20" height="26.40" fill="#f7c64a" stroke="#e4a52e" stroke-width="0.4" rx="1.6"/>
<ellipse cx="313.30" cy="491.35" rx="2.6" ry="4.75" fill="#f7c64a" stroke="#e4a52e" stroke-width="0.4"/>
<ellipse cx="313.30" cy="506.40" rx="2.8" ry="6.34" fill="#f7c64a" stroke="#e4a52e" stroke-width="0.4"/>
<rect x="312.80" y="487.60" width="1.00" height="24.40" fill="#fde8a0" stroke="none" stroke-width="0" rx="0.5"/>
<ellipse cx="309.30" cy="491.88" rx="1.8" ry="2.6" fill="#a7dd7e" stroke="#4f9d3a" stroke-width="0.4"/>
<circle cx="317.80" cy="507.19" r="2.10" fill="#c0141c" stroke="#6d080c" stroke-width="0.5"/>
<circle cx="317.30" cy="506.79" r="0.70" fill="#f08a8a" stroke="none" stroke-width="0.5"/>
</g>
<g>
<path d="M272.80 712.50 C276.00 712.50 276.00 722.12 272.80 722.67" fill="#f7c64a" stroke="#e4a52e" stroke-width="0.4"/>
<rect x="271.20" y="712.50" width="3.20" height="27.50" fill="#f7c64a" stroke="#e4a52e" stroke-width="0.4" rx="1.6"/>
<ellipse cx="272.80" cy="717.45" rx="2.6" ry="4.95" fill="#f7c64a" stroke="#e4a52e" stroke-width="0.4"/>
<ellipse cx="272.80" cy="733.12" rx="2.8" ry="6.60" fill="#f7c64a" stroke="#e4a52e" stroke-width="0.4"/>
<rect x="272.30" y="713.50" width="1.00" height="25.50" fill="#fde8a0" stroke="none" stroke-width="0" rx="0.5"/>
<ellipse cx="276.80" cy="733.95" rx="1.8" ry="2.6" fill="#a7dd7e" stroke="#4f9d3a" stroke-width="0.4"/>
<circle cx="268.30" cy="719.38" r="2.10" fill="#c0141c" stroke="#6d080c" stroke-width="0.5"/>
<circle cx="267.80" cy="718.98" r="0.70" fill="#f08a8a" stroke="none" stroke-width="0.5"/>
</g>
<g>
<rect x="370.00" y="645.40" width="22.50" height="3.20" fill="#f7c64a" stroke="#e4a52e" stroke-width="0.4" rx="1.6"/>
<ellipse cx="373.60" cy="647.00" rx="3.83" ry="2.8" fill="#f7c64a" stroke="#e4a52e" stroke-width="0.4"/>
<ellipse cx="386.65" cy="647.00" rx="5.85" ry="3.0" fill="#f7c64a" stroke="#e4a52e" stroke-width="0.4"/>
<rect x="371.00" y="646.50" width="20.50" height="1.00" fill="#fde8a0" stroke="none" stroke-width="0"/>
<ellipse cx="386.20" cy="643.00" rx="2.6" ry="1.8" fill="#a7dd7e" stroke="#4f9d3a" stroke-width="0.4"/>
<circle cx="373.30" cy="652.30" r="2.10" fill="#c0141c" stroke="#6d080c" stroke-width="0.5"/>
<circle cx="372.80" cy="651.90" r="0.70" fill="#f08a8a" stroke="none" stroke-width="0.5"/>
</g>
<circle cx="76.20" cy="532.60" r="6.90" fill="#b5d6c6" stroke="none" stroke-width="0.5" opacity="0.55"/>
<circle cx="75.30" cy="531.50" r="6.10" fill="#f1f9f5" stroke="#a3d2ca" stroke-width="1.0"/>
<g transform="translate(75.30 531.50) rotate(0)">
<ellipse cx="0" cy="1.8" rx="1.7" ry="3.0" fill="#f7c64a" stroke="#e4a52e" stroke-width="0.3"/>
<rect x="-0.9" y="-8.5" width="1.8" height="10" rx="0.9" fill="#f7c64a" stroke="#e4a52e" stroke-width="0.3"/>
<ellipse cx="0" cy="-6.8" rx="1.4" ry="2.2" fill="#f7c64a" stroke="#e4a52e" stroke-width="0.3"/>
<ellipse cx="-1.9" cy="-5.2" rx="0.9" ry="1.4" fill="#a7dd7e" stroke="#4f9d3a" stroke-width="0.3"/>
</g>
<circle cx="49.10" cy="549.50" r="6.90" fill="#b5d6c6" stroke="none" stroke-width="0.5" opacity="0.55"/>
<circle cx="48.20" cy="548.40" r="6.10" fill="#f1f9f5" stroke="#a3d2ca" stroke-width="1.0"/>
<g transform="translate(48.20 548.40) rotate(-55)">
<ellipse cx="0" cy="1.8" rx="1.7" ry="3.0" fill="#f7c64a" stroke="#e4a52e" stroke-width="0.3"/>
<rect x="-0.9" y="-8.5" width="1.8" height="10" rx="0.9" fill="#f7c64a" stroke="#e4a52e" stroke-width="0.3"/>
<ellipse cx="0" cy="-6.8" rx="1.4" ry="2.2" fill="#f7c64a" stroke="#e4a52e" stroke-width="0.3"/>
<ellipse cx="-1.9" cy="-5.2" rx="0.9" ry="1.4" fill="#a7dd7e" stroke="#4f9d3a" stroke-width="0.3"/>
</g>
<circle cx="71.00" cy="572.90" r="6.90" fill="#b5d6c6" stroke="none" stroke-width="0.5" opacity="0.55"/>
<circle cx="70.10" cy="571.80" r="6.10" fill="#f1f9f5" stroke="#a3d2ca" stroke-width="1.0"/>
<g transform="translate(70.10 571.80) rotate(-130)">
<ellipse cx="0" cy="1.8" rx="1.7" ry="3.0" fill="#f7c64a" stroke="#e4a52e" stroke-width="0.3"/>
<rect x="-0.9" y="-8.5" width="1.8" height="10" rx="0.9" fill="#f7c64a" stroke="#e4a52e" stroke-width="0.3"/>
<ellipse cx="0" cy="-6.8" rx="1.4" ry="2.2" fill="#f7c64a" stroke="#e4a52e" stroke-width="0.3"/>
<ellipse cx="-1.9" cy="-5.2" rx="0.9" ry="1.4" fill="#a7dd7e" stroke="#4f9d3a" stroke-width="0.3"/>
</g>
<circle cx="46.20" cy="625.40" r="6.90" fill="#b5d6c6" stroke="none" stroke-width="0.5" opacity="0.55"/>
<circle cx="45.30" cy="624.30" r="6.10" fill="#f1f9f5" stroke="#a3d2ca" stroke-width="1.0"/>
<g transform="translate(45.30 624.30) rotate(-120)">
<ellipse cx="0" cy="1.8" rx="1.7" ry="3.0" fill="#f7c64a" stroke="#e4a52e" stroke-width="0.3"/>
<rect x="-0.9" y="-8.5" width="1.8" height="10" rx="0.9" fill="#f7c64a" stroke="#e4a52e" stroke-width="0.3"/>
<ellipse cx="0" cy="-6.8" rx="1.4" ry="2.2" fill="#f7c64a" stroke="#e4a52e" stroke-width="0.3"/>
<ellipse cx="-1.9" cy="-5.2" rx="0.9" ry="1.4" fill="#a7dd7e" stroke="#4f9d3a" stroke-width="0.3"/>
</g>
<circle cx="35.20" cy="663.40" r="6.90" fill="#b5d6c6" stroke="none" stroke-width="0.5" opacity="0.55"/>
<circle cx="34.30" cy="662.30" r="6.10" fill="#f1f9f5" stroke="#a3d2ca" stroke-width="1.0"/>
<g transform="translate(34.30 662.30) rotate(180)">
<ellipse cx="0" cy="1.8" rx="1.7" ry="3.0" fill="#f7c64a" stroke="#e4a52e" stroke-width="0.3"/>
<rect x="-0.9" y="-8.5" width="1.8" height="10" rx="0.9" fill="#f7c64a" stroke="#e4a52e" stroke-width="0.3"/>
<ellipse cx="0" cy="-6.8" rx="1.4" ry="2.2" fill="#f7c64a" stroke="#e4a52e" stroke-width="0.3"/>
<ellipse cx="-1.9" cy="-5.2" rx="0.9" ry="1.4" fill="#a7dd7e" stroke="#4f9d3a" stroke-width="0.3"/>
</g>
<circle cx="49.70" cy="676.70" r="6.90" fill="#b5d6c6" stroke="none" stroke-width="0.5" opacity="0.55"/>
<circle cx="48.80" cy="675.60" r="6.10" fill="#f1f9f5" stroke="#a3d2ca" stroke-width="1.0"/>
<g transform="translate(48.80 675.60) rotate(180)">
<ellipse cx="0" cy="1.8" rx="1.7" ry="3.0" fill="#f7c64a" stroke="#e4a52e" stroke-width="0.3"/>
<rect x="-0.9" y="-8.5" width="1.8" height="10" rx="0.9" fill="#f7c64a" stroke="#e4a52e" stroke-width="0.3"/>
<ellipse cx="0" cy="-6.8" rx="1.4" ry="2.2" fill="#f7c64a" stroke="#e4a52e" stroke-width="0.3"/>
<ellipse cx="-1.9" cy="-5.2" rx="0.9" ry="1.4" fill="#a7dd7e" stroke="#4f9d3a" stroke-width="0.3"/>
</g>
<circle cx="40.90" cy="710.10" r="6.90" fill="#b5d6c6" stroke="none" stroke-width="0.5" opacity="0.55"/>
<circle cx="40.00" cy="709.00" r="6.10" fill="#f1f9f5" stroke="#a3d2ca" stroke-width="1.0"/>
<g transform="translate(40.00 709.00) rotate(180)">
<ellipse cx="0" cy="1.8" rx="1.7" ry="3.0" fill="#f7c64a" stroke="#e4a52e" stroke-width="0.3"/>
<rect x="-0.9" y="-8.5" width="1.8" height="10" rx="0.9" fill="#f7c64a" stroke="#e4a52e" stroke-width="0.3"/>
<ellipse cx="0" cy="-6.8" rx="1.4" ry="2.2" fill="#f7c64a" stroke="#e4a52e" stroke-width="0.3"/>
<ellipse cx="-1.9" cy="-5.2" rx="0.9" ry="1.4" fill="#a7dd7e" stroke="#4f9d3a" stroke-width="0.3"/>
</g>
<circle cx="123.90" cy="714.50" r="6.90" fill="#b5d6c6" stroke="none" stroke-width="0.5" opacity="0.55"/>
<circle cx="123.00" cy="713.40" r="6.10" fill="#f1f9f5" stroke="#a3d2ca" stroke-width="1.0"/>
<g transform="translate(123.00 713.40) rotate(180)">
<ellipse cx="0" cy="1.8" rx="1.7" ry="3.0" fill="#f7c64a" stroke="#e4a52e" stroke-width="0.3"/>
<rect x="-0.9" y="-8.5" width="1.8" height="10" rx="0.9" fill="#f7c64a" stroke="#e4a52e" stroke-width="0.3"/>
<ellipse cx="0" cy="-6.8" rx="1.4" ry="2.2" fill="#f7c64a" stroke="#e4a52e" stroke-width="0.3"/>
<ellipse cx="-1.9" cy="-5.2" rx="0.9" ry="1.4" fill="#a7dd7e" stroke="#4f9d3a" stroke-width="0.3"/>
</g>
<circle cx="358.90" cy="623.60" r="6.90" fill="#b5d6c6" stroke="none" stroke-width="0.5" opacity="0.55"/>
<circle cx="358.00" cy="622.50" r="6.10" fill="#f1f9f5" stroke="#a3d2ca" stroke-width="1.0"/>
<g transform="translate(358.00 622.50) rotate(115)">
<ellipse cx="0" cy="1.8" rx="1.7" ry="3.0" fill="#f7c64a" stroke="#e4a52e" stroke-width="0.3"/>
<rect x="-0.9" y="-8.5" width="1.8" height="10" rx="0.9" fill="#f7c64a" stroke="#e4a52e" stroke-width="0.3"/>
<ellipse cx="0" cy="-6.8" rx="1.4" ry="2.2" fill="#f7c64a" stroke="#e4a52e" stroke-width="0.3"/>
<ellipse cx="-1.9" cy="-5.2" rx="0.9" ry="1.4" fill="#a7dd7e" stroke="#4f9d3a" stroke-width="0.3"/>
</g>
<circle cx="352.80" cy="675.40" r="6.90" fill="#b5d6c6" stroke="none" stroke-width="0.5" opacity="0.55"/>
<circle cx="351.90" cy="674.30" r="6.10" fill="#f1f9f5" stroke="#a3d2ca" stroke-width="1.0"/>
<g transform="translate(351.90 674.30) rotate(180)">
<ellipse cx="0" cy="1.8" rx="1.7" ry="3.0" fill="#f7c64a" stroke="#e4a52e" stroke-width="0.3"/>
<rect x="-0.9" y="-8.5" width="1.8" height="10" rx="0.9" fill="#f7c64a" stroke="#e4a52e" stroke-width="0.3"/>
<ellipse cx="0" cy="-6.8" rx="1.4" ry="2.2" fill="#f7c64a" stroke="#e4a52e" stroke-width="0.3"/>
<ellipse cx="-1.9" cy="-5.2" rx="0.9" ry="1.4" fill="#a7dd7e" stroke="#4f9d3a" stroke-width="0.3"/>
</g>
<ellipse cx="154.90" cy="548.30" rx="19.20" ry="9.90" fill="url(#orng)" stroke="#c65a1e" stroke-width="1.2"/>
<ellipse cx="157.10" cy="578.00" rx="19.60" ry="10.70" fill="url(#orng)" stroke="#c65a1e" stroke-width="1.2"/>
<ellipse cx="242.40" cy="549.30" rx="19.20" ry="9.90" fill="url(#orng)" stroke="#c65a1e" stroke-width="1.2"/>
<text x="154.90" y="551.60" font-size="8.8" text-anchor="middle" fill="#2b1d14" textLength="31.1" lengthAdjust="spacingAndGlyphs">bHLH57</text>
<text x="157.10" y="578.00" font-size="8.8" text-anchor="middle" fill="#2b1d14" textLength="31.1" lengthAdjust="spacingAndGlyphs">bHLH57</text>
<text x="242.40" y="552.60" font-size="8.8" text-anchor="middle" fill="#2b1d14" textLength="31.1" lengthAdjust="spacingAndGlyphs">bHLH57</text>
<rect x="151.80" y="587.00" width="2.60" height="7.50" fill="#2f5f2a" stroke="none" stroke-width="0.5"/>
<ellipse cx="153" cy="584.8" rx="10.6" ry="3.7" fill="#2f5f2a" stroke="#1e4019" stroke-width="0.4"/>
<text x="153.00" y="586.00" font-size="3.4" text-anchor="middle" fill="#a8d59a">CACGTG</text>
<path d="M95.80 603.87 L96.30 602.53 L96.80 600.47 L97.31 598.17 L97.81 596.20 L98.31 595.01 L98.81 594.89 L99.32 595.87 L99.82 597.72 L100.32 599.99 L100.83 602.15 L101.33 603.67 L101.83 604.20 L102.33 603.61 L102.83 602.04 L103.34 599.86 L103.84 597.60 L104.34 595.79 L104.84 594.87 L105.35 595.05 L105.85 596.29 L106.35 598.30 L106.86 600.59 L107.36 602.63 L107.86 603.92 L108.36 604.15 L108.86 603.28 L109.37 601.50 L109.87 599.25 L110.37 597.06 L110.88 595.45 L111.38 594.80 L111.88 595.28 L112.38 596.76 L112.88 598.90 L113.39 601.18 L113.89 603.06 L114.39 604.09 L114.89 604.02 L115.40 602.88 L115.90 600.93 L116.40 598.64 L116.91 596.56 L117.41 595.17 L117.91 594.82 L118.41 595.58 L118.91 597.28 L119.42 599.51 L119.92 601.73 L120.42 603.42 L120.92 604.18 L121.43 603.82 L121.93 602.43 L122.43 600.34 L122.94 598.05 L123.44 596.11 L123.94 594.97 L124.44 594.92 L124.94 595.95 L125.45 597.84 L125.95 600.12 L126.45 602.25 L126.95 603.73 L127.46 604.20 L127.96 603.55 L128.46 601.93 L128.97 599.74 L129.47 597.48 L129.97 595.71 L130.47 594.85 L130.97 595.09 L131.48 596.38 L131.98 598.42 L132.48 600.72 L132.99 602.72 L133.49 603.96 L133.99 604.13 L134.49 603.20 L135.00 601.39 L135.50 599.12 L136.00 596.95" fill="none" stroke="#7bb8b0" stroke-width="1.85"/>
<path d="M95.80 599.50 L96.30 601.73 L96.80 603.42 L97.31 604.18 L97.81 603.82 L98.31 602.44 L98.81 600.35 L99.32 598.06 L99.82 596.11 L100.32 594.97 L100.83 594.91 L101.33 595.95 L101.83 597.83 L102.33 600.11 L102.83 602.24 L103.34 603.72 L103.84 604.20 L104.34 603.55 L104.84 601.94 L105.35 599.74 L105.85 597.49 L106.35 595.72 L106.86 594.85 L107.36 595.09 L107.86 596.38 L108.36 598.41 L108.86 600.71 L109.37 602.72 L109.87 603.96 L110.37 604.13 L110.88 603.21 L111.38 601.39 L111.88 599.13 L112.38 596.96 L112.88 595.39 L113.39 594.80 L113.89 595.33 L114.39 596.86 L114.89 599.02 L115.40 601.29 L115.90 603.13 L116.40 604.11 L116.91 603.99 L117.41 602.80 L117.91 600.82 L118.41 598.53 L118.91 596.47 L119.42 595.13 L119.92 594.83 L120.42 595.65 L120.92 597.39 L121.43 599.63 L121.93 601.84 L122.43 603.49 L122.94 604.19 L123.44 603.77 L123.94 602.34 L124.44 600.22 L124.94 597.94 L125.45 596.03 L125.95 594.94 L126.45 594.94 L126.95 596.03 L127.46 597.95 L127.96 600.24 L128.46 602.35 L128.97 603.78 L129.47 604.19 L129.97 603.48 L130.47 601.83 L130.97 599.62 L131.48 597.38 L131.98 595.64 L132.48 594.83 L132.99 595.13 L133.49 596.47 L133.99 598.54 L134.49 600.83 L135.00 602.81 L135.50 603.99 L136.00 604.11" fill="none" stroke="#3f8f88" stroke-width="1.85"/>
<path d="M136.00 596.95 L136.50 595.39 L137.00 594.80 L137.50 595.32 L138.00 596.83 L138.50 598.97 L139.00 601.23 L139.50 603.09 L140.00 604.09 L140.50 604.02 L141.00 602.88 L141.50 600.93 L142.00 598.66 L142.50 596.58 L143.00 595.19 L143.50 594.82 L144.00 595.55 L144.50 597.22 L145.00 599.43 L145.50 601.65 L146.00 603.37" fill="none" stroke="#c0a2a2" stroke-width="1.85"/>
<path d="M136.00 604.11 L136.50 603.13 L137.00 601.30 L137.50 599.04 L138.00 596.89 L138.50 595.35 L139.00 594.80 L139.50 595.35 L140.00 596.89 L140.50 599.04 L141.00 601.30 L141.50 603.13 L142.00 604.11 L142.50 604.00 L143.00 602.82 L143.50 600.86 L144.00 598.58 L144.50 596.52 L145.00 595.16 L145.50 594.82 L146.00 595.59" fill="none" stroke="#8a6666" stroke-width="1.85"/>
<path d="M146.00 603.37 L146.50 604.17 L147.00 603.87 L147.50 602.54 L148.00 600.49 L148.50 598.21 L149.00 596.23 L149.50 595.02 L150.00 594.88 L150.50 595.82 L151.00 597.63 L151.50 599.89 L152.00 602.05 L152.50 603.61 L153.00 604.20 L153.50 603.68 L154.00 602.17 L154.50 600.03" fill="none" stroke="#ff8a80" stroke-width="1.85"/>
<path d="M146.00 595.59 L146.50 597.28 L147.00 599.50 L147.50 601.72 L148.00 603.41 L148.50 604.18 L149.00 603.84 L149.50 602.48 L150.00 600.42 L150.50 598.14 L151.00 596.18 L151.50 595.00 L152.00 594.89 L152.50 595.87 L153.00 597.70 L153.50 599.96 L154.00 602.11 L154.50 603.65" fill="none" stroke="#ff3a2e" stroke-width="1.85"/>
<path d="M154.50 600.03 L155.00 597.77 L155.50 595.91 L156.00 594.91 L156.50 594.98 L157.00 596.12 L157.50 598.07 L158.00 600.34 L158.50 602.42 L159.00 603.81 L159.50 604.18 L160.00 603.45 L160.50 601.78 L161.00 599.57 L161.50 597.35 L162.00 595.63 L162.50 594.83 L163.00 595.13 L163.50 596.46 L164.00 598.51 L164.50 600.79 L165.00 602.77 L165.50 603.98 L166.00 604.12 L166.50 603.18 L167.00 601.37 L167.50 599.11 L168.00 596.95 L168.50 595.39 L169.00 594.80 L169.50 595.32 L170.00 596.83 L170.50 598.97 L171.00 601.23 L171.50 603.09 L172.00 604.09 L172.50 604.02 L173.00 602.88 L173.50 600.93 L174.00 598.66 L174.50 596.58 L175.00 595.19 L175.50 594.82 L176.00 595.55 L176.50 597.22 L177.00 599.43 L177.50 601.65 L178.00 603.37 L178.50 604.17 L179.00 603.87 L179.50 602.54 L180.00 600.49 L180.50 598.21 L181.00 596.23 L181.50 595.02 L182.00 594.88 L182.50 595.82 L183.00 597.63 L183.50 599.89 L184.00 602.05 L184.50 603.61 L185.00 604.20" fill="none" stroke="#c0a2a2" stroke-width="1.85"/>
<path d="M154.50 603.65 L155.00 604.20 L155.50 603.65 L156.00 602.11 L156.50 599.96 L157.00 597.70 L157.50 595.87 L158.00 594.89 L158.50 595.00 L159.00 596.18 L159.50 598.14 L160.00 600.42 L160.50 602.48 L161.00 603.84 L161.50 604.18 L162.00 603.41 L162.50 601.72 L163.00 599.50 L163.50 597.28 L164.00 595.59 L164.50 594.82 L165.00 595.16 L165.50 596.52 L166.00 598.58 L166.50 600.86 L167.00 602.82 L167.50 604.00 L168.00 604.11 L168.50 603.13 L169.00 601.30 L169.50 599.04 L170.00 596.89 L170.50 595.35 L171.00 594.80 L171.50 595.35 L172.00 596.89 L172.50 599.04 L173.00 601.30 L173.50 603.13 L174.00 604.11 L174.50 604.00 L175.00 602.82 L175.50 600.86 L176.00 598.58 L176.50 596.52 L177.00 595.16 L177.50 594.82 L178.00 595.59 L178.50 597.28 L179.00 599.50 L179.50 601.72 L180.00 603.41 L180.50 604.18 L181.00 603.84 L181.50 602.48 L182.00 600.42 L182.50 598.14 L183.00 596.18 L183.50 595.00 L184.00 594.89 L184.50 595.87 L185.00 597.70" fill="none" stroke="#8a6666" stroke-width="1.85"/>
<path d="M103.20 660.87 L103.70 659.53 L104.21 657.46 L104.71 655.16 L105.22 653.18 L105.72 652.00 L106.22 651.90 L106.73 652.90 L107.23 654.76 L107.73 657.04 L108.24 659.19 L108.74 660.70 L109.25 661.20 L109.75 660.57 L110.25 658.97 L110.76 656.78 L111.26 654.52 L111.76 652.73 L112.27 651.85 L112.77 652.08 L113.28 653.37 L113.78 655.42 L114.28 657.72 L114.79 659.72 L115.29 660.96 L115.79 661.13 L116.30 660.19 L116.80 658.36 L117.31 656.09 L117.81 653.92 L118.31 652.36 L118.82 651.80 L119.32 652.36 L119.82 653.92 L120.33 656.09 L120.83 658.36 L121.34 660.19 L121.84 661.13 L122.34 660.96 L122.85 659.72 L123.35 657.71 L123.85 655.41 L124.36 653.37 L124.86 652.08 L125.37 651.85 L125.87 652.73 L126.37 654.52 L126.88 656.78 L127.38 658.97 L127.88 660.57 L128.39 661.20 L128.89 660.70 L129.40 659.19 L129.90 657.04 L130.40 654.76 L130.91 652.90 L131.41 651.90 L131.91 652.00 L132.42 653.18 L132.92 655.16 L133.43 657.46 L133.93 659.53 L134.43 660.87 L134.94 661.17 L135.44 660.35 L135.94 658.60 L136.45 656.35 L136.95 654.14 L137.45 652.50 L137.96 651.81 L138.46 652.24 L138.97 653.70 L139.47 655.83 L139.97 658.12 L140.48 660.02 L140.98 661.08 L141.49 661.04 L141.99 659.91 L142.49 657.97 L143.00 655.67 L143.50 653.58" fill="none" stroke="#93b7e3" stroke-width="1.85"/>
<path d="M103.20 656.50 L103.70 658.73 L104.21 660.43 L104.71 661.18 L105.22 660.82 L105.72 659.41 L106.22 657.31 L106.73 655.02 L107.23 653.08 L107.73 651.96 L108.24 651.93 L108.74 652.99 L109.25 654.89 L109.75 657.18 L110.25 659.31 L110.76 660.76 L111.26 661.19 L111.76 660.50 L112.27 658.85 L112.77 656.63 L113.28 654.39 L113.78 652.65 L114.28 651.83 L114.79 652.13 L115.29 653.48 L115.79 655.55 L116.30 657.85 L116.80 659.83 L117.31 661.00 L117.81 661.10 L118.31 660.10 L118.82 658.23 L119.32 655.95 L119.82 653.80 L120.33 652.30 L120.83 651.80 L121.34 652.43 L121.84 654.04 L122.34 656.23 L122.85 658.49 L123.35 660.28 L123.85 661.15 L124.36 660.91 L124.86 659.62 L125.37 657.57 L125.87 655.27 L126.37 653.27 L126.88 652.04 L127.38 651.87 L127.88 652.82 L128.39 654.65 L128.89 656.92 L129.40 659.09 L129.90 660.64 L130.40 661.20 L130.91 660.63 L131.41 659.07 L131.91 656.90 L132.42 654.63 L132.92 652.81 L133.43 651.87 L133.93 652.04 L134.43 653.28 L134.94 655.30 L135.44 657.60 L135.94 659.63 L136.45 660.92 L136.95 661.15 L137.45 660.26 L137.96 658.47 L138.46 656.21 L138.97 654.02 L139.47 652.42 L139.97 651.80 L140.48 652.31 L140.98 653.82 L141.49 655.97 L141.99 658.25 L142.49 660.11 L143.00 661.11 L143.50 661.00" fill="none" stroke="#4a7fc4" stroke-width="1.85"/>
<path d="M143.50 653.58 L144.00 652.18 L144.50 651.82 L145.00 652.56 L145.51 654.24 L146.01 656.46 L146.51 658.68 L147.01 660.39 L147.51 661.18 L148.01 660.85 L148.51 659.49 L149.02 657.42 L149.52 655.13 L150.02 653.17 L150.52 652.00 L151.02 651.89 L151.52 652.89 L152.02 654.73 L152.53 657.00 L153.03 659.15 L153.53 660.67 L154.03 661.20 L154.53 660.61 L155.03 659.05 L155.53 656.88 L156.03 654.62 L156.54 652.81 L157.04 651.87 L157.54 652.03 L158.04 653.26 L158.54 655.25 L159.04 657.54 L159.54 659.58 L160.05 660.89 L160.55 661.16 L161.05 660.32 L161.55 658.58 L162.05 656.34 L162.55 654.14 L163.05 652.50 L163.56 651.81 L164.06 652.23 L164.56 653.67 L165.06 655.78 L165.56 658.06 L166.06 659.97 L166.56 661.06 L167.07 661.06 L167.57 659.98 L168.07 658.07 L168.57 655.79 L169.07 653.68 L169.57 652.24 L170.07 651.81 L170.57 652.49 L171.08 654.12 L171.58 656.32 L172.08 658.56 L172.58 660.31 L173.08 661.16 L173.58 660.90 L174.08 659.59 L174.59 657.55 L175.09 655.26 L175.59 653.27 L176.09 652.04 L176.59 651.87 L177.09 652.80 L177.59 654.61 L178.10 656.87 L178.60 659.04 L179.10 660.61 L179.60 661.20" fill="none" stroke="#c0a2a2" stroke-width="1.85"/>
<path d="M143.50 661.00 L144.00 659.82 L144.50 657.85 L145.00 655.56 L145.51 653.50 L146.01 652.15 L146.51 651.83 L147.01 652.62 L147.51 654.33 L148.01 656.56 L148.51 658.77 L149.02 660.45 L149.52 661.18 L150.02 660.81 L150.52 659.41 L151.02 657.32 L151.52 655.04 L152.02 653.10 L152.53 651.97 L153.03 651.92 L153.53 652.95 L154.03 654.83 L154.53 657.10 L155.03 659.23 L155.53 660.72 L156.03 661.20 L156.54 660.56 L157.04 658.97 L157.54 656.78 L158.04 654.53 L158.54 652.75 L159.04 651.86 L159.54 652.07 L160.05 653.33 L160.55 655.35 L161.05 657.64 L161.55 659.66 L162.05 660.93 L162.55 661.15 L163.05 660.26 L163.56 658.49 L164.06 656.24 L164.56 654.05 L165.06 652.45 L165.56 651.80 L166.06 652.28 L166.56 653.75 L167.07 655.88 L167.57 658.16 L168.07 660.04 L168.57 661.08 L169.07 661.03 L169.57 659.91 L170.07 657.98 L170.57 655.70 L171.08 653.60 L171.58 652.20 L172.08 651.81 L172.58 652.54 L173.08 654.21 L173.58 656.42 L174.08 658.65 L174.59 660.37 L175.09 661.17 L175.59 660.86 L176.09 659.52 L176.59 657.45 L177.09 655.17 L177.59 653.19 L178.10 652.01 L178.60 651.89 L179.10 652.86 L179.60 654.70" fill="none" stroke="#8a6666" stroke-width="1.85"/>
<path d="M225.30 603.37 L225.81 602.02 L226.31 599.94 L226.82 597.63 L227.32 595.66 L227.83 594.49 L228.33 594.41 L228.84 595.43 L229.34 597.32 L229.85 599.61 L230.35 601.76 L230.86 603.24 L231.36 603.69 L231.87 603.02 L232.38 601.38 L232.88 599.16 L233.39 596.91 L233.89 595.15 L234.40 594.33 L234.90 594.63 L235.41 595.99 L235.91 598.07 L236.42 600.38 L236.92 602.35 L237.43 603.52 L237.94 603.59 L238.44 602.56 L238.95 600.67 L239.45 598.38 L239.96 596.23 L240.46 594.76 L240.97 594.31 L241.47 594.99 L241.98 596.63 L242.48 598.85 L242.99 601.11 L243.49 602.85 L244.00 603.67 L244.51 603.36 L245.01 602.00 L245.52 599.92 L246.02 597.61 L246.53 595.64 L247.03 594.48 L247.54 594.41 L248.04 595.45 L248.55 597.34 L249.05 599.64 L249.56 601.78 L250.06 603.25 L250.57 603.69 L251.08 603.01 L251.58 601.36 L252.09 599.14 L252.59 596.88 L253.10 595.14 L253.60 594.33 L254.11 594.64 L254.61 596.01 L255.12 598.10 L255.62 600.40 L256.13 602.37 L256.64 603.52 L257.14 603.59 L257.65 602.54 L258.15 600.65 L258.66 598.35 L259.16 596.21 L259.67 594.75 L260.17 594.31 L260.68 595.00 L261.18 596.65 L261.69 598.88 L262.19 601.13 L262.70 602.87" fill="none" stroke="#c0a2a2" stroke-width="1.85"/>
<path d="M225.30 599.00 L225.81 601.24 L226.31 602.94 L226.82 603.68 L227.32 603.30 L227.83 601.88 L228.33 599.77 L228.84 597.47 L229.34 595.54 L229.85 594.44 L230.35 594.45 L230.86 595.55 L231.36 597.48 L231.87 599.78 L232.38 601.89 L232.88 603.31 L233.39 603.68 L233.89 602.93 L234.40 601.23 L234.90 598.99 L235.41 596.75 L235.91 595.06 L236.42 594.31 L236.92 594.70 L237.43 596.13 L237.94 598.24 L238.44 600.54 L238.95 602.47 L239.45 603.56 L239.96 603.55 L240.46 602.44 L240.97 600.51 L241.47 598.21 L241.98 596.10 L242.48 594.69 L242.99 594.32 L243.49 595.08 L244.00 596.78 L244.51 599.02 L245.01 601.26 L245.52 602.95 L246.02 603.69 L246.53 603.29 L247.03 601.86 L247.54 599.75 L248.04 597.45 L248.55 595.52 L249.05 594.44 L249.56 594.45 L250.06 595.56 L250.57 597.50 L251.08 599.81 L251.58 601.91 L252.09 603.32 L252.59 603.68 L253.10 602.91 L253.60 601.20 L254.11 598.96 L254.61 596.73 L255.12 595.04 L255.62 594.31 L256.13 594.71 L256.64 596.15 L257.14 598.27 L257.65 600.57 L258.15 602.49 L258.66 603.57 L259.16 603.55 L259.67 602.43 L260.17 600.48 L260.68 598.18 L261.18 596.08 L261.69 594.68 L262.19 594.32 L262.70 595.09" fill="none" stroke="#8a6666" stroke-width="1.85"/>
<path d="M262.70 602.87 L263.20 603.67 L263.71 603.36 L264.21 602.00 L264.71 599.92 L265.22 597.63 L265.72 595.66 L266.23 594.49 L266.73 594.40 L267.23 595.42 L267.74 597.29 L268.24 599.57 L268.74 601.72 L269.25 603.21 L269.75 603.70 L270.25 603.06 L270.76 601.45 L271.26 599.25 L271.77 596.99 L272.27 595.22 L272.77 594.35 L273.28 594.59 L273.78 595.89 L274.28 597.94 L274.79 600.24 L275.29 602.24 L275.80 603.47 L276.30 603.62 L276.80 602.67 L277.31 600.84 L277.81 598.57 L278.31 596.40 L278.82 594.85 L279.32 594.30 L279.82 594.87 L280.33 596.44 L280.83 598.61 L281.34 600.88 L281.84 602.70 L282.34 603.63 L282.85 603.45 L283.35 602.21 L283.85 600.20 L284.36 597.90 L284.86 595.86 L285.36 594.58 L285.87 594.35 L286.37 595.24 L286.88 597.03 L287.38 599.29 L287.88 601.48 L288.39 603.08 L288.89 603.70 L289.39 603.19 L289.90 601.68 L290.40 599.53 L290.90 597.25 L291.41 595.39 L291.91 594.39 L292.42 594.50 L292.92 595.69 L293.42 597.67 L293.93 599.97 L294.43 602.03 L294.93 603.37 L295.44 603.67 L295.94 602.84 L296.45 601.10 L296.95 598.85 L297.45 596.64 L297.96 594.99 L298.46 594.31 L298.96 594.75 L299.47 596.20 L299.97 598.33 L300.47 600.62 L300.98 602.52 L301.48 603.58 L301.99 603.54 L302.49 602.41 L302.99 600.47 L303.50 598.17 L304.00 596.08" fill="none" stroke="#7bb8b0" stroke-width="1.85"/>
<path d="M262.70 595.09 L263.20 596.80 L263.71 599.03 L264.21 601.26 L264.71 602.95 L265.22 603.68 L265.72 603.30 L266.23 601.89 L266.73 599.78 L267.23 597.49 L267.74 595.56 L268.24 594.45 L268.74 594.43 L269.25 595.51 L269.75 597.42 L270.25 599.71 L270.76 601.83 L271.26 603.27 L271.77 603.69 L272.27 602.98 L272.77 601.32 L273.28 599.11 L273.78 596.86 L274.28 595.13 L274.79 594.33 L275.29 594.64 L275.80 596.00 L276.30 598.08 L276.80 600.38 L277.31 602.34 L277.81 603.51 L278.31 603.60 L278.82 602.58 L279.32 600.71 L279.82 598.43 L280.33 596.28 L280.83 594.79 L281.34 594.30 L281.84 594.94 L282.34 596.55 L282.85 598.75 L283.35 601.01 L283.85 602.79 L284.36 603.65 L284.86 603.41 L285.36 602.11 L285.87 600.06 L286.37 597.76 L286.88 595.76 L287.38 594.53 L287.88 594.38 L288.39 595.33 L288.89 597.16 L289.39 599.43 L289.90 601.60 L290.40 603.15 L290.90 603.70 L291.41 603.13 L291.91 601.56 L292.42 599.39 L292.92 597.12 L293.42 595.30 L293.93 594.37 L294.43 594.55 L294.93 595.79 L295.44 597.80 L295.94 600.10 L296.45 602.14 L296.95 603.42 L297.45 603.65 L297.96 602.76 L298.46 600.97 L298.96 598.71 L299.47 596.52 L299.97 594.92 L300.47 594.30 L300.98 594.81 L301.48 596.32 L301.99 598.47 L302.49 600.75 L302.99 602.61 L303.50 603.61 L304.00 603.50" fill="none" stroke="#3f8f88" stroke-width="1.85"/>
<path d="M219.10 660.37 L219.61 659.02 L220.11 656.94 L220.62 654.64 L221.12 652.66 L221.63 651.49 L222.13 651.40 L222.64 652.43 L223.14 654.31 L223.65 656.60 L224.15 658.75 L224.66 660.23 L225.16 660.70 L225.67 660.03 L226.17 658.39 L226.68 656.18 L227.18 653.92 L227.69 652.16 L228.19 651.33 L228.70 651.63 L229.20 652.98 L229.71 655.05 L230.21 657.36 L230.72 659.33 L231.22 660.51 L231.73 660.60 L232.24 659.58 L232.74 657.69 L233.25 655.40 L233.75 653.26 L234.26 651.77 L234.76 651.30 L235.27 651.97 L235.77 653.61 L236.28 655.82 L236.78 658.08 L237.29 659.83 L237.79 660.67 L238.30 660.37 L238.80 659.03 L239.31 656.95 L239.81 654.65 L240.32 652.67 L240.82 651.49 L241.33 651.40 L241.83 652.42 L242.34 654.30 L242.84 656.59 L243.35 658.74 L243.85 660.23 L244.36 660.70 L244.86 660.03 L245.37 658.40 L245.88 656.19 L246.38 653.93 L246.89 652.17 L247.39 651.34 L247.90 651.62 L248.40 652.97 L248.91 655.04 L249.41 657.35 L249.92 659.33 L250.42 660.51 L250.93 660.60 L251.43 659.58 L251.94 657.71 L252.44 655.42 L252.95 653.27 L253.45 651.78 L253.96 651.30 L254.46 651.96 L254.97 653.59 L255.47 655.81 L255.98 658.06 L256.48 659.83 L256.99 660.66 L257.49 660.38 L258.00 659.04" fill="none" stroke="#c0a2a2" stroke-width="1.85"/>
<path d="M219.10 656.00 L219.61 658.24 L220.11 659.93 L220.62 660.68 L221.12 660.30 L221.63 658.89 L222.13 656.78 L222.64 654.48 L223.14 652.54 L223.65 651.44 L224.15 651.44 L224.66 652.54 L225.16 654.47 L225.67 656.77 L226.17 658.88 L226.68 660.30 L227.18 660.68 L227.69 659.94 L228.19 658.24 L228.70 656.01 L229.20 653.77 L229.71 652.07 L230.21 651.32 L230.72 651.69 L231.22 653.11 L231.73 655.22 L232.24 657.52 L232.74 659.45 L233.25 660.55 L233.75 660.56 L234.26 659.46 L234.76 657.54 L235.27 655.24 L235.77 653.12 L236.28 651.70 L236.78 651.32 L237.29 652.06 L237.79 653.75 L238.30 655.99 L238.80 658.23 L239.31 659.93 L239.81 660.68 L240.32 660.31 L240.82 658.90 L241.33 656.79 L241.83 654.49 L242.34 652.55 L242.84 651.45 L243.35 651.44 L243.85 652.53 L244.36 654.46 L244.86 656.76 L245.37 658.87 L245.88 660.30 L246.38 660.69 L246.89 659.94 L247.39 658.25 L247.90 656.02 L248.40 653.78 L248.91 652.08 L249.41 651.32 L249.92 651.69 L250.42 653.10 L250.93 655.21 L251.43 657.51 L251.94 659.44 L252.44 660.55 L252.95 660.56 L253.45 659.47 L253.96 657.55 L254.46 655.25 L254.97 653.13 L255.47 651.71 L255.98 651.31 L256.48 652.05 L256.99 653.74 L257.49 655.98 L258.00 658.22" fill="none" stroke="#8a6666" stroke-width="1.85"/>
<path d="M258.00 659.04 L258.50 656.97 L259.01 654.67 L259.51 652.69 L260.01 651.50 L260.52 651.39 L261.02 652.39 L261.53 654.24 L262.03 656.52 L262.53 658.68 L263.04 660.19 L263.54 660.70 L264.04 660.08 L264.55 658.49 L265.05 656.30 L265.56 654.03 L266.06 652.24 L266.56 651.35 L267.07 651.58 L267.57 652.86 L268.07 654.89 L268.58 657.19 L269.08 659.21 L269.59 660.45 L270.09 660.63 L270.59 659.70 L271.10 657.88 L271.60 655.61 L272.10 653.44 L272.61 651.87 L273.11 651.30 L273.61 651.85 L274.12 653.40 L274.62 655.57 L275.13 657.84 L275.63 659.67 L276.13 660.62 L276.64 660.47 L277.14 659.24 L277.64 657.24 L278.15 654.94 L278.65 652.89 L279.16 651.59 L279.66 651.35 L280.16 652.22 L280.67 653.99 L281.17 656.25 L281.67 658.45 L282.18 660.06 L282.68 660.70 L283.19 660.21 L283.69 658.71 L284.19 656.57 L284.70 654.29 L285.20 652.41 L285.70 651.40 L286.21 651.49 L286.71 652.66 L287.21 654.63 L287.72 656.93 L288.22 659.00 L288.73 660.36 L289.23 660.67 L289.73 659.86 L290.24 658.13 L290.74 655.89 L291.24 653.67 L291.75 652.01 L292.25 651.31 L292.76 651.73 L293.26 653.18 L293.76 655.30 L294.27 657.59 L294.77 659.50 L295.27 660.57 L295.78 660.55 L296.28 659.43 L296.79 657.50 L297.29 655.21 L297.79 653.10 L298.30 651.69 L298.80 651.32" fill="none" stroke="#93b7e3" stroke-width="1.85"/>
<path d="M258.00 658.22 L258.50 659.92 L259.01 660.68 L259.51 660.32 L260.01 658.93 L260.52 656.83 L261.02 654.54 L261.53 652.59 L262.03 651.46 L262.53 651.42 L263.04 652.48 L263.54 654.38 L264.04 656.66 L264.55 658.79 L265.05 660.25 L265.56 660.69 L266.06 660.01 L266.56 658.36 L267.07 656.15 L267.57 653.91 L268.07 652.16 L268.58 651.33 L269.08 651.63 L269.59 652.97 L270.09 655.03 L270.59 657.33 L271.10 659.31 L271.60 660.50 L272.10 660.61 L272.61 659.61 L273.11 657.75 L273.61 655.47 L274.12 653.32 L274.62 651.81 L275.13 651.30 L275.63 651.92 L276.13 653.52 L276.64 655.71 L277.14 657.97 L277.64 659.76 L278.15 660.65 L278.65 660.42 L279.16 659.14 L279.66 657.10 L280.16 654.80 L280.67 652.79 L281.17 651.54 L281.67 651.37 L282.18 652.30 L282.68 654.12 L283.19 656.39 L283.69 658.57 L284.19 660.13 L284.70 660.70 L285.20 660.15 L285.70 658.60 L286.21 656.43 L286.71 654.15 L287.21 652.32 L287.72 651.37 L288.22 651.53 L288.73 652.76 L289.23 654.77 L289.73 657.07 L290.24 659.11 L290.74 660.41 L291.24 660.65 L291.75 659.78 L292.25 658.00 L292.76 655.74 L293.26 653.55 L293.76 651.94 L294.27 651.30 L294.77 651.79 L295.27 653.29 L295.78 655.44 L296.28 657.72 L296.79 659.59 L297.29 660.60 L297.79 660.51 L298.30 659.34 L298.80 657.36" fill="none" stroke="#4a7fc4" stroke-width="1.85"/>
<path d="M136 598 L136 585.2 L120 585.2" fill="none" stroke="#4c8a2b" stroke-width="2.6"/>
<path d="M114.50 585.20 L121.00 581.62 L121.00 588.78 Z" fill="#4c8a2b" stroke="none" stroke-width="0"/>
<path d="M143.5 655 L143.5 644.1 L125 644.1" fill="none" stroke="#4c8a2b" stroke-width="2.6"/>
<path d="M119.50 644.10 L126.00 640.52 L126.00 647.68 Z" fill="#4c8a2b" stroke="none" stroke-width="0"/>
<path d="M262.7 598 L262.7 586.7 L279 586.7" fill="none" stroke="#4c8a2b" stroke-width="1.2"/>
<path d="M283.00 586.70 L278.50 589.18 L278.50 584.23 Z" fill="#4c8a2b" stroke="none" stroke-width="0"/>
<path d="M258 655 L258 643.7 L277 643.7" fill="none" stroke="#4c8a2b" stroke-width="1.2"/>
<path d="M281.00 643.70 L276.50 646.18 L276.50 641.23 Z" fill="#4c8a2b" stroke="none" stroke-width="0"/>
<path d="M95.5 603.2 Q88 599.5 82 603" fill="none" stroke="#2a2a2a" stroke-width="2.6"/>
<path d="M77.50 605.50 L81.88 599.51 L84.90 605.99 Z" fill="#2a2a2a" stroke="none" stroke-width="0"/>
<path d="M103.5 659.5 Q97 661 94.5 666" fill="none" stroke="#2a2a2a" stroke-width="2.6"/>
<path d="M92.30 671.50 L91.42 664.13 L98.05 666.81 Z" fill="#2a2a2a" stroke="none" stroke-width="0"/>
<path d="M304 601 Q314 600 319 604" fill="none" stroke="#2a2a2a" stroke-width="0.7"/>
<path d="M321.50 606.30 L318.14 605.64 L320.26 603.11 Z" fill="#2a2a2a" stroke="none" stroke-width="0"/>
<path d="M298 658.5 Q304 661 305.5 667" fill="none" stroke="#2a2a2a" stroke-width="0.7"/>
<path d="M305.80 670.20 L303.89 667.36 L307.18 667.07 Z" fill="#2a2a2a" stroke="none" stroke-width="0"/>
<path d="M345 609 Q354 610 357.5 614.5" fill="none" stroke="#2a2a2a" stroke-width="0.7"/>
<path d="M358.80 617.00 L355.87 615.23 L358.73 613.58 Z" fill="#2a2a2a" stroke="none" stroke-width="0"/>
<path d="M361 625 Q372 628 375.5 637" fill="none" stroke="#2a2a2a" stroke-width="0.7"/>
<path d="M376.50 640.50 L374.13 638.03 L377.32 637.18 Z" fill="#2a2a2a" stroke="none" stroke-width="0"/>
<path d="M37 605.5 Q33 611 35 617" fill="none" stroke="#2a2a2a" stroke-width="0.7"/>
<path d="M35.80 619.30 L33.22 617.05 L36.32 615.92 Z" fill="#2a2a2a" stroke="none" stroke-width="0"/>
<path d="M43 627 Q33 630 27.5 635" fill="none" stroke="#2a2a2a" stroke-width="0.7"/>
<path d="M25.50 637.80 L25.87 634.40 L28.57 636.29 Z" fill="#2a2a2a" stroke="none" stroke-width="0"/>
<path d="M32 643.5 Q92 614 163 646" fill="none" stroke="#333" stroke-width="1.2" stroke-dasharray="2.8 2.2"/>
<path d="M166.50 648.50 L161.71 648.40 L164.02 644.40 Z" fill="#333" stroke="none" stroke-width="0"/>
<path d="M376 640 Q318 617 249 645.5" fill="none" stroke="#333" stroke-width="1.2" stroke-dasharray="2.8 2.2"/>
<path d="M245.50 647.50 L248.33 643.63 L250.28 647.82 Z" fill="#333" stroke="none" stroke-width="0"/>
<path d="M38.50 598.60 L38.88 599.06 L39.25 599.45 L39.62 599.71 L40.00 599.80 L40.38 599.71 L40.75 599.45 L41.12 599.06 L41.50 598.60 L41.88 598.14 L42.25 597.75 L42.62 597.49 L43.00 597.40 L43.38 597.49 L43.75 597.75 L44.12 598.14 L44.50 598.60" fill="none" stroke="#f5ae2e" stroke-width="1.1"/>
<path d="M46.50 598.60 L46.88 599.06 L47.25 599.45 L47.62 599.71 L48.00 599.80 L48.38 599.71 L48.75 599.45 L49.12 599.06 L49.50 598.60 L49.88 598.14 L50.25 597.75 L50.62 597.49 L51.00 597.40 L51.38 597.49 L51.75 597.75 L52.12 598.14 L52.50 598.60" fill="none" stroke="#f5ae2e" stroke-width="1.1"/>
<path d="M54.50 598.60 L54.88 599.06 L55.25 599.45 L55.62 599.71 L56.00 599.80 L56.38 599.71 L56.75 599.45 L57.12 599.06 L57.50 598.60 L57.88 598.14 L58.25 597.75 L58.62 597.49 L59.00 597.40 L59.38 597.49 L59.75 597.75 L60.12 598.14 L60.50 598.60" fill="none" stroke="#f5ae2e" stroke-width="1.1"/>
<path d="M62.50 598.60 L62.88 599.06 L63.25 599.45 L63.62 599.71 L64.00 599.80 L64.38 599.71 L64.75 599.45 L65.12 599.06 L65.50 598.60 L65.88 598.14 L66.25 597.75 L66.62 597.49 L67.00 597.40 L67.38 597.49 L67.75 597.75 L68.12 598.14 L68.50 598.60" fill="none" stroke="#f5ae2e" stroke-width="1.1"/>
<path d="M70.50 598.60 L70.88 599.07 L71.27 599.47 L71.65 599.72 L72.04 599.80 L72.42 599.68 L72.81 599.40 L73.19 598.98 L73.58 598.50 L73.96 598.04 L74.35 597.67 L74.73 597.45 L75.12 597.41 L75.50 597.56" fill="none" stroke="#f5ae2e" stroke-width="1.1"/>
<path d="M38.50 603.90 L38.88 604.36 L39.25 604.75 L39.62 605.01 L40.00 605.10 L40.38 605.01 L40.75 604.75 L41.12 604.36 L41.50 603.90 L41.88 603.44 L42.25 603.05 L42.62 602.79 L43.00 602.70 L43.38 602.79 L43.75 603.05 L44.12 603.44 L44.50 603.90" fill="none" stroke="#f5ae2e" stroke-width="1.1"/>
<path d="M46.50 603.90 L46.88 604.36 L47.25 604.75 L47.62 605.01 L48.00 605.10 L48.38 605.01 L48.75 604.75 L49.12 604.36 L49.50 603.90 L49.88 603.44 L50.25 603.05 L50.62 602.79 L51.00 602.70 L51.38 602.79 L51.75 603.05 L52.12 603.44 L52.50 603.90" fill="none" stroke="#f5ae2e" stroke-width="1.1"/>
<path d="M54.50 603.90 L54.88 604.36 L55.25 604.75 L55.62 605.01 L56.00 605.10 L56.38 605.01 L56.75 604.75 L57.12 604.36 L57.50 603.90 L57.88 603.44 L58.25 603.05 L58.62 602.79 L59.00 602.70 L59.38 602.79 L59.75 603.05 L60.12 603.44 L60.50 603.90" fill="none" stroke="#f5ae2e" stroke-width="1.1"/>
<path d="M62.50 603.90 L62.88 604.36 L63.25 604.75 L63.62 605.01 L64.00 605.10 L64.38 605.01 L64.75 604.75 L65.12 604.36 L65.50 603.90 L65.88 603.44 L66.25 603.05 L66.62 602.79 L67.00 602.70 L67.38 602.79 L67.75 603.05 L68.12 603.44 L68.50 603.90" fill="none" stroke="#f5ae2e" stroke-width="1.1"/>
<path d="M70.50 603.90 L70.88 604.37 L71.27 604.77 L71.65 605.02 L72.04 605.10 L72.42 604.98 L72.81 604.70 L73.19 604.28 L73.58 603.80 L73.96 603.34 L74.35 602.97 L74.73 602.75 L75.12 602.71 L75.50 602.86" fill="none" stroke="#f5ae2e" stroke-width="1.1"/>
<path d="M38.50 609.10 L38.88 609.56 L39.25 609.95 L39.62 610.21 L40.00 610.30 L40.38 610.21 L40.75 609.95 L41.12 609.56 L41.50 609.10 L41.88 608.64 L42.25 608.25 L42.62 607.99 L43.00 607.90 L43.38 607.99 L43.75 608.25 L44.12 608.64 L44.50 609.10" fill="none" stroke="#f5ae2e" stroke-width="1.1"/>
<path d="M46.50 609.10 L46.88 609.56 L47.25 609.95 L47.62 610.21 L48.00 610.30 L48.38 610.21 L48.75 609.95 L49.12 609.56 L49.50 609.10 L49.88 608.64 L50.25 608.25 L50.62 607.99 L51.00 607.90 L51.38 607.99 L51.75 608.25 L52.12 608.64 L52.50 609.10" fill="none" stroke="#f5ae2e" stroke-width="1.1"/>
<path d="M54.50 609.10 L54.88 609.56 L55.25 609.95 L55.62 610.21 L56.00 610.30 L56.38 610.21 L56.75 609.95 L57.12 609.56 L57.50 609.10 L57.88 608.64 L58.25 608.25 L58.62 607.99 L59.00 607.90 L59.38 607.99 L59.75 608.25 L60.12 608.64 L60.50 609.10" fill="none" stroke="#f5ae2e" stroke-width="1.1"/>
<path d="M62.50 609.10 L62.88 609.56 L63.25 609.95 L63.62 610.21 L64.00 610.30 L64.38 610.21 L64.75 609.95 L65.12 609.56 L65.50 609.10 L65.88 608.64 L66.25 608.25 L66.62 607.99 L67.00 607.90 L67.38 607.99 L67.75 608.25 L68.12 608.64 L68.50 609.10" fill="none" stroke="#f5ae2e" stroke-width="1.1"/>
<path d="M70.50 609.10 L70.88 609.57 L71.27 609.97 L71.65 610.22 L72.04 610.30 L72.42 610.18 L72.81 609.90 L73.19 609.48 L73.58 609.00 L73.96 608.54 L74.35 608.17 L74.73 607.95 L75.12 607.91 L75.50 608.06" fill="none" stroke="#f5ae2e" stroke-width="1.1"/>
<path d="M76.00 680.70 L76.38 681.16 L76.75 681.55 L77.12 681.81 L77.50 681.90 L77.88 681.81 L78.25 681.55 L78.62 681.16 L79.00 680.70 L79.38 680.24 L79.75 679.85 L80.12 679.59 L80.50 679.50 L80.88 679.59 L81.25 679.85 L81.62 680.24 L82.00 680.70" fill="none" stroke="#c46cf0" stroke-width="1.1"/>
<path d="M84.00 680.70 L84.38 681.16 L84.75 681.55 L85.12 681.81 L85.50 681.90 L85.88 681.81 L86.25 681.55 L86.62 681.16 L87.00 680.70 L87.38 680.24 L87.75 679.85 L88.12 679.59 L88.50 679.50 L88.88 679.59 L89.25 679.85 L89.62 680.24 L90.00 680.70" fill="none" stroke="#c46cf0" stroke-width="1.1"/>
<path d="M92.00 680.70 L92.38 681.16 L92.75 681.55 L93.12 681.81 L93.50 681.90 L93.88 681.81 L94.25 681.55 L94.62 681.16 L95.00 680.70 L95.38 680.24 L95.75 679.85 L96.12 679.59 L96.50 679.50 L96.88 679.59 L97.25 679.85 L97.62 680.24 L98.00 680.70" fill="none" stroke="#c46cf0" stroke-width="1.1"/>
<path d="M100.00 680.70 L100.38 681.16 L100.75 681.55 L101.12 681.81 L101.50 681.90 L101.88 681.81 L102.25 681.55 L102.62 681.16 L103.00 680.70 L103.38 680.24 L103.75 679.85 L104.12 679.59 L104.50 679.50 L104.88 679.59 L105.25 679.85 L105.62 680.24 L106.00 680.70" fill="none" stroke="#c46cf0" stroke-width="1.1"/>
<path d="M108.00 680.70 L108.36 681.14 L108.71 681.52 L109.07 681.78 L109.43 681.90 L109.79 681.85 L110.14 681.64 L110.50 681.30" fill="none" stroke="#c46cf0" stroke-width="1.1"/>
<path d="M76.00 686.00 L76.38 686.46 L76.75 686.85 L77.12 687.11 L77.50 687.20 L77.88 687.11 L78.25 686.85 L78.62 686.46 L79.00 686.00 L79.38 685.54 L79.75 685.15 L80.12 684.89 L80.50 684.80 L80.88 684.89 L81.25 685.15 L81.62 685.54 L82.00 686.00" fill="none" stroke="#c46cf0" stroke-width="1.1"/>
<path d="M84.00 686.00 L84.38 686.46 L84.75 686.85 L85.12 687.11 L85.50 687.20 L85.88 687.11 L86.25 686.85 L86.62 686.46 L87.00 686.00 L87.38 685.54 L87.75 685.15 L88.12 684.89 L88.50 684.80 L88.88 684.89 L89.25 685.15 L89.62 685.54 L90.00 686.00" fill="none" stroke="#c46cf0" stroke-width="1.1"/>
<path d="M92.00 686.00 L92.38 686.46 L92.75 686.85 L93.12 687.11 L93.50 687.20 L93.88 687.11 L94.25 686.85 L94.62 686.46 L95.00 686.00 L95.38 685.54 L95.75 685.15 L96.12 684.89 L96.50 684.80 L96.88 684.89 L97.25 685.15 L97.62 685.54 L98.00 686.00" fill="none" stroke="#c46cf0" stroke-width="1.1"/>
<path d="M100.00 686.00 L100.38 686.46 L100.75 686.85 L101.12 687.11 L101.50 687.20 L101.88 687.11 L102.25 686.85 L102.62 686.46 L103.00 686.00 L103.38 685.54 L103.75 685.15 L104.12 684.89 L104.50 684.80 L104.88 684.89 L105.25 685.15 L105.62 685.54 L106.00 686.00" fill="none" stroke="#c46cf0" stroke-width="1.1"/>
<path d="M108.00 686.00 L108.36 686.44 L108.71 686.82 L109.07 687.08 L109.43 687.20 L109.79 687.15 L110.14 686.94 L110.50 686.60" fill="none" stroke="#c46cf0" stroke-width="1.1"/>
<path d="M76.00 691.20 L76.38 691.66 L76.75 692.05 L77.12 692.31 L77.50 692.40 L77.88 692.31 L78.25 692.05 L78.62 691.66 L79.00 691.20 L79.38 690.74 L79.75 690.35 L80.12 690.09 L80.50 690.00 L80.88 690.09 L81.25 690.35 L81.62 690.74 L82.00 691.20" fill="none" stroke="#c46cf0" stroke-width="1.1"/>
<path d="M84.00 691.20 L84.38 691.66 L84.75 692.05 L85.12 692.31 L85.50 692.40 L85.88 692.31 L86.25 692.05 L86.62 691.66 L87.00 691.20 L87.38 690.74 L87.75 690.35 L88.12 690.09 L88.50 690.00 L88.88 690.09 L89.25 690.35 L89.62 690.74 L90.00 691.20" fill="none" stroke="#c46cf0" stroke-width="1.1"/>
<path d="M92.00 691.20 L92.38 691.66 L92.75 692.05 L93.12 692.31 L93.50 692.40 L93.88 692.31 L94.25 692.05 L94.62 691.66 L95.00 691.20 L95.38 690.74 L95.75 690.35 L96.12 690.09 L96.50 690.00 L96.88 690.09 L97.25 690.35 L97.62 690.74 L98.00 691.20" fill="none" stroke="#c46cf0" stroke-width="1.1"/>
<path d="M100.00 691.20 L100.38 691.66 L100.75 692.05 L101.12 692.31 L101.50 692.40 L101.88 692.31 L102.25 692.05 L102.62 691.66 L103.00 691.20 L103.38 690.74 L103.75 690.35 L104.12 690.09 L104.50 690.00 L104.88 690.09 L105.25 690.35 L105.62 690.74 L106.00 691.20" fill="none" stroke="#c46cf0" stroke-width="1.1"/>
<path d="M108.00 691.20 L108.36 691.64 L108.71 692.02 L109.07 692.28 L109.43 692.40 L109.79 692.35 L110.14 692.14 L110.50 691.80" fill="none" stroke="#c46cf0" stroke-width="1.1"/>
<path d="M325.00 601.00 L325.38 601.46 L325.75 601.85 L326.12 602.11 L326.50 602.20 L326.88 602.11 L327.25 601.85 L327.62 601.46 L328.00 601.00 L328.38 600.54 L328.75 600.15 L329.12 599.89 L329.50 599.80 L329.88 599.89 L330.25 600.15 L330.62 600.54 L331.00 601.00" fill="none" stroke="#f06a30" stroke-width="1.1"/>
<path d="M333.00 601.00 L333.38 601.46 L333.75 601.85 L334.12 602.11 L334.50 602.20 L334.88 602.11 L335.25 601.85 L335.62 601.46 L336.00 601.00 L336.38 600.54 L336.75 600.15 L337.12 599.89 L337.50 599.80 L337.88 599.89 L338.25 600.15 L338.62 600.54 L339.00 601.00" fill="none" stroke="#f06a30" stroke-width="1.1"/>
<path d="M341.00 601.00 L341.38 601.46 L341.75 601.85 L342.12 602.11 L342.50 602.20 L342.88 602.11 L343.25 601.85 L343.62 601.46 L344.00 601.00 L344.38 600.54 L344.75 600.15 L345.12 599.89 L345.50 599.80 L345.88 599.89 L346.25 600.15 L346.62 600.54 L347.00 601.00" fill="none" stroke="#f06a30" stroke-width="1.1"/>
<path d="M349.00 601.00 L349.33 601.41 L349.67 601.77 L350.00 602.04 L350.33 602.18 L350.67 602.18 L351.00 602.04" fill="none" stroke="#f06a30" stroke-width="1.1"/>
<path d="M293.60 684.50 L293.98 684.96 L294.35 685.35 L294.73 685.61 L295.10 685.70 L295.48 685.61 L295.85 685.35 L296.23 684.96 L296.60 684.50 L296.98 684.04 L297.35 683.65 L297.73 683.39 L298.10 683.30 L298.48 683.39 L298.85 683.65 L299.23 684.04 L299.60 684.50" fill="none" stroke="#c46cf0" stroke-width="1.1"/>
<path d="M301.60 684.50 L301.98 684.96 L302.35 685.35 L302.73 685.61 L303.10 685.70 L303.48 685.61 L303.85 685.35 L304.23 684.96 L304.60 684.50 L304.98 684.04 L305.35 683.65 L305.73 683.39 L306.10 683.30 L306.48 683.39 L306.85 683.65 L307.23 684.04 L307.60 684.50" fill="none" stroke="#c46cf0" stroke-width="1.1"/>
<path d="M309.60 684.50 L309.98 684.96 L310.35 685.35 L310.73 685.61 L311.10 685.70 L311.48 685.61 L311.85 685.35 L312.23 684.96 L312.60 684.50 L312.98 684.04 L313.35 683.65 L313.73 683.39 L314.10 683.30 L314.48 683.39 L314.85 683.65 L315.23 684.04 L315.60 684.50" fill="none" stroke="#c46cf0" stroke-width="1.1"/>
<path d="M317.60 684.50 L318.00 684.99 L318.40 685.39 L318.80 685.64 L319.20 685.69 L319.60 685.54 L320.00 685.21 L320.40 684.75 L320.80 684.25 L321.20 683.79 L321.60 683.46 L322.00 683.31" fill="none" stroke="#c46cf0" stroke-width="1.1"/>
<path d="M173 492.5 Q150 502 149.5 533" fill="none" stroke="#3a9ad9" stroke-width="1.2" stroke-dasharray="2.2 1.8"/>
<path d="M149.40 537.00 L147.31 533.20 L151.49 533.20 Z" fill="#3a9ad9" stroke="none" stroke-width="0"/>
<path d="M225 489.5 Q250 502 249.5 533" fill="none" stroke="#3aaa3a" stroke-width="1.2" stroke-dasharray="2.2 1.8"/>
<path d="M249.60 537.50 L247.51 533.70 L251.69 533.70 Z" fill="#3aaa3a" stroke="none" stroke-width="0"/>
<path d="M179 489 C179.5 478 186 470 195 468.8 L222 468.8 C229 469 232 476 230 486" fill="none" stroke="#8f8d7c" stroke-width="2.9" stroke-linecap="round" stroke-linejoin="round"/>
<path d="M183 490 C184 481 188 474 196 472.5 L225 472.5" fill="none" stroke="#8f8d7c" stroke-width="2.9" stroke-linecap="round" stroke-linejoin="round"/>
<path d="M190 471 L186.5 486" fill="none" stroke="#8f8d7c" stroke-width="2.9" stroke-linecap="round" stroke-linejoin="round"/>
<path d="M195.5 472 L192 489.5" fill="none" stroke="#8f8d7c" stroke-width="2.9" stroke-linecap="round" stroke-linejoin="round"/>
<path d="M202 471 L205 480 L201 490" fill="none" stroke="#8f8d7c" stroke-width="2.9" stroke-linecap="round" stroke-linejoin="round"/>
<path d="M206 473 L208.5 488" fill="none" stroke="#8f8d7c" stroke-width="2.9" stroke-linecap="round" stroke-linejoin="round"/>
<path d="M213 471 L212 489" fill="none" stroke="#8f8d7c" stroke-width="2.9" stroke-linecap="round" stroke-linejoin="round"/>
<path d="M218 471 L221 488" fill="none" stroke="#8f8d7c" stroke-width="2.9" stroke-linecap="round" stroke-linejoin="round"/>
<path d="M223 472 L225.5 487" fill="none" stroke="#8f8d7c" stroke-width="2.9" stroke-linecap="round" stroke-linejoin="round"/>
<path d="M205 468.8 C208 465 214 464 218 466.5 L222 468.8" fill="none" stroke="#8f8d7c" stroke-width="2.9" stroke-linecap="round" stroke-linejoin="round"/>
<path d="M199 479 L205 481" fill="none" stroke="#8f8d7c" stroke-width="2.9" stroke-linecap="round" stroke-linejoin="round"/>
<path d="M179 489 C179.5 478 186 470 195 468.8 L222 468.8 C229 469 232 476 230 486" fill="none" stroke="#ecead9" stroke-width="1.7" stroke-linecap="round" stroke-linejoin="round"/>
<path d="M183 490 C184 481 188 474 196 472.5 L225 472.5" fill="none" stroke="#ecead9" stroke-width="1.7" stroke-linecap="round" stroke-linejoin="round"/>
<path d="M190 471 L186.5 486" fill="none" stroke="#ecead9" stroke-width="1.7" stroke-linecap="round" stroke-linejoin="round"/>
<path d="M195.5 472 L192 489.5" fill="none" stroke="#ecead9" stroke-width="1.7" stroke-linecap="round" stroke-linejoin="round"/>
<path d="M202 471 L205 480 L201 490" fill="none" stroke="#ecead9" stroke-width="1.7" stroke-linecap="round" stroke-linejoin="round"/>
<path d="M206 473 L208.5 488" fill="none" stroke="#ecead9" stroke-width="1.7" stroke-linecap="round" stroke-linejoin="round"/>
<path d="M213 471 L212 489" fill="none" stroke="#ecead9" stroke-width="1.7" stroke-linecap="round" stroke-linejoin="round"/>
<path d="M218 471 L221 488" fill="none" stroke="#ecead9" stroke-width="1.7" stroke-linecap="round" stroke-linejoin="round"/>
<path d="M223 472 L225.5 487" fill="none" stroke="#ecead9" stroke-width="1.7" stroke-linecap="round" stroke-linejoin="round"/>
<path d="M205 468.8 C208 465 214 464 218 466.5 L222 468.8" fill="none" stroke="#ecead9" stroke-width="1.7" stroke-linecap="round" stroke-linejoin="round"/>
<path d="M199 479 L205 481" fill="none" stroke="#ecead9" stroke-width="1.7" stroke-linecap="round" stroke-linejoin="round"/>
<text x="41.90" y="482.20" font-size="8.4" text-anchor="start" fill="#231f20" textLength="32.7" lengthAdjust="spacingAndGlyphs" font-style="italic">SBRR1-R</text>
<text x="81.70" y="482.20" font-size="8.4" text-anchor="start" fill="#231f20" textLength="26.3" lengthAdjust="spacingAndGlyphs">variety</text>
<text x="288.80" y="481.80" font-size="8.4" text-anchor="start" fill="#231f20" textLength="32.4" lengthAdjust="spacingAndGlyphs" font-style="italic">SBRR1-S</text>
<text x="327.30" y="481.80" font-size="8.4" text-anchor="start" fill="#231f20" textLength="27.2" lengthAdjust="spacingAndGlyphs">variety</text>
<text x="234.20" y="477.00" font-size="8.4" text-anchor="start" fill="#2e3070" textLength="32.3" lengthAdjust="spacingAndGlyphs" font-style="italic">R. solani</text>
<text x="283.20" y="521.80" font-size="8.4" text-anchor="start" fill="#231f20" textLength="15.2" lengthAdjust="spacingAndGlyphs">SIP1</text>
<text x="329.60" y="521.80" font-size="8.4" text-anchor="start" fill="#231f20" textLength="24.0" lengthAdjust="spacingAndGlyphs">SBRR1</text>
<line x1="296.50" y1="511.50" x2="306.00" y2="493.00" stroke="#231f20" stroke-width="0.8"/>
<line x1="327.50" y1="511.50" x2="317.50" y2="493.00" stroke="#231f20" stroke-width="0.8"/>
<text x="141.35" y="614.90" font-size="8.4" text-anchor="middle" fill="#231f20" textLength="32.7" lengthAdjust="spacingAndGlyphs" font-style="italic">SBRR1-R</text>
<text x="262.75" y="615.50" font-size="8.4" text-anchor="middle" fill="#231f20" textLength="33.5" lengthAdjust="spacingAndGlyphs" font-style="italic">SBRR1-S</text>
<text x="36.5" y="594.5" font-size="8.0" fill="#231f20" textLength="42.9" lengthAdjust="spacingAndGlyphs"><tspan font-style="italic">SBRR1</tspan> mRNA</text>
<text x="317.2" y="595.1" font-size="8.0" fill="#231f20" textLength="42.9" lengthAdjust="spacingAndGlyphs"><tspan font-style="italic">SBRR1</tspan> mRNA</text>
<text x="126.8" y="671.6" font-size="8.6" fill="#231f20" textLength="54.2" lengthAdjust="spacingAndGlyphs"><tspan font-style="italic">Chit3/4</tspan>, etc...</text>
<text x="232.3" y="671.2" font-size="8.6" fill="#231f20" textLength="54.3" lengthAdjust="spacingAndGlyphs"><tspan font-style="italic">Chit3/4</tspan>, etc...</text>
<text x="67.4" y="702.9" font-size="8.8" fill="#231f20" textLength="57.3" lengthAdjust="spacingAndGlyphs"><tspan font-style="italic">Chit3/4</tspan> mRNA</text>
<text x="279.8" y="699.8" font-size="8.8" fill="#231f20" textLength="56.7" lengthAdjust="spacingAndGlyphs"><tspan font-style="italic">Chit3/4</tspan> mRNA</text>
<line x1="95.60" y1="705.00" x2="95.60" y2="736.50" stroke="#231f20" stroke-width="1.0"/>
<path d="M95.60 741.00 L93.12 736.50 L98.07 736.50 Z" fill="#231f20" stroke="none" stroke-width="0"/>
<line x1="95.60" y1="772.50" x2="95.60" y2="785.00" stroke="#231f20" stroke-width="1.0"/>
<path d="M95.60 789.00 L93.12 784.50 L98.07 784.50 Z" fill="#231f20" stroke="none" stroke-width="0"/>
<line x1="306.50" y1="703.00" x2="306.50" y2="737.00" stroke="#231f20" stroke-width="1.0"/>
<path d="M306.50 741.00 L304.02 736.50 L308.98 736.50 Z" fill="#231f20" stroke="none" stroke-width="0"/>
<line x1="306.50" y1="772.50" x2="306.50" y2="784.00" stroke="#231f20" stroke-width="1.0"/>
<path d="M306.50 788.00 L304.02 783.50 L308.98 783.50 Z" fill="#231f20" stroke="none" stroke-width="0"/>
<circle cx="79.60" cy="754.80" r="5.60" fill="#d4d0dc" stroke="none" stroke-width="0.5" opacity="0.8"/>
<circle cx="78.30" cy="753.20" r="4.70" fill="url(#purp)" stroke="#7424ab" stroke-width="1.7"/>
<circle cx="95.30" cy="750.10" r="5.60" fill="#d4d0dc" stroke="none" stroke-width="0.5" opacity="0.8"/>
<circle cx="94.00" cy="748.50" r="4.70" fill="url(#purp)" stroke="#7424ab" stroke-width="1.7"/>
<circle cx="112.70" cy="751.50" r="5.60" fill="#d4d0dc" stroke="none" stroke-width="0.5" opacity="0.8"/>
<circle cx="111.40" cy="749.90" r="4.70" fill="url(#purp)" stroke="#7424ab" stroke-width="1.7"/>
<circle cx="127.00" cy="748.60" r="5.60" fill="#d4d0dc" stroke="none" stroke-width="0.5" opacity="0.8"/>
<circle cx="125.70" cy="747.00" r="4.70" fill="url(#purp)" stroke="#7424ab" stroke-width="1.7"/>
<circle cx="76.90" cy="768.50" r="5.60" fill="#d4d0dc" stroke="none" stroke-width="0.5" opacity="0.8"/>
<circle cx="75.60" cy="766.90" r="4.70" fill="url(#purp)" stroke="#7424ab" stroke-width="1.7"/>
<circle cx="91.20" cy="769.90" r="5.60" fill="#d4d0dc" stroke="none" stroke-width="0.5" opacity="0.8"/>
<circle cx="89.90" cy="768.30" r="4.70" fill="url(#purp)" stroke="#7424ab" stroke-width="1.7"/>
<circle cx="105.10" cy="763.30" r="5.60" fill="#d4d0dc" stroke="none" stroke-width="0.5" opacity="0.8"/>
<circle cx="103.80" cy="761.70" r="4.70" fill="url(#purp)" stroke="#7424ab" stroke-width="1.7"/>
<circle cx="119.80" cy="765.00" r="5.60" fill="#d4d0dc" stroke="none" stroke-width="0.5" opacity="0.8"/>
<circle cx="118.50" cy="763.40" r="4.70" fill="url(#purp)" stroke="#7424ab" stroke-width="1.7"/>
<circle cx="301.00" cy="760.60" r="5.60" fill="#d4d0dc" stroke="none" stroke-width="0.5" opacity="0.8"/>
<circle cx="299.70" cy="759.00" r="4.70" fill="url(#purp)" stroke="#7424ab" stroke-width="1.7"/>
<circle cx="314.80" cy="756.60" r="5.60" fill="#d4d0dc" stroke="none" stroke-width="0.5" opacity="0.8"/>
<circle cx="313.50" cy="755.00" r="4.70" fill="url(#purp)" stroke="#7424ab" stroke-width="1.7"/>
<text x="106.40" y="779.60" font-size="8.8" text-anchor="start" fill="#34357a" textLength="37.0" lengthAdjust="spacingAndGlyphs">Chitinase</text>
<text x="318.10" y="778.60" font-size="8.8" text-anchor="start" fill="#34357a" textLength="36.9" lengthAdjust="spacingAndGlyphs">Chitinase</text>
<text x="76.60" y="797.30" font-size="8.8" text-anchor="start" fill="#34357a" textLength="43.2" lengthAdjust="spacingAndGlyphs">Resistance</text>
<text x="283.50" y="796.00" font-size="8.8" text-anchor="start" fill="#231f20" textLength="55.2" lengthAdjust="spacingAndGlyphs">Susceptibility</text>
<rect x="419.00" y="526.40" width="263.60" height="170.00" fill="#070707" stroke="none" stroke-width="0.5"/>
<rect x="424.50" y="526.40" width="2.00" height="170.00" fill="url(#gculm)" stroke="none" stroke-width="0.5"/>
<rect x="424.15" y="668.00" width="2.70" height="28.40" fill="url(#gsheathg)" stroke="none" stroke-width="0.5"/>
<rect x="423.95" y="571.00" width="3.10" height="97.00" fill="url(#gsheath)" stroke="none" stroke-width="0.5"/>
<rect x="424.25" y="571.00" width="2.50" height="5.99" fill="#8a9242" stroke="none" stroke-width="0.5" opacity="0.7"/>
<rect x="424.25" y="576.99" width="2.50" height="6.82" fill="#8a9242" stroke="none" stroke-width="0.5" opacity="0.7"/>
<rect x="424.25" y="589.65" width="2.50" height="3.51" fill="#8a9242" stroke="none" stroke-width="0.5" opacity="0.7"/>
<rect x="424.25" y="593.16" width="2.50" height="7.06" fill="#8a9242" stroke="none" stroke-width="0.5" opacity="0.7"/>
<rect x="424.25" y="604.14" width="2.50" height="8.88" fill="#8a9242" stroke="none" stroke-width="0.5" opacity="0.7"/>
<rect x="424.25" y="652.18" width="2.50" height="5.58" fill="#8a9242" stroke="none" stroke-width="0.5" opacity="0.7"/>
<rect x="424.25" y="662.36" width="2.50" height="5.64" fill="#8a9242" stroke="none" stroke-width="0.5" opacity="0.7"/>
<rect x="424.52" y="657.53" width="1.00" height="2.45" fill="#6b5426" stroke="none" stroke-width="0.5" opacity="0.8"/>
<rect x="424.52" y="614.70" width="1.00" height="1.58" fill="#6b5426" stroke="none" stroke-width="0.5" opacity="0.8"/>
<rect x="424.81" y="626.01" width="1.00" height="2.32" fill="#6b5426" stroke="none" stroke-width="0.5" opacity="0.8"/>
<rect x="425.67" y="637.12" width="1.00" height="2.74" fill="#6b5426" stroke="none" stroke-width="0.5" opacity="0.8"/>
<rect x="425.98" y="630.42" width="1.00" height="2.09" fill="#6b5426" stroke="none" stroke-width="0.5" opacity="0.8"/>
<rect x="425.66" y="655.32" width="1.00" height="2.67" fill="#6b5426" stroke="none" stroke-width="0.5" opacity="0.8"/>
<rect x="425.15" y="582.89" width="1.00" height="2.13" fill="#6b5426" stroke="none" stroke-width="0.5" opacity="0.8"/>
<rect x="424.72" y="579.85" width="1.00" height="2.13" fill="#6b5426" stroke="none" stroke-width="0.5" opacity="0.8"/>
<rect x="423.97" y="571.64" width="1.00" height="2.26" fill="#6b5426" stroke="none" stroke-width="0.5" opacity="0.8"/>
<rect x="426.00" y="610.04" width="1.00" height="2.73" fill="#6b5426" stroke="none" stroke-width="0.5" opacity="0.8"/>
<path d="M426.10 572.50 L427.50 567.50" fill="none" stroke="#8f9a48" stroke-width="1.0"/>
<path d="M426.55 644.45 L428.85 639.95" fill="none" stroke="#a39a5e" stroke-width="0.9"/>
<rect x="430.90" y="526.40" width="2.00" height="170.00" fill="url(#gculm)" stroke="none" stroke-width="0.5"/>
<rect x="430.55" y="681.00" width="2.70" height="15.40" fill="url(#gsheathg)" stroke="none" stroke-width="0.5"/>
<rect x="430.35" y="565.00" width="3.10" height="116.00" fill="url(#gsheath)" stroke="none" stroke-width="0.5"/>
<rect x="430.65" y="565.00" width="2.50" height="4.46" fill="#b6bca6" stroke="none" stroke-width="0.5" opacity="0.65"/>
<rect x="430.65" y="573.43" width="2.50" height="4.39" fill="#b6bca6" stroke="none" stroke-width="0.5" opacity="0.65"/>
<rect x="430.65" y="577.82" width="2.50" height="8.56" fill="#b6bca6" stroke="none" stroke-width="0.5" opacity="0.65"/>
<rect x="430.65" y="601.48" width="2.50" height="6.52" fill="#b6bca6" stroke="none" stroke-width="0.5" opacity="0.65"/>
<rect x="430.65" y="607.99" width="2.50" height="8.98" fill="#b6bca6" stroke="none" stroke-width="0.5" opacity="0.65"/>
<rect x="430.65" y="625.87" width="2.50" height="3.17" fill="#8a9242" stroke="none" stroke-width="0.5" opacity="0.7"/>
<rect x="430.72" y="632.50" width="1.00" height="2.98" fill="#6b5426" stroke="none" stroke-width="0.5" opacity="0.8"/>
<rect x="430.38" y="617.92" width="1.00" height="1.98" fill="#6b5426" stroke="none" stroke-width="0.5" opacity="0.8"/>
<rect x="430.77" y="612.31" width="1.00" height="2.93" fill="#6b5426" stroke="none" stroke-width="0.5" opacity="0.8"/>
<rect x="432.25" y="577.77" width="1.00" height="2.19" fill="#6b5426" stroke="none" stroke-width="0.5" opacity="0.8"/>
<rect x="431.10" y="585.36" width="1.00" height="2.01" fill="#6b5426" stroke="none" stroke-width="0.5" opacity="0.8"/>
<rect x="431.95" y="578.41" width="1.00" height="2.37" fill="#6b5426" stroke="none" stroke-width="0.5" opacity="0.8"/>
<rect x="432.09" y="676.98" width="1.00" height="2.61" fill="#6b5426" stroke="none" stroke-width="0.5" opacity="0.8"/>
<rect x="432.31" y="678.65" width="1.00" height="2.36" fill="#6b5426" stroke="none" stroke-width="0.5" opacity="0.8"/>
<rect x="431.45" y="626.48" width="1.00" height="2.66" fill="#6b5426" stroke="none" stroke-width="0.5" opacity="0.8"/>
<rect x="432.09" y="670.49" width="1.00" height="2.71" fill="#6b5426" stroke="none" stroke-width="0.5" opacity="0.8"/>
<rect x="431.23" y="568.12" width="1.00" height="1.36" fill="#6b5426" stroke="none" stroke-width="0.5" opacity="0.8"/>
<rect x="431.57" y="631.72" width="1.00" height="2.21" fill="#6b5426" stroke="none" stroke-width="0.5" opacity="0.8"/>
<path d="M432.50 566.50 L433.90 561.50" fill="none" stroke="#8f9a48" stroke-width="1.0"/>
<path d="M432.95 653.68 L435.25 649.18" fill="none" stroke="#a39a5e" stroke-width="0.9"/>
<path d="M420.00 567.40 L426.30 570.00 L420.00 572.60 Z" fill="#ff0000" stroke="none" stroke-width="0"/>
<path d="M420.00 666.40 L426.30 669.00 L420.00 671.60 Z" fill="#ff0000" stroke="none" stroke-width="0"/>
<rect x="458.30" y="526.40" width="2.00" height="170.00" fill="url(#gculm)" stroke="none" stroke-width="0.5"/>
<rect x="457.95" y="668.50" width="2.70" height="27.90" fill="url(#gsheathg)" stroke="none" stroke-width="0.5"/>
<rect x="457.75" y="607.00" width="3.10" height="61.50" fill="url(#gsheath)" stroke="none" stroke-width="0.5"/>
<rect x="458.05" y="607.00" width="2.50" height="8.87" fill="#8a9242" stroke="none" stroke-width="0.5" opacity="0.7"/>
<rect x="458.05" y="615.87" width="2.50" height="7.35" fill="#b6bca6" stroke="none" stroke-width="0.5" opacity="0.65"/>
<rect x="458.05" y="623.22" width="2.50" height="8.65" fill="#b6bca6" stroke="none" stroke-width="0.5" opacity="0.65"/>
<rect x="458.05" y="631.87" width="2.50" height="8.52" fill="#8a9242" stroke="none" stroke-width="0.5" opacity="0.7"/>
<rect x="458.05" y="640.39" width="2.50" height="8.97" fill="#b6bca6" stroke="none" stroke-width="0.5" opacity="0.65"/>
<rect x="458.05" y="649.36" width="2.50" height="4.10" fill="#8a9242" stroke="none" stroke-width="0.5" opacity="0.7"/>
<rect x="458.05" y="653.46" width="2.50" height="6.78" fill="#8a9242" stroke="none" stroke-width="0.5" opacity="0.7"/>
<rect x="458.05" y="660.24" width="2.50" height="5.32" fill="#8a9242" stroke="none" stroke-width="0.5" opacity="0.7"/>
<rect x="458.05" y="665.57" width="2.50" height="2.93" fill="#8a9242" stroke="none" stroke-width="0.5" opacity="0.7"/>
<rect x="458.33" y="620.72" width="1.00" height="2.60" fill="#6b5426" stroke="none" stroke-width="0.5" opacity="0.8"/>
<rect x="459.55" y="631.75" width="1.00" height="2.82" fill="#6b5426" stroke="none" stroke-width="0.5" opacity="0.8"/>
<rect x="459.74" y="660.26" width="1.00" height="2.24" fill="#6b5426" stroke="none" stroke-width="0.5" opacity="0.8"/>
<rect x="459.60" y="646.93" width="1.00" height="2.18" fill="#6b5426" stroke="none" stroke-width="0.5" opacity="0.8"/>
<rect x="458.84" y="615.47" width="1.00" height="2.15" fill="#6b5426" stroke="none" stroke-width="0.5" opacity="0.8"/>
<rect x="457.94" y="617.69" width="1.00" height="1.53" fill="#6b5426" stroke="none" stroke-width="0.5" opacity="0.8"/>
<path d="M459.90 608.50 L461.30 603.50" fill="none" stroke="#8f9a48" stroke-width="1.0"/>
<path d="M460.35 651.55 L462.65 647.05" fill="none" stroke="#a39a5e" stroke-width="0.9"/>
<rect x="464.20" y="526.40" width="2.00" height="170.00" fill="url(#gculm)" stroke="none" stroke-width="0.5"/>
<rect x="463.85" y="681.50" width="2.70" height="14.90" fill="url(#gsheathg)" stroke="none" stroke-width="0.5"/>
<rect x="463.65" y="601.00" width="3.10" height="80.50" fill="url(#gsheath)" stroke="none" stroke-width="0.5"/>
<rect x="463.95" y="613.44" width="2.50" height="8.62" fill="#b6bca6" stroke="none" stroke-width="0.5" opacity="0.65"/>
<rect x="463.95" y="629.47" width="2.50" height="8.15" fill="#8a9242" stroke="none" stroke-width="0.5" opacity="0.7"/>
<rect x="463.95" y="641.63" width="2.50" height="7.48" fill="#8a9242" stroke="none" stroke-width="0.5" opacity="0.7"/>
<rect x="463.95" y="649.11" width="2.50" height="7.45" fill="#8a9242" stroke="none" stroke-width="0.5" opacity="0.7"/>
<rect x="463.95" y="656.57" width="2.50" height="5.16" fill="#b6bca6" stroke="none" stroke-width="0.5" opacity="0.65"/>
<rect x="463.95" y="661.73" width="2.50" height="4.37" fill="#8a9242" stroke="none" stroke-width="0.5" opacity="0.7"/>
<rect x="463.95" y="677.06" width="2.50" height="4.44" fill="#8a9242" stroke="none" stroke-width="0.5" opacity="0.7"/>
<rect x="463.84" y="622.85" width="1.00" height="2.42" fill="#6b5426" stroke="none" stroke-width="0.5" opacity="0.8"/>
<rect x="464.57" y="633.39" width="1.00" height="1.64" fill="#6b5426" stroke="none" stroke-width="0.5" opacity="0.8"/>
<rect x="465.24" y="662.00" width="1.00" height="2.01" fill="#6b5426" stroke="none" stroke-width="0.5" opacity="0.8"/>
<rect x="464.14" y="665.76" width="1.00" height="1.82" fill="#6b5426" stroke="none" stroke-width="0.5" opacity="0.8"/>
<rect x="464.13" y="676.18" width="1.00" height="1.46" fill="#6b5426" stroke="none" stroke-width="0.5" opacity="0.8"/>
<rect x="465.06" y="603.52" width="1.00" height="2.68" fill="#6b5426" stroke="none" stroke-width="0.5" opacity="0.8"/>
<rect x="464.65" y="605.06" width="1.00" height="1.91" fill="#6b5426" stroke="none" stroke-width="0.5" opacity="0.8"/>
<rect x="464.14" y="626.74" width="1.00" height="1.89" fill="#6b5426" stroke="none" stroke-width="0.5" opacity="0.8"/>
<path d="M465.80 602.50 L467.20 597.50" fill="none" stroke="#8f9a48" stroke-width="1.0"/>
<path d="M466.25 648.12 L468.55 643.62" fill="none" stroke="#a39a5e" stroke-width="0.9"/>
<path d="M451.00 603.40 L457.30 606.00 L451.00 608.60 Z" fill="#ff0000" stroke="none" stroke-width="0"/>
<path d="M450.00 666.90 L456.30 669.50 L450.00 672.10 Z" fill="#ff0000" stroke="none" stroke-width="0"/>
<rect x="490.00" y="526.40" width="2.00" height="170.00" fill="url(#gculm)" stroke="none" stroke-width="0.5"/>
<rect x="489.65" y="669.70" width="2.70" height="26.70" fill="url(#gsheathg)" stroke="none" stroke-width="0.5"/>
<rect x="489.45" y="603.40" width="3.10" height="66.30" fill="url(#gsheath)" stroke="none" stroke-width="0.5"/>
<rect x="489.75" y="603.40" width="2.50" height="8.48" fill="#8a9242" stroke="none" stroke-width="0.5" opacity="0.7"/>
<rect x="489.75" y="611.88" width="2.50" height="6.34" fill="#b6bca6" stroke="none" stroke-width="0.5" opacity="0.65"/>
<rect x="489.75" y="618.22" width="2.50" height="8.75" fill="#b6bca6" stroke="none" stroke-width="0.5" opacity="0.65"/>
<rect x="489.75" y="626.97" width="2.50" height="5.68" fill="#b6bca6" stroke="none" stroke-width="0.5" opacity="0.65"/>
<rect x="489.75" y="649.55" width="2.50" height="6.29" fill="#b6bca6" stroke="none" stroke-width="0.5" opacity="0.65"/>
<rect x="489.75" y="655.84" width="2.50" height="6.25" fill="#b6bca6" stroke="none" stroke-width="0.5" opacity="0.65"/>
<rect x="489.75" y="662.10" width="2.50" height="7.60" fill="#8a9242" stroke="none" stroke-width="0.5" opacity="0.7"/>
<rect x="491.55" y="612.56" width="1.00" height="1.67" fill="#6b5426" stroke="none" stroke-width="0.5" opacity="0.8"/>
<rect x="490.37" y="621.28" width="1.00" height="2.82" fill="#6b5426" stroke="none" stroke-width="0.5" opacity="0.8"/>
<rect x="489.48" y="627.58" width="1.00" height="1.68" fill="#6b5426" stroke="none" stroke-width="0.5" opacity="0.8"/>
<rect x="489.49" y="618.14" width="1.00" height="2.81" fill="#6b5426" stroke="none" stroke-width="0.5" opacity="0.8"/>
<rect x="489.74" y="650.57" width="1.00" height="1.64" fill="#6b5426" stroke="none" stroke-width="0.5" opacity="0.8"/>
<rect x="490.92" y="666.46" width="1.00" height="2.00" fill="#6b5426" stroke="none" stroke-width="0.5" opacity="0.8"/>
<rect x="491.51" y="640.64" width="1.00" height="1.63" fill="#6b5426" stroke="none" stroke-width="0.5" opacity="0.8"/>
<path d="M491.60 604.90 L493.00 599.90" fill="none" stroke="#8f9a48" stroke-width="1.0"/>
<path d="M492.05 650.34 L494.35 645.84" fill="none" stroke="#a39a5e" stroke-width="0.9"/>
<rect x="496.60" y="526.40" width="2.00" height="170.00" fill="url(#gculm)" stroke="none" stroke-width="0.5"/>
<rect x="496.25" y="682.70" width="2.70" height="13.70" fill="url(#gsheathg)" stroke="none" stroke-width="0.5"/>
<rect x="496.05" y="597.40" width="3.10" height="85.30" fill="url(#gsheath)" stroke="none" stroke-width="0.5"/>
<rect x="496.35" y="612.89" width="2.50" height="4.81" fill="#b6bca6" stroke="none" stroke-width="0.5" opacity="0.65"/>
<rect x="496.35" y="625.03" width="2.50" height="6.98" fill="#b6bca6" stroke="none" stroke-width="0.5" opacity="0.65"/>
<rect x="496.35" y="632.01" width="2.50" height="5.33" fill="#b6bca6" stroke="none" stroke-width="0.5" opacity="0.65"/>
<rect x="496.35" y="637.34" width="2.50" height="7.31" fill="#b6bca6" stroke="none" stroke-width="0.5" opacity="0.65"/>
<rect x="496.35" y="650.86" width="2.50" height="6.80" fill="#8a9242" stroke="none" stroke-width="0.5" opacity="0.7"/>
<rect x="496.35" y="668.46" width="2.50" height="3.31" fill="#8a9242" stroke="none" stroke-width="0.5" opacity="0.7"/>
<rect x="496.69" y="631.59" width="1.00" height="2.69" fill="#6b5426" stroke="none" stroke-width="0.5" opacity="0.8"/>
<rect x="498.01" y="606.32" width="1.00" height="1.76" fill="#6b5426" stroke="none" stroke-width="0.5" opacity="0.8"/>
<rect x="496.48" y="627.58" width="1.00" height="2.04" fill="#6b5426" stroke="none" stroke-width="0.5" opacity="0.8"/>
<rect x="496.51" y="667.56" width="1.00" height="2.20" fill="#6b5426" stroke="none" stroke-width="0.5" opacity="0.8"/>
<rect x="496.68" y="634.07" width="1.00" height="1.43" fill="#6b5426" stroke="none" stroke-width="0.5" opacity="0.8"/>
<rect x="496.92" y="655.53" width="1.00" height="2.05" fill="#6b5426" stroke="none" stroke-width="0.5" opacity="0.8"/>
<rect x="496.27" y="647.60" width="1.00" height="2.67" fill="#6b5426" stroke="none" stroke-width="0.5" opacity="0.8"/>
<rect x="496.58" y="671.61" width="1.00" height="2.67" fill="#6b5426" stroke="none" stroke-width="0.5" opacity="0.8"/>
<rect x="496.68" y="655.61" width="1.00" height="1.69" fill="#6b5426" stroke="none" stroke-width="0.5" opacity="0.8"/>
<path d="M498.20 598.90 L499.60 593.90" fill="none" stroke="#8f9a48" stroke-width="1.0"/>
<path d="M498.65 646.10 L500.95 641.60" fill="none" stroke="#a39a5e" stroke-width="0.9"/>
<path d="M482.60 599.80 L488.90 602.40 L482.60 605.00 Z" fill="#ff0000" stroke="none" stroke-width="0"/>
<path d="M481.40 668.10 L487.70 670.70 L481.40 673.30 Z" fill="#ff0000" stroke="none" stroke-width="0"/>
<rect x="519.70" y="526.40" width="2.00" height="170.00" fill="url(#gculm)" stroke="none" stroke-width="0.5"/>
<rect x="519.35" y="680.90" width="2.70" height="15.50" fill="url(#gsheathg)" stroke="none" stroke-width="0.5"/>
<rect x="519.15" y="538.40" width="3.10" height="142.50" fill="url(#gsheath)" stroke="none" stroke-width="0.5"/>
<rect x="519.45" y="538.40" width="2.50" height="8.80" fill="#b6bca6" stroke="none" stroke-width="0.5" opacity="0.65"/>
<rect x="519.45" y="547.20" width="2.50" height="5.84" fill="#b6bca6" stroke="none" stroke-width="0.5" opacity="0.65"/>
<rect x="519.45" y="560.64" width="2.50" height="5.52" fill="#8a9242" stroke="none" stroke-width="0.5" opacity="0.7"/>
<rect x="519.45" y="566.17" width="2.50" height="5.25" fill="#8a9242" stroke="none" stroke-width="0.5" opacity="0.7"/>
<rect x="519.45" y="586.78" width="2.50" height="6.34" fill="#b6bca6" stroke="none" stroke-width="0.5" opacity="0.65"/>
<rect x="519.45" y="593.13" width="2.50" height="3.18" fill="#8a9242" stroke="none" stroke-width="0.5" opacity="0.7"/>
<rect x="519.45" y="596.31" width="2.50" height="8.41" fill="#8a9242" stroke="none" stroke-width="0.5" opacity="0.7"/>
<rect x="519.45" y="604.72" width="2.50" height="6.69" fill="#b6bca6" stroke="none" stroke-width="0.5" opacity="0.65"/>
<rect x="519.45" y="620.83" width="2.50" height="3.38" fill="#8a9242" stroke="none" stroke-width="0.5" opacity="0.7"/>
<rect x="519.45" y="624.21" width="2.50" height="7.05" fill="#8a9242" stroke="none" stroke-width="0.5" opacity="0.7"/>
<rect x="519.45" y="631.26" width="2.50" height="3.81" fill="#b6bca6" stroke="none" stroke-width="0.5" opacity="0.65"/>
<rect x="519.45" y="635.07" width="2.50" height="6.84" fill="#8a9242" stroke="none" stroke-width="0.5" opacity="0.7"/>
<rect x="519.45" y="641.91" width="2.50" height="7.05" fill="#b6bca6" stroke="none" stroke-width="0.5" opacity="0.65"/>
<rect x="519.45" y="648.96" width="2.50" height="3.00" fill="#b6bca6" stroke="none" stroke-width="0.5" opacity="0.65"/>
<rect x="519.45" y="651.96" width="2.50" height="3.01" fill="#b6bca6" stroke="none" stroke-width="0.5" opacity="0.65"/>
<rect x="519.45" y="654.97" width="2.50" height="6.66" fill="#b6bca6" stroke="none" stroke-width="0.5" opacity="0.65"/>
<rect x="519.45" y="666.78" width="2.50" height="4.16" fill="#b6bca6" stroke="none" stroke-width="0.5" opacity="0.65"/>
<rect x="519.45" y="670.95" width="2.50" height="6.00" fill="#8a9242" stroke="none" stroke-width="0.5" opacity="0.7"/>
<rect x="519.45" y="676.94" width="2.50" height="3.96" fill="#8a9242" stroke="none" stroke-width="0.5" opacity="0.7"/>
<rect x="520.13" y="649.54" width="1.00" height="1.22" fill="#6b5426" stroke="none" stroke-width="0.5" opacity="0.8"/>
<rect x="520.37" y="580.92" width="1.00" height="2.03" fill="#6b5426" stroke="none" stroke-width="0.5" opacity="0.8"/>
<rect x="519.21" y="666.49" width="1.00" height="2.69" fill="#6b5426" stroke="none" stroke-width="0.5" opacity="0.8"/>
<rect x="519.49" y="659.63" width="1.00" height="2.12" fill="#6b5426" stroke="none" stroke-width="0.5" opacity="0.8"/>
<rect x="520.37" y="545.33" width="1.00" height="2.45" fill="#6b5426" stroke="none" stroke-width="0.5" opacity="0.8"/>
<rect x="520.80" y="579.01" width="1.00" height="1.64" fill="#6b5426" stroke="none" stroke-width="0.5" opacity="0.8"/>
<rect x="520.16" y="546.41" width="1.00" height="2.54" fill="#6b5426" stroke="none" stroke-width="0.5" opacity="0.8"/>
<rect x="519.61" y="580.71" width="1.00" height="2.38" fill="#6b5426" stroke="none" stroke-width="0.5" opacity="0.8"/>
<rect x="519.43" y="632.39" width="1.00" height="1.50" fill="#6b5426" stroke="none" stroke-width="0.5" opacity="0.8"/>
<rect x="520.81" y="625.70" width="1.00" height="1.46" fill="#6b5426" stroke="none" stroke-width="0.5" opacity="0.8"/>
<rect x="520.54" y="628.25" width="1.00" height="1.27" fill="#6b5426" stroke="none" stroke-width="0.5" opacity="0.8"/>
<rect x="520.17" y="634.15" width="1.00" height="1.39" fill="#6b5426" stroke="none" stroke-width="0.5" opacity="0.8"/>
<rect x="519.69" y="557.31" width="1.00" height="2.47" fill="#6b5426" stroke="none" stroke-width="0.5" opacity="0.8"/>
<rect x="520.37" y="559.36" width="1.00" height="2.76" fill="#6b5426" stroke="none" stroke-width="0.5" opacity="0.8"/>
<rect x="520.60" y="618.01" width="1.00" height="1.41" fill="#6b5426" stroke="none" stroke-width="0.5" opacity="0.8"/>
<path d="M521.30 539.90 L522.70 534.90" fill="none" stroke="#8f9a48" stroke-width="1.0"/>
<path d="M521.75 650.96 L524.05 646.46" fill="none" stroke="#a39a5e" stroke-width="0.9"/>
<rect x="526.10" y="526.40" width="2.00" height="170.00" fill="url(#gculm)" stroke="none" stroke-width="0.5"/>
<rect x="525.75" y="691.40" width="2.70" height="5.00" fill="url(#gsheathg)" stroke="none" stroke-width="0.5"/>
<rect x="525.55" y="532.40" width="3.10" height="159.00" fill="url(#gsheath)" stroke="none" stroke-width="0.5"/>
<rect x="525.85" y="532.40" width="2.50" height="3.26" fill="#b6bca6" stroke="none" stroke-width="0.5" opacity="0.65"/>
<rect x="525.85" y="535.66" width="2.50" height="3.12" fill="#b6bca6" stroke="none" stroke-width="0.5" opacity="0.65"/>
<rect x="525.85" y="538.77" width="2.50" height="8.86" fill="#8a9242" stroke="none" stroke-width="0.5" opacity="0.7"/>
<rect x="525.85" y="556.48" width="2.50" height="8.30" fill="#8a9242" stroke="none" stroke-width="0.5" opacity="0.7"/>
<rect x="525.85" y="564.78" width="2.50" height="7.41" fill="#b6bca6" stroke="none" stroke-width="0.5" opacity="0.65"/>
<rect x="525.85" y="572.19" width="2.50" height="6.63" fill="#b6bca6" stroke="none" stroke-width="0.5" opacity="0.65"/>
<rect x="525.85" y="601.31" width="2.50" height="6.70" fill="#b6bca6" stroke="none" stroke-width="0.5" opacity="0.65"/>
<rect x="525.85" y="608.01" width="2.50" height="3.84" fill="#b6bca6" stroke="none" stroke-width="0.5" opacity="0.65"/>
<rect x="525.85" y="611.85" width="2.50" height="3.93" fill="#b6bca6" stroke="none" stroke-width="0.5" opacity="0.65"/>
<rect x="525.85" y="621.33" width="2.50" height="6.54" fill="#b6bca6" stroke="none" stroke-width="0.5" opacity="0.65"/>
<rect x="525.85" y="627.87" width="2.50" height="6.11" fill="#8a9242" stroke="none" stroke-width="0.5" opacity="0.7"/>
<rect x="525.85" y="642.87" width="2.50" height="5.37" fill="#8a9242" stroke="none" stroke-width="0.5" opacity="0.7"/>
<rect x="525.85" y="659.59" width="2.50" height="3.30" fill="#8a9242" stroke="none" stroke-width="0.5" opacity="0.7"/>
<rect x="525.85" y="662.90" width="2.50" height="6.10" fill="#8a9242" stroke="none" stroke-width="0.5" opacity="0.7"/>
<rect x="525.85" y="669.00" width="2.50" height="5.80" fill="#b6bca6" stroke="none" stroke-width="0.5" opacity="0.65"/>
<rect x="525.85" y="679.62" width="2.50" height="5.10" fill="#b6bca6" stroke="none" stroke-width="0.5" opacity="0.65"/>
<rect x="525.85" y="684.71" width="2.50" height="6.57" fill="#8a9242" stroke="none" stroke-width="0.5" opacity="0.7"/>
<rect x="525.88" y="606.37" width="1.00" height="1.30" fill="#6b5426" stroke="none" stroke-width="0.5" opacity="0.8"/>
<rect x="526.13" y="639.93" width="1.00" height="1.49" fill="#6b5426" stroke="none" stroke-width="0.5" opacity="0.8"/>
<rect x="526.42" y="572.90" width="1.00" height="1.46" fill="#6b5426" stroke="none" stroke-width="0.5" opacity="0.8"/>
<rect x="527.07" y="641.52" width="1.00" height="2.95" fill="#6b5426" stroke="none" stroke-width="0.5" opacity="0.8"/>
<rect x="526.21" y="539.09" width="1.00" height="2.41" fill="#6b5426" stroke="none" stroke-width="0.5" opacity="0.8"/>
<rect x="526.07" y="665.11" width="1.00" height="2.76" fill="#6b5426" stroke="none" stroke-width="0.5" opacity="0.8"/>
<rect x="526.70" y="538.99" width="1.00" height="1.24" fill="#6b5426" stroke="none" stroke-width="0.5" opacity="0.8"/>
<rect x="527.05" y="557.33" width="1.00" height="2.00" fill="#6b5426" stroke="none" stroke-width="0.5" opacity="0.8"/>
<rect x="527.52" y="675.35" width="1.00" height="2.00" fill="#6b5426" stroke="none" stroke-width="0.5" opacity="0.8"/>
<rect x="526.34" y="616.07" width="1.00" height="1.50" fill="#6b5426" stroke="none" stroke-width="0.5" opacity="0.8"/>
<rect x="527.22" y="598.11" width="1.00" height="1.94" fill="#6b5426" stroke="none" stroke-width="0.5" opacity="0.8"/>
<rect x="525.83" y="658.65" width="1.00" height="1.39" fill="#6b5426" stroke="none" stroke-width="0.5" opacity="0.8"/>
<rect x="526.04" y="686.31" width="1.00" height="1.46" fill="#6b5426" stroke="none" stroke-width="0.5" opacity="0.8"/>
<rect x="527.14" y="671.50" width="1.00" height="2.79" fill="#6b5426" stroke="none" stroke-width="0.5" opacity="0.8"/>
<rect x="525.80" y="668.10" width="1.00" height="2.23" fill="#6b5426" stroke="none" stroke-width="0.5" opacity="0.8"/>
<rect x="526.11" y="633.36" width="1.00" height="2.29" fill="#6b5426" stroke="none" stroke-width="0.5" opacity="0.8"/>
<rect x="526.22" y="587.95" width="1.00" height="1.91" fill="#6b5426" stroke="none" stroke-width="0.5" opacity="0.8"/>
<path d="M527.70 533.90 L529.10 528.90" fill="none" stroke="#8f9a48" stroke-width="1.0"/>
<path d="M528.15 641.88 L530.45 637.38" fill="none" stroke="#a39a5e" stroke-width="0.9"/>
<path d="M512.90 534.80 L519.20 537.40 L512.90 540.00 Z" fill="#ff0000" stroke="none" stroke-width="0"/>
<path d="M512.00 679.30 L518.30 681.90 L512.00 684.50 Z" fill="#ff0000" stroke="none" stroke-width="0"/>
<rect x="547.60" y="526.40" width="2.00" height="170.00" fill="url(#gculm)" stroke="none" stroke-width="0.5"/>
<rect x="547.25" y="672.10" width="2.70" height="24.30" fill="url(#gsheathg)" stroke="none" stroke-width="0.5"/>
<rect x="547.05" y="549.80" width="3.10" height="122.30" fill="url(#gsheath)" stroke="none" stroke-width="0.5"/>
<rect x="547.35" y="549.80" width="2.50" height="6.48" fill="#8a9242" stroke="none" stroke-width="0.5" opacity="0.7"/>
<rect x="547.35" y="563.14" width="2.50" height="3.25" fill="#b6bca6" stroke="none" stroke-width="0.5" opacity="0.65"/>
<rect x="547.35" y="566.38" width="2.50" height="5.12" fill="#8a9242" stroke="none" stroke-width="0.5" opacity="0.7"/>
<rect x="547.35" y="579.77" width="2.50" height="7.82" fill="#b6bca6" stroke="none" stroke-width="0.5" opacity="0.65"/>
<rect x="547.35" y="587.59" width="2.50" height="8.23" fill="#8a9242" stroke="none" stroke-width="0.5" opacity="0.7"/>
<rect x="547.35" y="595.82" width="2.50" height="5.94" fill="#b6bca6" stroke="none" stroke-width="0.5" opacity="0.65"/>
<rect x="547.35" y="601.76" width="2.50" height="3.44" fill="#b6bca6" stroke="none" stroke-width="0.5" opacity="0.65"/>
<rect x="547.35" y="605.20" width="2.50" height="5.26" fill="#b6bca6" stroke="none" stroke-width="0.5" opacity="0.65"/>
<rect x="547.35" y="614.07" width="2.50" height="3.81" fill="#8a9242" stroke="none" stroke-width="0.5" opacity="0.7"/>
<rect x="547.35" y="617.87" width="2.50" height="8.21" fill="#8a9242" stroke="none" stroke-width="0.5" opacity="0.7"/>
<rect x="547.35" y="640.32" width="2.50" height="3.95" fill="#b6bca6" stroke="none" stroke-width="0.5" opacity="0.65"/>
<rect x="547.35" y="648.05" width="2.50" height="4.36" fill="#8a9242" stroke="none" stroke-width="0.5" opacity="0.7"/>
<rect x="547.35" y="662.79" width="2.50" height="6.54" fill="#b6bca6" stroke="none" stroke-width="0.5" opacity="0.65"/>
<rect x="547.35" y="669.33" width="2.50" height="2.77" fill="#8a9242" stroke="none" stroke-width="0.5" opacity="0.7"/>
<rect x="547.65" y="597.91" width="1.00" height="1.57" fill="#6b5426" stroke="none" stroke-width="0.5" opacity="0.8"/>
<rect x="548.33" y="658.54" width="1.00" height="2.02" fill="#6b5426" stroke="none" stroke-width="0.5" opacity="0.8"/>
<rect x="547.42" y="624.38" width="1.00" height="2.78" fill="#6b5426" stroke="none" stroke-width="0.5" opacity="0.8"/>
<rect x="547.68" y="609.06" width="1.00" height="2.45" fill="#6b5426" stroke="none" stroke-width="0.5" opacity="0.8"/>
<rect x="548.53" y="608.29" width="1.00" height="1.43" fill="#6b5426" stroke="none" stroke-width="0.5" opacity="0.8"/>
<rect x="548.90" y="664.75" width="1.00" height="1.43" fill="#6b5426" stroke="none" stroke-width="0.5" opacity="0.8"/>
<rect x="547.12" y="612.10" width="1.00" height="1.31" fill="#6b5426" stroke="none" stroke-width="0.5" opacity="0.8"/>
<rect x="547.19" y="574.68" width="1.00" height="2.92" fill="#6b5426" stroke="none" stroke-width="0.5" opacity="0.8"/>
<rect x="548.21" y="608.80" width="1.00" height="2.49" fill="#6b5426" stroke="none" stroke-width="0.5" opacity="0.8"/>
<rect x="548.07" y="583.41" width="1.00" height="2.47" fill="#6b5426" stroke="none" stroke-width="0.5" opacity="0.8"/>
<rect x="547.71" y="621.83" width="1.00" height="1.31" fill="#6b5426" stroke="none" stroke-width="0.5" opacity="0.8"/>
<rect x="549.12" y="657.31" width="1.00" height="2.97" fill="#6b5426" stroke="none" stroke-width="0.5" opacity="0.8"/>
<rect x="547.48" y="565.46" width="1.00" height="1.57" fill="#6b5426" stroke="none" stroke-width="0.5" opacity="0.8"/>
<path d="M549.20 551.30 L550.60 546.30" fill="none" stroke="#8f9a48" stroke-width="1.0"/>
<path d="M549.65 642.65 L551.95 638.15" fill="none" stroke="#a39a5e" stroke-width="0.9"/>
<rect x="554.00" y="526.40" width="2.00" height="170.00" fill="url(#gculm)" stroke="none" stroke-width="0.5"/>
<rect x="553.65" y="685.10" width="2.70" height="11.30" fill="url(#gsheathg)" stroke="none" stroke-width="0.5"/>
<rect x="553.45" y="543.80" width="3.10" height="141.30" fill="url(#gsheath)" stroke="none" stroke-width="0.5"/>
<rect x="553.75" y="548.15" width="2.50" height="8.67" fill="#8a9242" stroke="none" stroke-width="0.5" opacity="0.7"/>
<rect x="553.75" y="564.90" width="2.50" height="7.08" fill="#8a9242" stroke="none" stroke-width="0.5" opacity="0.7"/>
<rect x="553.75" y="571.98" width="2.50" height="7.97" fill="#b6bca6" stroke="none" stroke-width="0.5" opacity="0.65"/>
<rect x="553.75" y="579.95" width="2.50" height="7.84" fill="#b6bca6" stroke="none" stroke-width="0.5" opacity="0.65"/>
<rect x="553.75" y="609.20" width="2.50" height="8.44" fill="#8a9242" stroke="none" stroke-width="0.5" opacity="0.7"/>
<rect x="553.75" y="624.49" width="2.50" height="4.83" fill="#8a9242" stroke="none" stroke-width="0.5" opacity="0.7"/>
<rect x="553.75" y="629.32" width="2.50" height="7.49" fill="#b6bca6" stroke="none" stroke-width="0.5" opacity="0.65"/>
<rect x="553.75" y="636.81" width="2.50" height="8.79" fill="#8a9242" stroke="none" stroke-width="0.5" opacity="0.7"/>
<rect x="553.75" y="645.61" width="2.50" height="3.53" fill="#b6bca6" stroke="none" stroke-width="0.5" opacity="0.65"/>
<rect x="553.75" y="657.21" width="2.50" height="3.64" fill="#8a9242" stroke="none" stroke-width="0.5" opacity="0.7"/>
<rect x="553.75" y="660.85" width="2.50" height="3.77" fill="#b6bca6" stroke="none" stroke-width="0.5" opacity="0.65"/>
<rect x="553.75" y="664.61" width="2.50" height="7.67" fill="#b6bca6" stroke="none" stroke-width="0.5" opacity="0.65"/>
<rect x="553.75" y="672.28" width="2.50" height="6.22" fill="#8a9242" stroke="none" stroke-width="0.5" opacity="0.7"/>
<rect x="554.09" y="599.46" width="1.00" height="2.44" fill="#6b5426" stroke="none" stroke-width="0.5" opacity="0.8"/>
<rect x="553.57" y="667.10" width="1.00" height="2.35" fill="#6b5426" stroke="none" stroke-width="0.5" opacity="0.8"/>
<rect x="554.72" y="627.59" width="1.00" height="2.12" fill="#6b5426" stroke="none" stroke-width="0.5" opacity="0.8"/>
<rect x="555.23" y="638.57" width="1.00" height="1.66" fill="#6b5426" stroke="none" stroke-width="0.5" opacity="0.8"/>
<rect x="553.76" y="564.24" width="1.00" height="2.19" fill="#6b5426" stroke="none" stroke-width="0.5" opacity="0.8"/>
<rect x="554.44" y="577.66" width="1.00" height="2.15" fill="#6b5426" stroke="none" stroke-width="0.5" opacity="0.8"/>
<rect x="554.76" y="604.68" width="1.00" height="2.15" fill="#6b5426" stroke="none" stroke-width="0.5" opacity="0.8"/>
<rect x="555.09" y="617.68" width="1.00" height="1.87" fill="#6b5426" stroke="none" stroke-width="0.5" opacity="0.8"/>
<rect x="555.36" y="547.46" width="1.00" height="1.85" fill="#6b5426" stroke="none" stroke-width="0.5" opacity="0.8"/>
<rect x="553.70" y="598.95" width="1.00" height="2.24" fill="#6b5426" stroke="none" stroke-width="0.5" opacity="0.8"/>
<rect x="553.61" y="656.62" width="1.00" height="2.22" fill="#6b5426" stroke="none" stroke-width="0.5" opacity="0.8"/>
<rect x="554.33" y="549.95" width="1.00" height="1.48" fill="#6b5426" stroke="none" stroke-width="0.5" opacity="0.8"/>
<rect x="555.40" y="645.55" width="1.00" height="2.16" fill="#6b5426" stroke="none" stroke-width="0.5" opacity="0.8"/>
<rect x="555.00" y="593.80" width="1.00" height="2.66" fill="#6b5426" stroke="none" stroke-width="0.5" opacity="0.8"/>
<rect x="554.46" y="552.98" width="1.00" height="2.51" fill="#6b5426" stroke="none" stroke-width="0.5" opacity="0.8"/>
<path d="M555.60 545.30 L557.00 540.30" fill="none" stroke="#8f9a48" stroke-width="1.0"/>
<path d="M556.05 653.83 L558.35 649.33" fill="none" stroke="#a39a5e" stroke-width="0.9"/>
<path d="M539.80 546.20 L546.10 548.80 L539.80 551.40 Z" fill="#ff0000" stroke="none" stroke-width="0"/>
<path d="M543.30 670.50 L549.60 673.10 L543.30 675.70 Z" fill="#ff0000" stroke="none" stroke-width="0"/>
<rect x="576.90" y="526.40" width="2.00" height="170.00" fill="url(#gculm)" stroke="none" stroke-width="0.5"/>
<rect x="576.55" y="673.30" width="2.70" height="23.10" fill="url(#gsheathg)" stroke="none" stroke-width="0.5"/>
<rect x="576.35" y="593.10" width="3.10" height="80.20" fill="url(#gsheath)" stroke="none" stroke-width="0.5"/>
<rect x="576.65" y="593.10" width="2.50" height="4.85" fill="#b6bca6" stroke="none" stroke-width="0.5" opacity="0.65"/>
<rect x="576.65" y="602.54" width="2.50" height="5.80" fill="#8a9242" stroke="none" stroke-width="0.5" opacity="0.7"/>
<rect x="576.65" y="624.88" width="2.50" height="4.11" fill="#b6bca6" stroke="none" stroke-width="0.5" opacity="0.65"/>
<rect x="576.65" y="636.49" width="2.50" height="4.00" fill="#8a9242" stroke="none" stroke-width="0.5" opacity="0.7"/>
<rect x="576.65" y="647.26" width="2.50" height="6.07" fill="#b6bca6" stroke="none" stroke-width="0.5" opacity="0.65"/>
<rect x="576.65" y="659.87" width="2.50" height="3.65" fill="#8a9242" stroke="none" stroke-width="0.5" opacity="0.7"/>
<rect x="576.65" y="663.52" width="2.50" height="3.12" fill="#b6bca6" stroke="none" stroke-width="0.5" opacity="0.65"/>
<rect x="576.65" y="666.64" width="2.50" height="4.77" fill="#8a9242" stroke="none" stroke-width="0.5" opacity="0.7"/>
<rect x="578.33" y="614.56" width="1.00" height="1.43" fill="#6b5426" stroke="none" stroke-width="0.5" opacity="0.8"/>
<rect x="578.25" y="663.63" width="1.00" height="1.57" fill="#6b5426" stroke="none" stroke-width="0.5" opacity="0.8"/>
<rect x="576.76" y="657.99" width="1.00" height="2.36" fill="#6b5426" stroke="none" stroke-width="0.5" opacity="0.8"/>
<rect x="577.02" y="602.64" width="1.00" height="2.09" fill="#6b5426" stroke="none" stroke-width="0.5" opacity="0.8"/>
<rect x="578.08" y="622.54" width="1.00" height="2.36" fill="#6b5426" stroke="none" stroke-width="0.5" opacity="0.8"/>
<rect x="577.52" y="595.72" width="1.00" height="1.36" fill="#6b5426" stroke="none" stroke-width="0.5" opacity="0.8"/>
<rect x="577.17" y="606.78" width="1.00" height="1.77" fill="#6b5426" stroke="none" stroke-width="0.5" opacity="0.8"/>
<rect x="578.41" y="636.59" width="1.00" height="2.60" fill="#6b5426" stroke="none" stroke-width="0.5" opacity="0.8"/>
<path d="M578.50 594.60 L579.90 589.60" fill="none" stroke="#8f9a48" stroke-width="1.0"/>
<path d="M578.95 648.15 L581.25 643.65" fill="none" stroke="#a39a5e" stroke-width="0.9"/>
<rect x="584.50" y="526.40" width="2.00" height="170.00" fill="url(#gculm)" stroke="none" stroke-width="0.5"/>
<rect x="584.15" y="686.30" width="2.70" height="10.10" fill="url(#gsheathg)" stroke="none" stroke-width="0.5"/>
<rect x="583.95" y="587.10" width="3.10" height="99.20" fill="url(#gsheath)" stroke="none" stroke-width="0.5"/>
<rect x="584.25" y="587.10" width="2.50" height="5.97" fill="#b6bca6" stroke="none" stroke-width="0.5" opacity="0.65"/>
<rect x="584.25" y="593.07" width="2.50" height="7.86" fill="#8a9242" stroke="none" stroke-width="0.5" opacity="0.7"/>
<rect x="584.25" y="605.85" width="2.50" height="5.92" fill="#b6bca6" stroke="none" stroke-width="0.5" opacity="0.65"/>
<rect x="584.25" y="611.77" width="2.50" height="5.43" fill="#8a9242" stroke="none" stroke-width="0.5" opacity="0.7"/>
<rect x="584.25" y="629.57" width="2.50" height="6.81" fill="#8a9242" stroke="none" stroke-width="0.5" opacity="0.7"/>
<rect x="584.25" y="636.38" width="2.50" height="5.60" fill="#8a9242" stroke="none" stroke-width="0.5" opacity="0.7"/>
<rect x="584.25" y="641.98" width="2.50" height="7.37" fill="#8a9242" stroke="none" stroke-width="0.5" opacity="0.7"/>
<rect x="584.25" y="665.85" width="2.50" height="6.77" fill="#8a9242" stroke="none" stroke-width="0.5" opacity="0.7"/>
<rect x="584.25" y="672.62" width="2.50" height="7.28" fill="#8a9242" stroke="none" stroke-width="0.5" opacity="0.7"/>
<rect x="584.25" y="679.90" width="2.50" height="5.45" fill="#8a9242" stroke="none" stroke-width="0.5" opacity="0.7"/>
<rect x="584.72" y="592.78" width="1.00" height="1.23" fill="#6b5426" stroke="none" stroke-width="0.5" opacity="0.8"/>
<rect x="585.74" y="624.54" width="1.00" height="3.00" fill="#6b5426" stroke="none" stroke-width="0.5" opacity="0.8"/>
<rect x="584.18" y="628.21" width="1.00" height="1.82" fill="#6b5426" stroke="none" stroke-width="0.5" opacity="0.8"/>
<rect x="584.41" y="593.30" width="1.00" height="2.32" fill="#6b5426" stroke="none" stroke-width="0.5" opacity="0.8"/>
<rect x="584.02" y="647.06" width="1.00" height="2.08" fill="#6b5426" stroke="none" stroke-width="0.5" opacity="0.8"/>
<rect x="584.79" y="628.17" width="1.00" height="1.44" fill="#6b5426" stroke="none" stroke-width="0.5" opacity="0.8"/>
<rect x="584.16" y="625.33" width="1.00" height="2.44" fill="#6b5426" stroke="none" stroke-width="0.5" opacity="0.8"/>
<rect x="585.27" y="650.23" width="1.00" height="1.93" fill="#6b5426" stroke="none" stroke-width="0.5" opacity="0.8"/>
<rect x="584.72" y="680.10" width="1.00" height="1.57" fill="#6b5426" stroke="none" stroke-width="0.5" opacity="0.8"/>
<rect x="585.87" y="623.39" width="1.00" height="1.48" fill="#6b5426" stroke="none" stroke-width="0.5" opacity="0.8"/>
<rect x="585.92" y="661.33" width="1.00" height="2.73" fill="#6b5426" stroke="none" stroke-width="0.5" opacity="0.8"/>
<path d="M586.10 588.60 L587.50 583.60" fill="none" stroke="#8f9a48" stroke-width="1.0"/>
<path d="M586.55 653.21 L588.85 648.71" fill="none" stroke="#a39a5e" stroke-width="0.9"/>
<path d="M570.00 589.50 L576.30 592.10 L570.00 594.70 Z" fill="#ff0000" stroke="none" stroke-width="0"/>
<path d="M571.70 671.70 L578.00 674.30 L571.70 676.90 Z" fill="#ff0000" stroke="none" stroke-width="0"/>
<rect x="606.40" y="526.40" width="2.00" height="170.00" fill="url(#gculm)" stroke="none" stroke-width="0.5"/>
<rect x="606.05" y="665.70" width="2.70" height="30.70" fill="url(#gsheathg)" stroke="none" stroke-width="0.5"/>
<rect x="605.85" y="587.70" width="3.10" height="78.00" fill="url(#gsheath)" stroke="none" stroke-width="0.5"/>
<rect x="606.15" y="587.70" width="2.50" height="8.57" fill="#8a9242" stroke="none" stroke-width="0.5" opacity="0.7"/>
<rect x="606.15" y="596.27" width="2.50" height="8.82" fill="#8a9242" stroke="none" stroke-width="0.5" opacity="0.7"/>
<rect x="606.15" y="610.88" width="2.50" height="5.13" fill="#b6bca6" stroke="none" stroke-width="0.5" opacity="0.65"/>
<rect x="606.15" y="619.98" width="2.50" height="8.91" fill="#8a9242" stroke="none" stroke-width="0.5" opacity="0.7"/>
<rect x="606.15" y="628.90" width="2.50" height="3.74" fill="#b6bca6" stroke="none" stroke-width="0.5" opacity="0.65"/>
<rect x="606.15" y="638.74" width="2.50" height="5.06" fill="#b6bca6" stroke="none" stroke-width="0.5" opacity="0.65"/>
<rect x="606.15" y="643.80" width="2.50" height="3.96" fill="#8a9242" stroke="none" stroke-width="0.5" opacity="0.7"/>
<rect x="606.15" y="647.76" width="2.50" height="3.47" fill="#b6bca6" stroke="none" stroke-width="0.5" opacity="0.65"/>
<rect x="606.15" y="657.61" width="2.50" height="8.09" fill="#8a9242" stroke="none" stroke-width="0.5" opacity="0.7"/>
<rect x="606.82" y="613.74" width="1.00" height="2.90" fill="#6b5426" stroke="none" stroke-width="0.5" opacity="0.8"/>
<rect x="606.46" y="611.06" width="1.00" height="1.97" fill="#6b5426" stroke="none" stroke-width="0.5" opacity="0.8"/>
<rect x="606.44" y="640.12" width="1.00" height="1.51" fill="#6b5426" stroke="none" stroke-width="0.5" opacity="0.8"/>
<rect x="607.06" y="643.31" width="1.00" height="2.24" fill="#6b5426" stroke="none" stroke-width="0.5" opacity="0.8"/>
<rect x="606.37" y="588.74" width="1.00" height="1.38" fill="#6b5426" stroke="none" stroke-width="0.5" opacity="0.8"/>
<rect x="607.75" y="615.46" width="1.00" height="2.98" fill="#6b5426" stroke="none" stroke-width="0.5" opacity="0.8"/>
<rect x="606.63" y="652.04" width="1.00" height="2.22" fill="#6b5426" stroke="none" stroke-width="0.5" opacity="0.8"/>
<rect x="606.57" y="655.85" width="1.00" height="1.92" fill="#6b5426" stroke="none" stroke-width="0.5" opacity="0.8"/>
<path d="M608.00 589.20 L609.40 584.20" fill="none" stroke="#8f9a48" stroke-width="1.0"/>
<path d="M608.45 644.52 L610.75 640.02" fill="none" stroke="#a39a5e" stroke-width="0.9"/>
<rect x="613.50" y="526.40" width="2.00" height="170.00" fill="url(#gculm)" stroke="none" stroke-width="0.5"/>
<rect x="613.15" y="678.70" width="2.70" height="17.70" fill="url(#gsheathg)" stroke="none" stroke-width="0.5"/>
<rect x="612.95" y="581.70" width="3.10" height="97.00" fill="url(#gsheath)" stroke="none" stroke-width="0.5"/>
<rect x="613.25" y="581.70" width="2.50" height="5.67" fill="#8a9242" stroke="none" stroke-width="0.5" opacity="0.7"/>
<rect x="613.25" y="587.37" width="2.50" height="8.46" fill="#b6bca6" stroke="none" stroke-width="0.5" opacity="0.65"/>
<rect x="613.25" y="599.35" width="2.50" height="3.45" fill="#8a9242" stroke="none" stroke-width="0.5" opacity="0.7"/>
<rect x="613.25" y="618.64" width="2.50" height="8.23" fill="#8a9242" stroke="none" stroke-width="0.5" opacity="0.7"/>
<rect x="613.25" y="658.54" width="2.50" height="5.92" fill="#8a9242" stroke="none" stroke-width="0.5" opacity="0.7"/>
<rect x="613.25" y="664.46" width="2.50" height="8.39" fill="#8a9242" stroke="none" stroke-width="0.5" opacity="0.7"/>
<rect x="613.25" y="672.85" width="2.50" height="5.05" fill="#8a9242" stroke="none" stroke-width="0.5" opacity="0.7"/>
<rect x="613.20" y="673.52" width="1.00" height="2.24" fill="#6b5426" stroke="none" stroke-width="0.5" opacity="0.8"/>
<rect x="614.23" y="671.28" width="1.00" height="2.87" fill="#6b5426" stroke="none" stroke-width="0.5" opacity="0.8"/>
<rect x="613.87" y="619.16" width="1.00" height="1.87" fill="#6b5426" stroke="none" stroke-width="0.5" opacity="0.8"/>
<rect x="613.68" y="616.75" width="1.00" height="1.33" fill="#6b5426" stroke="none" stroke-width="0.5" opacity="0.8"/>
<rect x="614.49" y="675.30" width="1.00" height="2.42" fill="#6b5426" stroke="none" stroke-width="0.5" opacity="0.8"/>
<rect x="613.37" y="632.27" width="1.00" height="1.61" fill="#6b5426" stroke="none" stroke-width="0.5" opacity="0.8"/>
<rect x="614.68" y="673.60" width="1.00" height="2.02" fill="#6b5426" stroke="none" stroke-width="0.5" opacity="0.8"/>
<rect x="614.96" y="652.32" width="1.00" height="1.28" fill="#6b5426" stroke="none" stroke-width="0.5" opacity="0.8"/>
<rect x="613.79" y="616.45" width="1.00" height="1.81" fill="#6b5426" stroke="none" stroke-width="0.5" opacity="0.8"/>
<rect x="613.57" y="632.95" width="1.00" height="1.42" fill="#6b5426" stroke="none" stroke-width="0.5" opacity="0.8"/>
<path d="M615.10 583.20 L616.50 578.20" fill="none" stroke="#8f9a48" stroke-width="1.0"/>
<path d="M615.55 656.13 L617.85 651.63" fill="none" stroke="#a39a5e" stroke-width="0.9"/>
<path d="M600.20 584.10 L606.50 586.70 L600.20 589.30 Z" fill="#ff0000" stroke="none" stroke-width="0"/>
<path d="M601.40 664.10 L607.70 666.70 L601.40 669.30 Z" fill="#ff0000" stroke="none" stroke-width="0"/>
<rect x="634.50" y="526.40" width="2.00" height="170.00" fill="url(#gculm)" stroke="none" stroke-width="0.5"/>
<rect x="634.15" y="662.60" width="2.70" height="33.80" fill="url(#gsheathg)" stroke="none" stroke-width="0.5"/>
<rect x="633.95" y="580.00" width="3.10" height="82.60" fill="url(#gsheath)" stroke="none" stroke-width="0.5"/>
<rect x="634.25" y="601.61" width="2.50" height="7.82" fill="#8a9242" stroke="none" stroke-width="0.5" opacity="0.7"/>
<rect x="634.25" y="630.37" width="2.50" height="3.03" fill="#8a9242" stroke="none" stroke-width="0.5" opacity="0.7"/>
<rect x="634.25" y="633.40" width="2.50" height="3.63" fill="#8a9242" stroke="none" stroke-width="0.5" opacity="0.7"/>
<rect x="634.25" y="637.03" width="2.50" height="6.53" fill="#8a9242" stroke="none" stroke-width="0.5" opacity="0.7"/>
<rect x="634.25" y="647.75" width="2.50" height="7.62" fill="#b6bca6" stroke="none" stroke-width="0.5" opacity="0.65"/>
<rect x="634.25" y="659.65" width="2.50" height="2.95" fill="#b6bca6" stroke="none" stroke-width="0.5" opacity="0.65"/>
<rect x="634.71" y="604.75" width="1.00" height="2.08" fill="#6b5426" stroke="none" stroke-width="0.5" opacity="0.8"/>
<rect x="633.95" y="594.42" width="1.00" height="2.04" fill="#6b5426" stroke="none" stroke-width="0.5" opacity="0.8"/>
<rect x="634.07" y="597.21" width="1.00" height="1.71" fill="#6b5426" stroke="none" stroke-width="0.5" opacity="0.8"/>
<rect x="635.69" y="634.23" width="1.00" height="1.25" fill="#6b5426" stroke="none" stroke-width="0.5" opacity="0.8"/>
<rect x="634.59" y="644.99" width="1.00" height="2.74" fill="#6b5426" stroke="none" stroke-width="0.5" opacity="0.8"/>
<rect x="634.58" y="651.48" width="1.00" height="2.36" fill="#6b5426" stroke="none" stroke-width="0.5" opacity="0.8"/>
<rect x="634.45" y="625.88" width="1.00" height="2.93" fill="#6b5426" stroke="none" stroke-width="0.5" opacity="0.8"/>
<rect x="635.94" y="632.88" width="1.00" height="1.47" fill="#6b5426" stroke="none" stroke-width="0.5" opacity="0.8"/>
<rect x="635.88" y="600.78" width="1.00" height="1.74" fill="#6b5426" stroke="none" stroke-width="0.5" opacity="0.8"/>
<path d="M636.10 581.50 L637.50 576.50" fill="none" stroke="#8f9a48" stroke-width="1.0"/>
<path d="M636.55 633.13 L638.85 628.63" fill="none" stroke="#a39a5e" stroke-width="0.9"/>
<rect x="640.40" y="526.40" width="2.00" height="170.00" fill="url(#gculm)" stroke="none" stroke-width="0.5"/>
<rect x="640.05" y="675.60" width="2.70" height="20.80" fill="url(#gsheathg)" stroke="none" stroke-width="0.5"/>
<rect x="639.85" y="574.00" width="3.10" height="101.60" fill="url(#gsheath)" stroke="none" stroke-width="0.5"/>
<rect x="640.15" y="574.00" width="2.50" height="5.49" fill="#8a9242" stroke="none" stroke-width="0.5" opacity="0.7"/>
<rect x="640.15" y="579.49" width="2.50" height="8.07" fill="#b6bca6" stroke="none" stroke-width="0.5" opacity="0.65"/>
<rect x="640.15" y="587.56" width="2.50" height="6.17" fill="#b6bca6" stroke="none" stroke-width="0.5" opacity="0.65"/>
<rect x="640.15" y="598.76" width="2.50" height="8.40" fill="#8a9242" stroke="none" stroke-width="0.5" opacity="0.7"/>
<rect x="640.15" y="607.16" width="2.50" height="6.37" fill="#8a9242" stroke="none" stroke-width="0.5" opacity="0.7"/>
<rect x="640.15" y="620.46" width="2.50" height="3.27" fill="#8a9242" stroke="none" stroke-width="0.5" opacity="0.7"/>
<rect x="640.15" y="637.69" width="2.50" height="3.82" fill="#b6bca6" stroke="none" stroke-width="0.5" opacity="0.65"/>
<rect x="640.15" y="641.52" width="2.50" height="6.46" fill="#b6bca6" stroke="none" stroke-width="0.5" opacity="0.65"/>
<rect x="640.15" y="652.36" width="2.50" height="6.81" fill="#b6bca6" stroke="none" stroke-width="0.5" opacity="0.65"/>
<rect x="640.42" y="650.00" width="1.00" height="1.51" fill="#6b5426" stroke="none" stroke-width="0.5" opacity="0.8"/>
<rect x="640.40" y="616.84" width="1.00" height="2.78" fill="#6b5426" stroke="none" stroke-width="0.5" opacity="0.8"/>
<rect x="641.57" y="574.93" width="1.00" height="1.49" fill="#6b5426" stroke="none" stroke-width="0.5" opacity="0.8"/>
<rect x="640.76" y="654.86" width="1.00" height="1.44" fill="#6b5426" stroke="none" stroke-width="0.5" opacity="0.8"/>
<rect x="640.73" y="672.14" width="1.00" height="2.96" fill="#6b5426" stroke="none" stroke-width="0.5" opacity="0.8"/>
<rect x="640.35" y="606.12" width="1.00" height="2.20" fill="#6b5426" stroke="none" stroke-width="0.5" opacity="0.8"/>
<rect x="641.06" y="593.39" width="1.00" height="2.47" fill="#6b5426" stroke="none" stroke-width="0.5" opacity="0.8"/>
<rect x="639.86" y="637.86" width="1.00" height="2.40" fill="#6b5426" stroke="none" stroke-width="0.5" opacity="0.8"/>
<rect x="640.80" y="600.70" width="1.00" height="2.74" fill="#6b5426" stroke="none" stroke-width="0.5" opacity="0.8"/>
<rect x="640.13" y="660.32" width="1.00" height="1.36" fill="#6b5426" stroke="none" stroke-width="0.5" opacity="0.8"/>
<rect x="640.76" y="649.05" width="1.00" height="2.47" fill="#6b5426" stroke="none" stroke-width="0.5" opacity="0.8"/>
<path d="M642.00 575.50 L643.40 570.50" fill="none" stroke="#8f9a48" stroke-width="1.0"/>
<path d="M642.45 646.31 L644.75 641.81" fill="none" stroke="#a39a5e" stroke-width="0.9"/>
<path d="M627.10 576.40 L633.40 579.00 L627.10 581.60 Z" fill="#ff0000" stroke="none" stroke-width="0"/>
<path d="M630.20 661.00 L636.50 663.60 L630.20 666.20 Z" fill="#ff0000" stroke="none" stroke-width="0"/>
<rect x="664.20" y="526.40" width="2.00" height="170.00" fill="url(#gculm)" stroke="none" stroke-width="0.5"/>
<rect x="663.85" y="666.60" width="2.70" height="29.80" fill="url(#gsheathg)" stroke="none" stroke-width="0.5"/>
<rect x="663.65" y="586.70" width="3.10" height="79.90" fill="url(#gsheath)" stroke="none" stroke-width="0.5"/>
<rect x="663.95" y="586.70" width="2.50" height="3.42" fill="#b6bca6" stroke="none" stroke-width="0.5" opacity="0.65"/>
<rect x="663.95" y="590.12" width="2.50" height="4.48" fill="#b6bca6" stroke="none" stroke-width="0.5" opacity="0.65"/>
<rect x="663.95" y="605.50" width="2.50" height="8.56" fill="#b6bca6" stroke="none" stroke-width="0.5" opacity="0.65"/>
<rect x="663.95" y="614.06" width="2.50" height="5.81" fill="#8a9242" stroke="none" stroke-width="0.5" opacity="0.7"/>
<rect x="663.95" y="619.87" width="2.50" height="7.71" fill="#8a9242" stroke="none" stroke-width="0.5" opacity="0.7"/>
<rect x="663.95" y="627.58" width="2.50" height="5.18" fill="#8a9242" stroke="none" stroke-width="0.5" opacity="0.7"/>
<rect x="663.95" y="632.76" width="2.50" height="7.37" fill="#b6bca6" stroke="none" stroke-width="0.5" opacity="0.65"/>
<rect x="663.95" y="640.13" width="2.50" height="6.03" fill="#b6bca6" stroke="none" stroke-width="0.5" opacity="0.65"/>
<rect x="664.08" y="662.82" width="1.00" height="1.77" fill="#6b5426" stroke="none" stroke-width="0.5" opacity="0.8"/>
<rect x="664.29" y="624.32" width="1.00" height="1.72" fill="#6b5426" stroke="none" stroke-width="0.5" opacity="0.8"/>
<rect x="665.58" y="602.23" width="1.00" height="2.95" fill="#6b5426" stroke="none" stroke-width="0.5" opacity="0.8"/>
<rect x="665.32" y="654.98" width="1.00" height="1.93" fill="#6b5426" stroke="none" stroke-width="0.5" opacity="0.8"/>
<rect x="664.50" y="610.88" width="1.00" height="1.23" fill="#6b5426" stroke="none" stroke-width="0.5" opacity="0.8"/>
<rect x="664.64" y="595.88" width="1.00" height="1.95" fill="#6b5426" stroke="none" stroke-width="0.5" opacity="0.8"/>
<rect x="664.83" y="637.62" width="1.00" height="1.38" fill="#6b5426" stroke="none" stroke-width="0.5" opacity="0.8"/>
<rect x="664.54" y="652.79" width="1.00" height="2.06" fill="#6b5426" stroke="none" stroke-width="0.5" opacity="0.8"/>
<path d="M665.80 588.20 L667.20 583.20" fill="none" stroke="#8f9a48" stroke-width="1.0"/>
<path d="M666.25 638.06 L668.55 633.56" fill="none" stroke="#a39a5e" stroke-width="0.9"/>
<rect x="671.40" y="526.40" width="2.00" height="170.00" fill="url(#gculm)" stroke="none" stroke-width="0.5"/>
<rect x="671.05" y="679.60" width="2.70" height="16.80" fill="url(#gsheathg)" stroke="none" stroke-width="0.5"/>
<rect x="670.85" y="580.70" width="3.10" height="98.90" fill="url(#gsheath)" stroke="none" stroke-width="0.5"/>
<rect x="671.15" y="584.15" width="2.50" height="8.83" fill="#b6bca6" stroke="none" stroke-width="0.5" opacity="0.65"/>
<rect x="671.15" y="592.98" width="2.50" height="8.67" fill="#b6bca6" stroke="none" stroke-width="0.5" opacity="0.65"/>
<rect x="671.15" y="608.38" width="2.50" height="4.22" fill="#8a9242" stroke="none" stroke-width="0.5" opacity="0.7"/>
<rect x="671.15" y="612.60" width="2.50" height="4.06" fill="#8a9242" stroke="none" stroke-width="0.5" opacity="0.7"/>
<rect x="671.15" y="616.66" width="2.50" height="5.64" fill="#8a9242" stroke="none" stroke-width="0.5" opacity="0.7"/>
<rect x="671.15" y="622.30" width="2.50" height="3.57" fill="#8a9242" stroke="none" stroke-width="0.5" opacity="0.7"/>
<rect x="671.15" y="642.80" width="2.50" height="3.96" fill="#8a9242" stroke="none" stroke-width="0.5" opacity="0.7"/>
<rect x="671.15" y="646.76" width="2.50" height="5.23" fill="#8a9242" stroke="none" stroke-width="0.5" opacity="0.7"/>
<rect x="671.15" y="668.65" width="2.50" height="8.92" fill="#b6bca6" stroke="none" stroke-width="0.5" opacity="0.65"/>
<rect x="671.15" y="677.57" width="2.50" height="2.03" fill="#b6bca6" stroke="none" stroke-width="0.5" opacity="0.65"/>
<rect x="672.55" y="622.87" width="1.00" height="1.21" fill="#6b5426" stroke="none" stroke-width="0.5" opacity="0.8"/>
<rect x="671.58" y="663.65" width="1.00" height="1.25" fill="#6b5426" stroke="none" stroke-width="0.5" opacity="0.8"/>
<rect x="672.68" y="639.34" width="1.00" height="2.29" fill="#6b5426" stroke="none" stroke-width="0.5" opacity="0.8"/>
<rect x="671.77" y="651.96" width="1.00" height="1.91" fill="#6b5426" stroke="none" stroke-width="0.5" opacity="0.8"/>
<rect x="672.68" y="583.09" width="1.00" height="2.23" fill="#6b5426" stroke="none" stroke-width="0.5" opacity="0.8"/>
<rect x="671.25" y="593.66" width="1.00" height="2.17" fill="#6b5426" stroke="none" stroke-width="0.5" opacity="0.8"/>
<rect x="672.85" y="647.80" width="1.00" height="1.97" fill="#6b5426" stroke="none" stroke-width="0.5" opacity="0.8"/>
<rect x="672.32" y="633.74" width="1.00" height="1.31" fill="#6b5426" stroke="none" stroke-width="0.5" opacity="0.8"/>
<rect x="671.65" y="673.83" width="1.00" height="2.97" fill="#6b5426" stroke="none" stroke-width="0.5" opacity="0.8"/>
<rect x="672.61" y="665.50" width="1.00" height="1.46" fill="#6b5426" stroke="none" stroke-width="0.5" opacity="0.8"/>
<path d="M673.00 582.20 L674.40 577.20" fill="none" stroke="#8f9a48" stroke-width="1.0"/>
<path d="M673.45 646.35 L675.75 641.85" fill="none" stroke="#a39a5e" stroke-width="0.9"/>
<path d="M658.00 583.10 L664.30 585.70 L658.00 588.30 Z" fill="#ff0000" stroke="none" stroke-width="0"/>
<path d="M659.30 665.00 L665.60 667.60 L659.30 670.20 Z" fill="#ff0000" stroke="none" stroke-width="0"/>
<rect x="677.10" y="663.60" width="3.00" height="27.40" fill="#ffffff" stroke="none" stroke-width="0.5"/>
<g transform="translate(431.50 706.80) rotate(-45)">
<text x="0" y="0.00" font-size="7.7" text-anchor="end" fill="#231f20">WT</text>
</g>
<g transform="translate(465.70 706.80) rotate(-45)">
<text x="0" y="0.00" font-size="7.7" text-anchor="end" fill="#231f20"><tspan font-style="italic">Chit3</tspan>-OE1</text>
</g>
<g transform="translate(497.90 706.80) rotate(-45)">
<text x="0" y="0.00" font-size="7.7" text-anchor="end" fill="#231f20"><tspan font-style="italic">Chit3</tspan>-OE2</text>
</g>
<g transform="translate(530.00 706.80) rotate(-45)">
<text x="0" y="0.00" font-size="7.7" text-anchor="end" fill="#231f20"><tspan font-style="italic">sbrr1-ko1</tspan></text>
</g>
<g transform="translate(560.10 706.80) rotate(-45)">
<text x="0" y="0.00" font-size="7.7" text-anchor="end" fill="#231f20"><tspan font-style="italic">sip1-ko1</tspan></text>
</g>
<g transform="translate(590.20 706.80) rotate(-45)">
<text x="0" y="0.00" font-size="7.7" text-anchor="end" fill="#231f20" textLength="75.3" lengthAdjust="spacingAndGlyphs"><tspan font-style="italic">sbrr1-ko1</tspan>/<tspan font-style="italic">Chit3</tspan>-OE1</text>
</g>
<g transform="translate(620.30 706.80) rotate(-45)">
<text x="0" y="0.00" font-size="7.7" text-anchor="end" fill="#231f20" textLength="75.3" lengthAdjust="spacingAndGlyphs"><tspan font-style="italic">sbrr1-ko1</tspan>/<tspan font-style="italic">Chit3</tspan>-OE2</text>
</g>
<g transform="translate(649.70 706.80) rotate(-45)">
<text x="0" y="0.00" font-size="7.7" text-anchor="end" fill="#231f20" textLength="72.6" lengthAdjust="spacingAndGlyphs"><tspan font-style="italic">sip1-ko1</tspan>/<tspan font-style="italic">Chit3</tspan>-OE1</text>
</g>
<g transform="translate(676.50 706.80) rotate(-45)">
<text x="0" y="0.00" font-size="7.7" text-anchor="end" fill="#231f20" textLength="72.6" lengthAdjust="spacingAndGlyphs"><tspan font-style="italic">sip1-ko1</tspan>/<tspan font-style="italic">Chit3</tspan>-OE2</text>
</g>
</svg>
</body></html>
